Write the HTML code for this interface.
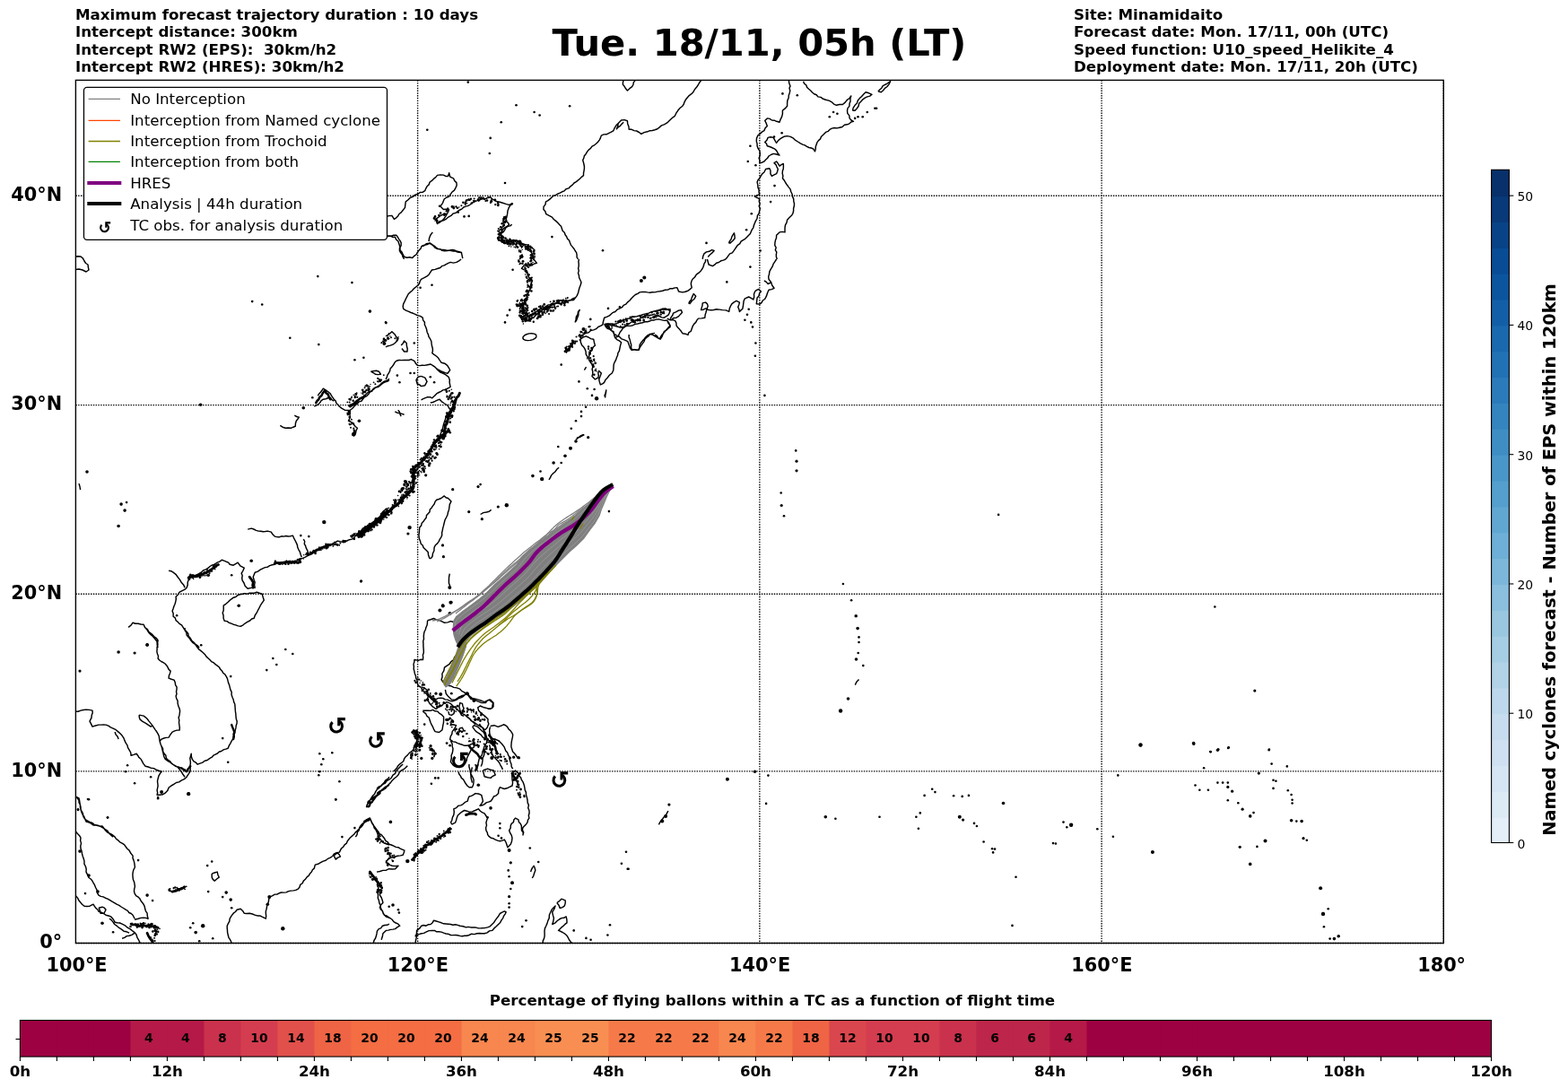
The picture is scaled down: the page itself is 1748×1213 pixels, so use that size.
<!DOCTYPE html>
<html><head><meta charset="utf-8"><title>Trajectory forecast</title>
<style>html,body{margin:0;padding:0;background:#fff;overflow:hidden}svg{display:block}</style></head>
<body><svg width="1748" height="1213" viewBox="0 0 1748 1213" font-family="'DejaVu Sans', 'Liberation Sans', sans-serif"><text x="84.0" y="21.9" font-size="16.67" font-weight="bold" text-anchor="start" >Maximum forecast trajectory duration : 10 days</text>
<text x="84.0" y="40.9" font-size="16.67" font-weight="bold" text-anchor="start" >Intercept distance: 300km</text>
<text x="84.0" y="60.7" font-size="16.67" font-weight="bold" text-anchor="start" >Intercept RW2 (EPS):&#160; 30km/h2</text>
<text x="84.0" y="79.9" font-size="16.67" font-weight="bold" text-anchor="start" >Intercept RW2 (HRES): 30km/h2</text>
<text x="1197.0" y="21.9" font-size="16.67" font-weight="bold" text-anchor="start" >Site: Minamidaito</text>
<text x="1197.0" y="40.9" font-size="16.67" font-weight="bold" text-anchor="start" >Forecast date: Mon. 17/11, 00h (UTC)</text>
<text x="1197.0" y="60.7" font-size="16.67" font-weight="bold" text-anchor="start" >Speed function: U10_speed_Helikite_4</text>
<text x="1197.0" y="79.9" font-size="16.67" font-weight="bold" text-anchor="start" >Deployment date: Mon. 17/11, 20h (UTC)</text>
<text x="846.5" y="61.5" font-size="41.67" font-weight="bold" text-anchor="middle" >Tue. 18/11, 05h (LT)</text>
<g id="map">
<line x1="465.62" y1="89.40" x2="465.62" y2="1051.50" stroke="#000" stroke-width="1.39" stroke-dasharray="1.39 1.39"/>
<line x1="846.85" y1="89.40" x2="846.85" y2="1051.50" stroke="#000" stroke-width="1.39" stroke-dasharray="1.39 1.39"/>
<line x1="1228.08" y1="89.40" x2="1228.08" y2="1051.50" stroke="#000" stroke-width="1.39" stroke-dasharray="1.39 1.39"/>
<line x1="1609.30" y1="89.40" x2="1609.30" y2="1051.50" stroke="#000" stroke-width="1.39" stroke-dasharray="1.39 1.39"/>
<line x1="84.40" y1="1051.50" x2="1609.30" y2="1051.50" stroke="#000" stroke-width="1.39" stroke-dasharray="1.39 1.39"/>
<line x1="84.40" y1="859.91" x2="1609.30" y2="859.91" stroke="#000" stroke-width="1.39" stroke-dasharray="1.39 1.39"/>
<line x1="84.40" y1="662.29" x2="1609.30" y2="662.29" stroke="#000" stroke-width="1.39" stroke-dasharray="1.39 1.39"/>
<line x1="84.40" y1="451.59" x2="1609.30" y2="451.59" stroke="#000" stroke-width="1.39" stroke-dasharray="1.39 1.39"/>
<line x1="84.40" y1="218.30" x2="1609.30" y2="218.30" stroke="#000" stroke-width="1.39" stroke-dasharray="1.39 1.39"/>
<clipPath id="mc"><rect x="84.1" y="89.5" width="1525.2" height="962.5"/></clipPath>
<g clip-path="url(#mc)">
<path fill="none" stroke="#000" stroke-width="1.45" stroke-linejoin="round" d="M430.0,241.7 L433.3,240.6 L436.9,240.4 L439.4,244.3 L441.7,242.8 L443.6,240.9 L445.0,238.5 L447.2,236.9 L449.3,234.2 L451.5,231.4 L451.8,228.2 L452.3,224.9 L455.0,222.8 L457.5,220.3 L460.5,219.3 L462.9,217.1 L466.0,216.3 L468.3,214.5 L471.4,214.2 L473.8,212.6 L474.8,210.1 L476.0,207.8 L478.1,205.9 L479.1,203.1 L481.5,201.4 L483.4,199.4 L485.7,197.6 L487.5,195.4 L490.9,194.9 L494.4,195.1 L496.8,196.4 L499.5,196.4 L500.7,192.8 L501.7,197.1 L505.5,198.8 L506.8,201.6 L508.9,203.6 L509.2,206.5 L508.1,209.1 L506.5,212.1 L503.8,214.3 L502.0,216.8 L500.4,219.4 L497.5,220.2 L495.2,222.0 L493.5,226.3 L490.9,230.1 L494.4,233.5 L497.4,233.2 L500.4,233.2 L499.9,235.7 L498.6,238.0 L497.0,240.8 L495.2,243.5 L493.0,246.0 L490.3,247.8 L487.5,249.5 L486.6,246.9 L485.8,244.3 L488.8,242.2 L491.8,240.0 L495.1,238.8 L498.6,238.3 M486.6,248.6 L489.4,247.2 L492.2,246.2 L495.2,245.5 L497.8,243.8 L500.2,241.8 L502.9,240.4 L505.1,238.1 L508.4,237.3 L510.7,235.2 L512.8,234.0 L515.1,232.8 L516.9,231.0 L519.2,230.1 L522.0,229.4 L524.3,228.0 L526.5,226.3 L528.7,224.7 L531.3,223.9 L534.0,223.4 L536.4,222.0 L539.0,221.7 L541.7,221.5 L544.1,220.2 L546.7,219.8 L548.7,221.8 L551.1,223.2 L553.6,224.6 L557.1,225.2 L560.4,226.3 L563.8,227.4 L567.3,228.4 L571.1,227.3 L568.8,229.0 L567.3,231.4 L566.0,234.9 L565.6,238.7 L565.0,241.4 L564.3,244.1 L563.9,246.9 L566.2,248.1 L567.6,250.3 L565.1,252.5 L562.2,254.1 L560.4,256.0 L559.4,258.5 L557.9,260.6 L556.1,264.4 L558.7,265.7 L560.8,267.8 L564.0,268.8 L567.3,269.5 L570.2,269.3 L573.1,268.6 L575.9,267.8 L578.1,269.0 L580.2,270.3 L582.3,271.7 L584.5,273.0 L586.5,275.0 L589.0,276.4 L591.3,278.1 L592.4,280.8 L593.2,283.5 L594.8,286.0 L595.1,288.9 M644.5,288.9 L643.1,286.8 L643.1,284.1 L642.6,281.6 L641.1,279.5 L639.8,277.2 L638.1,275.1 L636.4,273.1 L635.4,270.6 L634.5,268.0 L632.5,266.1 L631.6,263.7 L630.1,261.7 L629.3,259.3 L627.3,257.5 L626.4,255.1 L625.7,252.6 L623.9,250.7 L621.9,248.4 L619.6,246.4 L617.3,244.5 L615.4,242.1 L612.1,240.3 L608.8,238.7 L607.9,235.8 L605.9,233.5 L606.1,230.4 L608.0,227.9 L608.5,224.9 L610.9,223.6 L613.1,221.9 L615.1,220.0 L617.1,218.1 L619.6,217.4 L621.9,216.0 L624.3,215.1 L626.6,213.8 L629.1,212.9 L631.0,210.7 L634.0,209.9 L635.9,207.8 L638.2,206.1 L640.0,204.0 L642.4,202.6 L644.5,200.9 L646.5,199.2 L648.4,197.3 L650.5,195.7 L650.5,193.2 L651.0,190.6 L651.4,188.0 L651.4,185.5 L650.7,182.0 L649.7,178.6 L650.8,176.3 L651.4,173.7 L653.1,171.7 L654.5,169.3 L656.2,167.1 L658.4,165.4 L660.0,163.1 L662.6,161.8 L664.8,160.0 L666.8,158.0 L668.4,155.9 L669.5,153.6 L670.3,151.1 L673.0,149.9 L676.1,149.8 L678.9,148.4 L681.5,147.2 L684.0,145.6 L685.2,142.6 L686.9,139.8 L689.2,137.4 L692.6,134.0 L696.1,133.6 L699.4,134.7 L699.7,137.9 L700.9,141.0 L701.2,144.3 L704.1,144.3 L706.9,145.6 L709.7,146.0 L712.4,147.5 L714.9,149.4 L718.1,147.6 L721.8,146.8 L724.4,145.7 L727.3,145.5 L730.0,144.8 M689.2,137.4 L688.7,140.8 L687.4,143.9 L689.1,141.8 L691.5,140.3 L693.2,138.1 L695.2,136.2 M430.0,264.1 L433.0,263.4 L436.0,263.2 L438.9,262.1 L442.0,262.3 L443.4,264.4 L444.7,266.6 L446.2,268.6 L447.2,270.9 L447.1,273.9 L445.5,276.5 L445.4,279.5 L446.7,281.9 L448.4,284.0 L449.2,286.7 L450.6,288.9 M469.5,274.7 L472.6,274.0 L475.2,271.8 L478.4,271.3 L481.1,272.4 L483.3,274.3 L485.3,276.4 L487.7,277.6 L490.6,277.7 L492.9,279.3 L495.6,279.8 L498.5,279.6 L501.3,279.0 L504.1,278.5 L506.8,278.9 L509.1,280.7 L511.7,281.2 L514.4,281.6 L515.1,284.8 L515.8,288.1 M478.1,269.2 L478.5,265.7 L479.8,262.3 L482.3,258.9 M695.2,89.0 L694.5,91.5 L694.3,94.1 L696.1,96.3 L697.6,98.8 L699.4,101.0 L701.9,98.7 L704.6,96.7 L705.9,94.5 L706.3,91.9 L708.0,89.9 M557.9,262.3 L559.1,260.0 L561.4,258.4 L562.8,256.2 L563.9,253.8 L566.0,252.4 L568.7,251.9 L570.7,250.3 M555.3,267.5 L558.2,268.4 L560.8,270.3 L563.9,270.9 L566.9,270.1 L569.5,268.5 L572.4,267.5 L574.9,268.3 L577.3,269.2 L579.3,270.9 L582.6,272.3 L586.2,272.6 L588.8,273.2 L590.6,275.3 L593.0,276.1 L596.5,279.5 M730.0,144.8 L732.9,143.8 L735.2,141.9 L737.5,139.9 L740.3,138.8 L742.6,137.6 L744.7,136.1 L746.5,134.3 L748.3,132.5 L750.2,130.8 L752.3,129.3 L753.8,126.2 L755.7,123.3 L758.0,120.5 L760.9,118.2 L762.3,116.0 L763.1,113.6 L764.3,111.3 L766.3,108.7 L768.5,106.3 L771.2,104.4 L773.1,102.3 L774.4,99.7 L776.3,97.6 L778.1,95.0 L779.6,92.3 L781.5,89.9 M879.3,89.0 L879.7,92.6 L881.0,95.9 L880.0,98.3 L880.8,101.1 L880.2,103.7 L879.3,106.2 L879.1,109.2 L877.8,112.1 L877.6,115.1 L877.6,118.2 L875.2,120.9 L872.4,123.3 L872.4,126.8 L871.6,130.2 L870.1,133.1 L869.0,136.2 L865.6,135.3 L863.1,134.2 L860.4,134.0 L858.1,132.4 L855.3,131.9 L852.7,134.5 L854.2,137.4 L855.3,140.5 L853.1,142.8 L851.9,145.6 L849.4,147.1 L847.3,149.1 L845.0,150.8 L843.5,154.1 L843.3,157.6 L844.1,160.2 L844.1,162.8 L845.1,165.5 L846.7,167.9 L847.3,170.7 L847.2,173.4 L846.1,176.2 L847.1,178.9 L846.7,181.7 L849.4,181.2 L851.9,180.0 L853.7,178.0 L855.6,176.3 L857.0,174.0 L859.5,172.5 L862.2,171.4 L865.6,172.0 L869.0,173.1 L867.1,170.7 L865.6,167.9 L863.3,165.8 L860.4,164.5 L857.9,163.5 L855.3,162.8 L854.5,160.3 L852.7,158.5 L854.9,156.2 L856.1,153.4 L859.1,152.8 L862.2,153.4 L863.8,156.4 L865.6,159.4 L867.8,156.4 L870.7,154.2 L873.9,152.3 L877.6,151.6 L881.2,152.4 L884.5,154.2 L886.8,156.4 L889.4,158.0 L891.9,159.7 L894.8,161.1 L897.2,161.9 L899.5,163.3 L901.8,164.5 L904.4,165.0 L906.8,166.2 L908.5,168.8 L909.2,166.3 L909.3,163.6 L910.2,161.1 L911.0,158.6 L912.5,156.6 L914.5,154.9 L915.4,152.5 L918.0,150.0 L920.5,147.4 L923.1,146.4 L925.0,144.4 L927.4,143.1 L930.2,142.5 L933.1,142.9 L935.9,142.2 L939.0,141.5 L941.4,139.3 L944.5,138.8 L946.9,137.8 L948.9,136.0 L951.4,135.3 L948.9,134.0 L947.1,131.9 L946.8,128.9 L944.8,126.4 L944.5,123.3 L945.0,120.6 L946.9,118.4 L947.0,115.6 L948.0,113.0 L947.9,109.9 L948.8,107.0 L947.0,109.5 L944.5,111.3 L942.2,114.1 L939.4,116.5 L935.9,116.5 L932.5,117.3 L929.6,116.1 L927.4,113.9 L924.1,112.1 L920.5,111.3 L917.6,110.3 L915.0,108.4 L911.9,107.9 L910.2,105.7 L907.6,104.7 L905.5,103.0 L903.7,101.0 L901.6,99.3 L899.7,97.5 L898.8,94.9 L896.6,93.2 L895.6,90.7 M950.5,123.3 L951.2,120.1 L953.1,117.3 L955.4,115.1 L956.3,112.0 L958.3,109.6 L960.6,107.4 L962.8,105.0 L965.1,102.7 L968.6,103.8 L972.0,105.3 L969.7,107.1 L966.8,107.9 L964.2,109.1 L961.9,110.8 L960.0,113.0 L957.7,115.2 L957.0,118.5 L955.2,121.0 L953.1,123.3 L950.5,123.3 M978.9,101.9 L980.7,100.0 L982.8,98.3 L984.0,95.9 L986.2,94.6 L988.4,93.5 L990.6,92.2 L992.6,90.7 L990.9,94.1 L989.0,96.5 L986.5,98.4 L984.6,100.8 L982.3,102.7 L978.9,101.9 M846.7,198.8 L848.1,196.3 L849.7,193.9 L851.9,192.0 L853.6,188.5 L857.9,187.7 L859.0,190.5 L858.9,193.6 L860.4,196.3 L863.0,194.9 L865.6,193.7 L866.6,191.2 L867.3,188.5 L866.0,186.1 L865.0,183.6 L863.0,181.7 L865.6,180.0 L867.4,182.4 L869.0,185.1 L871.0,183.6 L873.3,182.5 L873.4,185.3 L873.3,188.0 L872.4,190.7 L872.2,193.4 L872.9,196.1 L872.4,198.8 L874.4,201.3 L875.9,204.0 L877.5,206.3 L879.2,208.6 L881.0,210.9 L881.8,213.8 L883.1,216.5 L883.6,219.4 L884.7,221.9 L884.8,224.5 L885.5,227.1 L885.3,229.7 L884.6,232.3 L884.6,235.0 L884.0,237.6 L882.7,240.0 L880.0,242.5 L877.6,245.2 L877.0,248.1 L875.5,250.8 L875.0,253.8 L875.0,256.3 L875.0,258.9 L872.0,258.4 L869.0,258.9 L865.6,262.3 L865.5,265.3 L864.4,268.1 L863.9,270.9 L863.8,273.6 L865.2,276.0 L864.3,278.7 L865.8,281.2 L865.3,283.8 L865.4,286.5 L866.4,288.9 M846.7,198.8 L845.0,200.8 L844.1,203.1 L844.8,206.1 L845.0,209.1 L846.1,211.6 L846.1,214.3 L846.7,216.9 L843.9,217.6 L841.6,219.4 L844.3,220.5 L846.7,222.0 L846.2,224.6 L847.2,227.2 L846.1,229.7 L847.4,232.3 L846.7,234.9 L846.1,237.8 L844.4,240.4 L844.1,243.5 L842.7,245.9 L841.5,248.4 L840.5,251.0 L839.8,253.8 L838.4,255.9 L837.3,258.2 L836.4,260.6 L833.0,264.1 L831.0,266.1 L828.5,267.6 L826.1,269.2 L824.8,271.6 L822.4,273.3 L820.8,275.5 L819.2,277.8 L817.8,279.9 L816.3,281.9 L813.6,282.9 L812.1,284.9 L810.6,287.0 L808.9,288.9 M812.4,270.9 L813.6,268.7 L815.1,266.6 L815.8,264.1 L817.0,261.9 L818.4,259.8 L819.0,262.7 L819.2,265.8 L816.8,268.5 L814.1,270.9 L812.4,270.9 M783.2,288.9 L783.7,285.8 L784.9,282.9 L787.5,280.9 L790.7,280.3 L793.5,278.6 L796.1,279.5 L793.9,281.9 L791.4,284.0 L789.2,286.4 M786.6,289.0 L786.4,291.8 L784.9,294.1 L784.3,296.8 L783.2,299.3 L781.3,301.9 L779.0,304.2 L776.3,306.2 L774.5,309.0 L772.0,311.3 L770.8,313.7 L770.3,316.5 L771.2,320.8 L769.1,322.6 L766.9,324.2 L763.9,325.2 L760.9,325.9 L756.6,325.0 L754.9,320.8 L752.3,320.9 L749.8,321.7 L747.2,321.6 L744.5,323.1 L741.4,323.3 L738.6,324.2 L735.7,324.8 L732.8,325.1 L730.0,325.9 M788.4,289.0 L789.3,292.0 L790.1,295.0 L794.4,296.7 L796.7,295.2 L798.6,293.3 L801.3,292.5 L803.7,290.8 L806.4,290.1 L808.9,289.0 M865.6,289.0 L863.9,291.6 L862.2,294.1 L861.1,297.2 L859.4,299.9 L857.9,302.7 L857.5,305.6 L856.7,308.4 L857.0,311.3 L859.6,314.7 L860.8,318.3 L863.0,321.3 L860.1,322.6 L857.0,323.3 L855.5,326.7 L854.4,330.2 L852.8,333.2 L850.1,335.3 L848.9,337.6 L846.7,339.1 L843.3,338.8 L843.7,335.3 L844.1,331.9 L846.0,329.9 L846.6,327.1 L848.4,325.0 L845.8,322.5 L843.5,323.4 L841.6,325.0 L840.5,327.9 L840.7,331.0 L839.8,334.0 L837.4,332.3 L834.7,331.0 L830.4,332.8 L829.1,335.6 L828.7,338.8 L828.4,341.5 L827.8,344.3 L824.4,347.4 L823.8,344.7 L822.7,342.2 L823.8,339.7 L824.4,337.1 L821.0,335.3 L818.3,336.9 L815.8,338.8 L814.3,341.5 L813.2,344.3 L812.7,347.4 L809.3,345.9 L805.5,345.6 L802.1,345.1 L798.6,344.8 L795.8,345.5 L793.0,345.7 L790.1,345.6 L786.6,343.9 L784.2,345.2 L781.5,345.6 L782.2,343.1 L783.0,340.6 L783.2,337.9 L786.6,337.1 L788.5,338.9 L789.2,341.3 L787.9,344.7 L787.0,348.2 L786.1,351.2 L785.8,354.2 L782.1,354.9 L778.4,355.1 L776.8,357.1 L775.7,359.4 L773.8,361.1 L772.2,363.7 L771.2,366.6 L770.3,369.2 L767.8,370.8 L766.9,373.4 L764.0,372.2 L760.9,371.7 L759.3,369.3 L757.5,367.1 L755.5,365.1 L754.0,362.8 L753.9,360.1 L752.7,357.6 L750.0,356.6 L747.2,356.8 L743.7,355.1 M730.0,373.1 L732.3,374.4 L733.8,376.8 L736.0,378.2 L737.9,375.6 L739.1,372.6 L740.3,369.7 L742.8,368.2 L744.8,366.2 L747.2,364.5 L746.5,362.0 L745.5,359.6 L743.7,357.6 M747.2,355.9 L748.2,353.6 L749.8,351.5 L750.6,349.1 L753.4,347.8 L756.1,346.3 L759.2,345.6 L760.5,348.2 L758.5,350.4 L756.6,352.6 L754.0,354.2 L751.3,354.5 L748.9,355.9 M730.0,347.4 L732.8,347.1 L735.1,345.6 L738.5,344.3 L742.0,343.9 L744.5,345.3 L747.2,346.5 L745.4,350.8 L742.9,352.6 L740.3,354.2 L737.6,353.9 L735.1,352.5 L732.5,351.9 L730.0,350.8 M767.8,338.8 L768.6,336.3 L770.4,334.4 L771.2,331.9 L773.2,327.6 L775.7,330.2 L774.1,333.2 L771.5,335.3 L768.6,339.1 M851.9,313.0 L854.3,314.4 L856.1,316.5 L860.4,314.7 M514.1,289.0 L511.6,290.8 L508.9,292.4 L505.5,293.1 L502.1,292.4 L499.7,293.4 L497.4,294.6 L495.2,295.9 L492.7,296.6 L490.8,298.5 L488.4,299.3 L485.0,300.4 L481.5,301.0 L479.7,303.6 L478.1,306.2 L475.7,308.1 L472.9,309.6 L469.5,311.3 L468.2,313.5 L467.5,316.0 L466.0,318.2 L463.6,320.0 L461.2,321.9 L459.2,324.2 L457.1,325.9 L455.2,327.8 L454.0,330.2 L452.5,333.0 L451.2,335.9 L449.7,338.8 L449.2,341.5 L449.7,344.3 L452.6,346.1 L455.7,347.4 L458.1,348.5 L460.5,349.3 L462.9,350.3 L465.2,351.6 L468.4,352.4 L471.2,354.2 L471.6,356.9 L473.4,359.2 L473.4,362.0 L474.6,364.5 L475.6,367.3 L476.1,370.2 L477.4,372.9 L478.1,375.7 L479.8,378.2 L480.9,380.7 L481.1,383.4 L481.6,386.0 L482.3,388.5 L482.4,391.1 L481.8,393.7 L484.0,395.4 L486.3,397.0 L488.4,398.8 L490.2,401.6 L492.1,404.3 L495.7,405.2 L498.6,407.4 L500.3,410.0 L501.7,412.6 L499.0,416.3 L496.4,415.6 L493.8,414.6 L491.4,413.7 L489.2,412.5 L487.0,411.2 L484.9,409.2 L482.6,407.6 L480.1,406.0 L476.7,406.7 L473.2,407.4 L470.7,407.2 L468.1,407.6 L465.5,407.4 L463.5,405.3 L462.1,402.6 L458.3,400.6 L455.8,401.5 L453.2,401.4 L450.6,401.4 L447.7,401.6 L444.8,401.5 L442.0,402.3 L439.9,404.3 L438.6,406.8 L436.9,409.1 L435.1,411.1 L434.6,413.7 L433.4,416.0 L431.9,418.1 L431.3,420.6 L430.0,422.9 M486.6,411.2 L488.7,413.1 L490.8,415.0 L493.5,416.0 L496.6,417.7 L499.5,419.8 L500.7,421.2 M500.4,421.2 L501.3,423.6 L501.1,426.3 L501.6,428.9 L502.1,431.4 L499.4,432.8 L496.9,434.4 L493.8,434.9 L491.6,436.3 L489.3,437.5 L487.0,438.7 L484.5,441.3 L481.8,443.8 L479.4,442.7 L476.7,442.6 L474.2,443.6 L471.7,444.6 L469.5,446.0 M479.8,449.0 L482.5,448.5 L485.0,447.4 L487.5,446.1 L490.1,445.2 L492.2,447.6 L494.9,449.5 L499.0,452.0 L500.5,454.7 L502.4,457.2 L500.5,459.4 L498.8,461.7 L497.3,464.1 L496.4,467.5 L495.2,470.9 L494.2,474.3 L493.5,477.8 L492.5,480.5 L491.4,483.2 L490.8,486.0 L490.4,488.9 M469.5,419.4 L473.8,421.2 L476.0,425.4 L473.8,429.7 L469.5,430.6 L467.6,428.9 L465.2,428.0 L464.0,423.7 L466.0,420.3 L469.5,419.4 M430.0,374.8 L432.5,373.4 L434.8,371.7 L436.9,369.7 L440.3,373.1 L441.9,375.8 L443.7,378.2 L442.2,380.5 L440.3,382.5 L437.9,384.1 L435.1,385.1 L432.5,385.7 L430.0,386.8 M447.2,385.1 L449.3,382.8 L450.6,380.0 L453.2,382.5 L453.4,385.7 L454.2,388.8 L454.0,392.0 L450.6,392.0 L448.0,388.5 M440.3,458.9 L442.7,460.2 L445.5,460.6 L448.0,461.4 L450.6,462.3 M443.7,457.2 L445.4,459.2 L446.0,461.8 L447.2,464.1 M645.4,289.0 L644.9,291.6 L645.2,294.2 L645.2,296.7 L644.6,299.3 L645.3,301.9 L644.5,304.4 L645.4,307.0 L645.7,309.8 L646.9,312.3 L648.0,314.7 L647.2,317.8 L646.0,320.7 L645.2,323.7 L644.5,326.8 L643.2,329.6 L641.4,332.1 L639.4,334.5 L635.8,334.8 L632.5,336.2 L629.1,337.1 L626.6,337.8 L624.0,338.5 L621.3,337.9 L618.8,338.8 L615.9,339.9 L613.1,341.2 L610.2,342.2 L608.1,343.5 L605.7,344.5 L604.0,346.5 L601.6,347.4 L599.2,349.5 L596.8,351.7 L594.8,354.2 L592.3,355.0 L590.3,356.8 L587.9,357.6 L585.4,356.4 L582.6,355.7 L580.2,354.2 M641.1,359.4 L642.0,356.4 L642.4,353.2 L644.1,350.5 L644.5,347.4 L646.2,345.6 L644.9,348.3 L644.8,351.4 L643.7,354.2 L642.7,357.0 L641.1,359.4 M644.5,374.8 L647.6,374.3 L650.4,372.8 L653.1,371.4 L656.2,370.7 L658.6,368.5 L661.7,367.9 L664.6,366.7 L666.8,364.5 L669.5,363.4 L672.0,361.9 L672.3,359.3 L673.0,356.8 L673.7,354.2 L676.2,353.4 L678.5,352.3 L680.6,350.8 L682.9,348.7 L685.8,347.5 L688.0,345.2 L690.9,343.9 L693.4,342.7 L695.1,340.4 L697.7,339.2 L699.4,337.1 L702.0,335.0 L704.1,332.6 L706.3,330.2 L708.4,328.5 L710.9,327.4 L713.2,325.9 L716.0,325.4 L718.9,325.4 L721.8,325.9 L724.5,326.2 L727.3,325.7 L730.0,325.9 M673.7,361.1 L675.1,363.9 L677.1,366.2 L679.6,367.0 L681.6,368.8 L684.0,369.7 L684.6,373.2 L685.7,376.5 L689.2,374.8 L690.2,372.5 L691.3,370.2 L692.9,368.3 L694.3,366.2 L696.6,364.5 L698.5,362.4 L701.2,361.1 L703.3,359.5 L705.5,358.2 L708.0,357.6 L710.7,356.5 L713.4,355.6 L715.6,353.4 L718.3,352.5 L721.1,351.2 L724.2,351.5 L727.2,351.0 L730.0,349.9 M701.2,373.1 L701.1,376.1 L702.2,378.8 L702.9,381.7 L703.7,384.5 L703.6,387.5 L704.6,390.3 L708.0,389.7 L711.5,390.3 L712.9,387.5 L713.2,384.3 L714.9,381.7 L716.5,379.7 L718.3,377.8 L719.9,375.8 L721.8,374.0 L724.4,372.7 L727.1,371.9 L730.0,371.4 M685.7,376.5 L687.7,378.6 L690.3,379.9 L692.6,381.7 L691.6,385.1 L690.9,388.5 L690.4,391.2 L688.9,393.6 L688.5,396.3 L687.4,398.8 L686.5,401.4 L685.2,403.8 L684.2,406.3 L684.0,409.1 L683.8,412.7 L682.3,416.0 L679.4,418.3 L677.1,421.2 L675.0,423.4 L673.7,426.3 L671.7,427.8 L669.4,428.9 L668.4,425.9 L667.7,422.9 L669.1,419.5 L670.3,416.0 L667.7,413.4 L666.8,415.9 L667.3,418.6 L666.8,421.2 L663.4,422.9 L660.0,419.4 L660.7,416.9 L660.8,414.3 L660.1,411.7 L660.8,409.1 L660.1,406.3 L658.3,404.0 L656.8,401.6 L656.5,398.8 L656.9,395.3 L658.3,392.0 L660.2,389.8 L661.2,387.0 L663.4,385.1 L662.4,381.7 L661.7,378.2 L658.6,377.6 L656.0,376.0 L653.1,374.8 L649.9,376.1 L647.1,378.2 L647.4,381.8 L648.8,385.1 L650.8,387.1 L652.2,389.4 L653.1,392.0 L653.2,394.9 L654.9,397.6 L654.8,400.6 M629.1,392.0 L631.5,390.0 L634.2,388.5 L635.2,386.1 L636.5,383.9 L637.8,381.7 L639.7,380.0 L638.5,382.6 L637.7,385.5 L635.8,387.3 L634.2,389.4 L632.4,391.3 L631.1,393.7 M673.7,441.7 L675.0,438.4 L675.8,434.9 L675.5,437.8 L674.8,440.6 L674.6,443.5 M642.8,488.1 L645.9,487.5 L648.6,486.0 L651.4,484.7 M651.4,412.6 L653.5,409.1 M84.0,286.0 L87.0,285.7 L90.0,286.0 L92.5,288.1 L94.0,291.0 L95.6,293.5 L98.0,295.0 L98.4,298.1 L99.0,301.0 L96.0,303.0 L92.0,301.0 L88.0,300.0 L84.0,300.6 M354.3,441.2 L355.7,439.1 L357.4,437.3 L358.9,435.3 L360.3,433.2 L363.3,435.2 L366.3,437.2 L368.3,438.8 L369.5,441.1 L370.9,443.1 L372.3,445.2 L374.2,447.0 L374.9,449.5 L376.9,451.2 L378.4,453.2 L381.2,455.4 L384.4,457.2 L387.4,457.5 L390.4,457.2 L392.6,455.5 L394.6,453.4 L396.4,451.2 L398.6,450.0 L400.2,447.9 L402.8,447.3 L404.4,445.2 L406.0,442.9 L408.8,441.6 L410.7,439.6 L412.4,437.2 L414.7,436.1 L416.0,433.7 L418.1,432.2 L420.4,431.2 L422.7,430.0 L424.4,428.2 L426.3,426.5 L428.4,425.2 L431.5,424.3 L434.0,422.2 M388.4,453.2 L390.4,451.1 L393.2,450.1 L395.5,448.4 L397.7,446.4 L400.4,445.2 L402.3,443.6 L404.6,442.4 L406.7,441.1 L408.4,439.2 L410.7,437.0 L413.7,435.9 L416.4,434.2 L418.8,432.0 L422.0,431.2 L424.4,429.2 L426.5,427.4 L428.9,426.1 L431.5,425.3 L434.0,424.2 M388.4,457.2 L388.7,460.0 L390.0,462.5 L390.4,465.2 L388.4,469.2 L391.7,470.8 L394.4,473.2 L396.1,475.5 L398.4,477.3 L397.0,480.1 L396.4,483.3 L392.4,485.3 M312.3,474.3 L315.1,476.2 L318.3,477.3 L321.3,477.0 L324.3,477.3 L326.8,476.2 L329.3,475.3 L329.4,472.2 L330.3,469.2 L331.9,467.3 L333.3,465.2 L330.7,464.5 L328.3,463.2 M413.4,414.2 L416.0,415.5 L418.4,417.2 L421.4,417.6 L424.4,417.2 L422.4,414.2 L419.5,413.2 L416.4,413.6 L413.4,414.2 M350.3,453.2 L354.3,451.2 L356.4,449.3 L357.9,446.8 L360.3,445.2 L363.1,444.8 L365.7,443.8 L368.3,443.2 L369.9,445.7 L372.3,447.2 M434.0,566.1 L431.1,567.3 L428.4,569.1 L426.5,570.8 L425.2,572.9 L423.9,575.1 L422.4,577.1 L420.1,578.2 L418.1,579.7 L416.6,581.8 L414.4,583.1 L412.1,585.0 L409.5,586.3 L406.9,587.6 L404.4,589.1 L402.8,591.5 L400.5,593.3 L398.4,595.1 L396.3,597.1 L394.8,599.6 L392.4,601.1 L389.5,601.7 L387.0,602.9 L384.4,604.1 L381.7,604.1 L379.0,603.8 L376.4,603.1 L373.8,604.7 L371.1,606.0 L368.3,607.1 L365.5,607.8 L363.0,609.1 L360.3,610.1 L357.6,611.1 L355.2,612.6 L352.3,613.1 L349.0,614.7 L346.3,617.2 L343.4,619.4 L340.3,621.2 L337.4,622.4 L334.3,623.2 L331.9,625.0 L328.7,625.2 L326.3,627.2 L323.3,627.2 L320.3,627.2 L317.6,626.6 L314.9,626.6 L312.3,627.2 L309.1,627.5 L306.3,629.2 L303.4,629.8 L300.7,630.6 L298.3,632.2 L295.4,632.6 L292.8,633.8 L290.2,635.2 L287.5,637.1 L284.2,638.2 L283.2,640.7 L282.2,643.2 L283.1,646.2 L284.2,649.2 L283.6,652.2 L284.2,655.2 L281.5,655.1 L278.9,655.6 L276.2,656.2 L273.2,653.2 L272.0,650.0 L270.2,647.2 L269.7,644.5 L270.2,641.8 L269.2,639.2 L270.9,636.3 L272.2,633.2 L268.2,631.2 L266.6,629.3 L265.2,627.2 L262.7,628.7 L260.2,630.2 L256.2,629.2 L254.6,627.1 L252.2,626.2 L249.7,625.1 L247.2,624.2 L244.9,626.1 L242.2,627.2 L239.4,629.1 L236.2,630.2 L234.0,631.5 L232.2,633.2 L229.5,634.8 L226.5,636.0 L224.2,638.2 L221.7,639.9 L218.9,641.0 L216.2,642.2 L213.1,642.4 L210.2,643.2 L210.3,646.3 L209.2,649.2 L209.2,652.3 L208.1,655.2 L206.1,657.2 L203.1,658.6 L200.1,660.2 L198.4,662.9 L196.1,665.2 L196.3,667.9 L195.8,670.6 L195.1,673.2 L194.0,675.8 L193.1,678.5 L192.1,681.2 L193.2,684.1 L193.1,687.2 L195.3,688.9 L196.1,691.6 L198.1,693.2 L200.0,695.4 L202.5,696.9 L204.1,699.3 L205.8,702.1 L208.1,704.3 L209.8,706.5 L210.2,709.3 L212.3,711.5 L213.8,714.3 L216.2,716.3 L218.0,718.4 L220.4,719.9 L222.2,722.1 M206.1,655.2 L204.6,651.9 L202.1,649.2 L200.3,646.1 L198.1,643.2 L196.0,640.3 L193.1,638.2 L190.8,636.7 L188.1,636.2 M276.2,590.1 L280.2,589.1 L282.9,590.0 L285.5,591.4 L288.2,592.1 L290.7,592.2 L293.3,592.7 L295.8,592.5 L298.3,592.1 L302.3,593.1 L304.0,595.8 L306.3,598.1 L308.8,598.6 L311.3,598.8 L313.8,597.8 L316.3,598.1 L318.7,597.5 L321.3,598.0 L323.8,597.8 L326.3,597.1 L327.6,599.8 L329.0,602.5 L330.3,605.1 L331.4,607.6 L331.8,610.3 L332.9,612.8 L334.3,615.2 L335.2,618.2 L336.3,621.2 M338.3,601.1 L339.7,603.5 L339.3,606.3 L340.6,608.6 L341.3,611.1 L342.7,613.7 L343.6,616.4 L344.3,619.2 M260.2,666.2 L262.8,665.5 L265.0,663.6 L267.5,662.7 L270.2,662.2 L272.9,661.6 L275.6,662.1 L278.2,661.2 L280.9,661.2 L283.7,661.2 L286.2,660.2 L289.2,661.3 L292.2,662.2 L293.2,665.7 L294.3,669.2 L292.2,672.2 L290.2,675.2 L288.9,677.9 L287.5,680.5 L286.2,683.2 L284.3,686.0 L283.2,689.2 L280.6,690.0 L278.6,692.0 L276.2,693.2 L273.5,694.8 L271.0,696.8 L268.2,698.3 L265.5,697.9 L262.9,696.9 L260.2,696.2 L257.8,695.1 L255.2,694.2 L253.0,692.6 L250.2,692.2 L249.1,689.3 L249.1,686.2 L248.2,683.2 L249.2,680.6 L249.2,677.9 L249.2,675.2 L251.8,673.3 L254.2,671.2 L256.1,669.4 L258.1,667.8 L260.2,666.2 M143.1,699.3 L146.0,697.2 L148.1,694.2 L151.0,695.3 L154.1,695.2 L157.0,696.0 L160.1,696.2 L161.6,699.6 L164.1,702.3 L165.6,705.0 L167.7,707.2 L170.1,709.3 L171.9,711.2 L173.5,713.2 L175.1,715.3 L175.2,718.7 L176.1,722.1 M88.0,539.1 L89.0,542.5 L89.6,546.1 M400.0,598.4 L402.3,597.0 L404.1,595.0 L406.0,593.1 L408.2,591.5 L410.3,589.8 L412.4,587.7 L415.0,586.2 L417.4,584.6 L419.5,582.4 L422.3,581.3 L424.0,578.9 L426.2,576.9 L428.8,575.4 L430.6,573.1 L432.6,571.0 L434.4,569.0 L437.1,568.1 L438.4,565.6 L440.6,564.1 L442.8,562.6 L444.6,560.7 L447.0,558.7 L448.8,556.3 L451.3,554.5 L453.2,552.1 L455.5,549.8 L458.0,547.7 L460.1,545.2 L460.4,542.5 L461.4,539.8 L461.4,537.0 L460.9,534.2 L461.8,531.5 L460.7,528.7 L461.3,525.6 L460.1,522.9 L462.1,520.9 L464.2,518.9 L466.9,517.8 L469.0,515.2 L471.5,513.2 L473.8,510.9 L476.0,508.7 L477.1,505.7 L479.2,503.3 L480.7,500.6 L482.8,498.3 L483.6,495.1 L485.9,493.0 L487.5,490.3 L490.1,489.1 L491.9,486.9 L494.0,485.2 L496.1,483.4 L498.6,481.5 L501.3,480.0 M480.7,622.4 L482.1,620.1 L482.4,617.3 L483.9,614.0 L484.1,610.4 L485.4,607.8 L487.6,605.9 L489.2,603.6 L490.3,601.2 L491.7,599.1 L492.7,596.7 L492.6,594.0 L493.2,591.5 L493.7,588.9 L494.4,586.4 L495.2,583.0 L496.1,579.5 L497.6,576.8 L498.9,574.0 L499.5,571.0 L500.5,568.2 L500.9,565.3 L501.3,562.4 L503.0,558.9 L499.5,555.5 L497.1,554.7 L495.3,552.9 L491.8,555.5 L489.3,556.5 L486.7,557.2 L485.0,559.4 L484.1,562.0 L482.4,564.1 L481.1,566.2 L479.3,568.1 L479.0,570.8 L477.2,572.7 L475.5,574.6 L475.1,577.3 L473.5,579.2 L472.1,581.3 L470.2,583.2 L469.6,586.1 L467.8,588.1 L467.5,591.0 L467.3,593.9 L466.9,596.7 L467.3,600.3 L468.6,603.6 L469.2,606.2 L471.2,608.0 L472.1,610.4 L474.7,613.0 L477.2,615.6 L477.6,619.1 L478.9,622.4 L480.7,622.4 M612.0,534.9 L613.4,532.7 L614.5,530.1 L616.2,528.1 L618.8,526.0 L620.7,523.3 L623.1,521.2 M642.0,490.3 L644.6,488.1 L647.1,486.0 L650.6,484.3 M535.6,573.5 L538.8,571.6 L542.4,571.0 L545.3,570.3 L547.6,568.4 M501.3,639.6 L500.6,643.0 L500.4,646.5 L500.4,650.0 L501.6,653.3 M206.1,700.0 L206.2,702.8 L207.8,705.3 L208.1,708.0 L209.8,710.0 L211.6,712.0 L213.0,714.3 L214.7,716.3 L217.0,717.8 L218.7,719.8 L220.2,722.0 L222.0,724.2 L224.3,725.9 L226.5,727.7 L228.5,729.7 L230.1,732.1 L232.2,734.0 L234.1,735.8 L235.8,737.7 L238.2,738.9 L240.1,740.6 L242.2,742.1 L244.2,743.7 L245.6,746.0 L247.4,747.9 L248.7,750.2 L250.8,751.9 L252.2,754.1 L253.4,756.3 L254.0,758.8 L254.6,761.3 L255.6,763.6 L256.2,766.1 L256.9,768.9 L258.2,771.6 L258.1,774.6 L259.1,777.4 L260.2,780.1 L260.7,782.6 L261.8,785.0 L262.0,787.6 L262.2,790.1 L262.4,792.9 L262.8,795.7 L263.0,798.6 L263.3,801.4 L264.2,804.1 L264.0,806.7 L263.2,809.1 L262.9,811.7 L262.2,814.1 L261.9,816.7 L261.1,819.1 L260.1,821.5 L259.6,823.9 L258.2,826.2 L256.8,828.8 L255.3,831.4 L254.2,834.2 L251.7,835.1 L249.1,835.9 L246.8,837.5 L244.2,838.2 L242.4,840.0 L240.1,841.1 L237.9,842.2 L236.2,844.2 L233.6,845.6 L231.2,847.5 L228.2,848.2 L225.8,850.1 L223.0,851.1 L220.2,852.2 L218.3,850.1 L215.7,848.6 L214.2,846.2 L213.3,843.2 L213.2,840.2 L212.6,842.8 L211.8,845.4 L212.2,848.2 L212.4,850.7 L212.0,853.2 L212.1,855.7 L212.2,858.2 L211.4,861.2 L209.7,863.6 L208.1,866.2 L205.4,868.6 L202.1,870.2 L199.6,871.9 L196.6,872.5 L194.1,874.2 L191.0,876.0 L188.1,878.2 L186.7,881.6 L184.1,884.2 L181.3,885.8 L178.1,886.2 L175.1,886.2 L175.7,883.8 L175.1,881.2 L175.6,878.7 L176.1,876.2 L175.8,873.5 L175.5,870.9 L176.1,868.2 L176.9,865.2 L178.3,862.6 L180.1,860.2 L177.1,859.3 L174.1,858.2 L171.3,856.6 L168.1,856.2 L165.2,855.0 L162.1,854.2 L159.8,851.4 L158.1,848.2 L156.8,846.0 L154.8,844.4 L153.6,842.2 L152.1,840.2 L149.2,841.4 L146.1,842.2 L145.7,839.0 L144.1,836.2 L142.6,833.6 L141.8,830.6 L140.1,828.2 L138.9,825.4 L137.8,822.6 L136.1,820.1 L134.2,818.0 L132.1,816.1 L129.3,813.7 L126.1,812.1 L123.3,810.9 L120.8,809.2 L118.0,808.1 L115.4,808.0 L112.7,808.1 L110.0,808.1 L106.5,809.0 L103.0,810.1 L101.6,807.1 L100.0,804.1 L102.0,800.1 L102.2,797.4 L103.2,794.8 L103.0,792.1 L99.5,791.4 L96.0,791.1 L93.0,791.5 L90.0,792.1 L87.1,793.2 L84.0,793.1 M155.1,797.1 L157.6,797.6 L160.1,798.1 L162.4,799.8 L164.4,801.8 L166.1,804.1 L168.2,806.6 L170.1,809.1 L168.1,810.1 L165.1,808.1 L162.1,806.1 L158.9,804.4 L156.1,802.1 L155.3,799.7 L155.1,797.1 M170.1,809.1 L171.6,811.4 L173.1,813.6 L174.7,815.8 L176.1,818.1 L177.3,820.7 L177.6,823.4 L178.1,826.2 L178.9,829.2 L180.1,832.2 L180.7,834.8 L181.4,837.5 L182.1,840.2 L182.7,843.3 L184.1,846.2 L187.0,848.4 L190.1,850.2 L193.0,852.4 L196.1,854.2 L198.6,855.7 L200.3,858.0 L202.1,860.2 L203.9,863.3 L206.1,866.2 M180.1,832.2 L181.6,834.7 L181.6,837.7 L183.1,840.2 L184.9,842.3 L185.3,845.1 L187.1,847.2 L189.7,848.9 L191.5,851.5 L194.1,853.2 L196.3,854.6 L198.9,855.0 L201.1,856.2 L204.0,857.7 L207.1,858.2 M162.1,700.0 L164.4,701.7 L165.8,704.4 L168.1,706.0 L170.2,707.9 L172.2,710.0 L174.5,711.6 L176.1,714.0 L175.7,716.5 L175.9,719.1 L175.1,721.5 L175.1,724.0 L174.9,726.6 L175.5,729.0 L176.5,731.5 L176.1,734.0 L177.7,736.0 L179.8,737.5 L182.0,738.7 L184.1,740.0 L185.8,741.9 L187.1,744.1 L188.2,746.4 L190.1,748.1 L189.5,750.7 L188.4,753.3 L188.1,756.1 L191.1,757.2 L194.1,758.1 L195.2,760.7 L195.6,763.6 L197.1,766.1 L197.0,768.6 L196.5,771.1 L197.0,773.7 L196.1,776.1 L196.8,778.8 L198.1,781.3 L198.1,784.1 L198.9,787.2 L200.1,790.1 L200.6,792.7 L200.3,795.2 L199.9,797.7 L199.1,800.1 L199.8,802.9 L199.5,805.7 L199.9,808.5 L200.3,811.3 L200.1,814.1 L197.3,814.1 L194.7,814.9 L192.1,816.1 L189.9,819.0 L188.1,822.1 L185.4,822.4 L182.7,823.0 L180.1,824.1 L178.1,826.2 M84.0,888.2 L86.3,890.0 L88.0,892.2 L88.1,894.8 L89.4,897.2 L89.4,899.8 L90.0,902.2 L91.2,904.7 L92.5,907.1 L92.7,909.9 L94.0,912.3 L96.7,914.7 L100.0,916.3 L102.8,917.4 L105.1,919.4 L108.0,920.3 L111.1,921.1 L114.0,922.3 L116.9,924.5 L120.0,926.3 L121.5,929.0 L123.8,931.1 L126.1,933.1 M408.4,900.2 L409.2,897.3 L411.0,894.9 L412.4,892.2 L413.9,889.7 L415.4,887.3 L417.6,885.3 L418.7,882.6 L420.4,880.2 L422.6,878.4 L424.5,876.3 L426.4,874.2 L428.4,872.2 L429.8,869.8 L432.3,868.4 L434.0,866.2 M410.4,900.2 L412.3,898.6 L413.0,896.0 L415.1,894.4 L416.4,892.2 L418.0,890.2 L419.4,888.1 L421.4,886.4 L423.3,884.6 L424.4,882.2 L426.4,879.9 L429.5,879.2 L431.5,876.8 L434.0,875.2 M396.4,933.1 L398.0,930.7 L398.4,927.8 L400.3,925.5 L400.7,922.6 L402.4,920.3 L404.2,918.1 L406.9,916.7 L408.4,914.3 L412.4,912.3 L413.5,915.0 L414.7,917.8 L416.4,920.3 L417.9,922.2 L419.4,924.2 L420.9,926.3 L422.4,928.3 L423.1,930.8 L424.4,933.1 M128.1,816.1 L129.1,818.9 L131.1,821.3 L132.1,824.1 M84.0,888.0 L88.0,890.0 L88.6,892.5 L88.9,895.0 L89.4,897.5 L90.0,900.0 L90.1,902.8 L90.9,905.5 L92.0,908.0 L93.8,910.5 L94.8,913.3 L96.0,916.0 L98.9,916.9 L101.7,918.1 L104.0,920.0 L106.6,919.7 L109.1,920.1 L111.5,921.2 L114.0,921.0 L115.9,923.5 L117.7,926.0 L120.0,928.1 L122.9,929.5 L125.6,931.0 L128.1,933.1 L129.6,935.3 L131.8,936.9 L133.6,938.8 L136.1,940.1 L138.5,941.6 L140.2,944.0 L141.9,946.2 L144.1,948.1 L145.8,951.3 L148.1,954.1 L148.0,956.7 L149.0,959.1 L149.7,961.6 L150.1,964.1 L150.4,967.0 L148.9,969.6 L148.2,972.4 L147.9,975.2 L148.1,978.1 L148.5,980.8 L149.6,983.4 L150.1,986.1 L150.4,988.6 L149.7,991.1 L149.5,993.6 L150.1,996.1 L151.6,998.6 L154.1,1000.1 L155.9,1001.9 L157.0,1004.2 L158.6,1006.2 L160.1,1008.2 L161.2,1010.6 L161.7,1013.3 L162.5,1015.9 L164.1,1018.2 L164.3,1021.2 L165.1,1024.2 L162.6,1023.4 L160.1,1023.2 L157.0,1023.4 L154.1,1024.2 L150.1,1025.2 M84.0,926.1 L85.3,928.2 L87.0,930.1 L88.8,931.9 L90.0,934.1 L89.6,937.1 L90.5,940.1 L89.8,943.1 L90.0,946.1 L91.0,948.8 L91.5,951.7 L92.2,954.5 L93.2,957.3 L94.0,960.1 L93.9,963.2 L95.4,966.0 L96.2,969.0 L96.0,972.1 L98.0,976.1 L99.0,978.5 L101.2,980.0 L102.8,981.9 L104.0,984.1 L105.5,986.7 L106.6,989.5 L108.0,992.1 L108.4,995.4 L110.0,998.1 L112.4,999.4 L115.1,999.9 L117.5,1001.2 L120.0,1002.1 L122.6,1003.6 L125.0,1005.2 L127.6,1006.6 L130.1,1008.2 L132.8,1009.3 L135.1,1011.0 L137.6,1012.5 L140.1,1014.2 L142.3,1015.3 L143.8,1017.5 L146.2,1018.5 L148.1,1020.2 L150.1,1024.2 M84.0,998.1 L86.4,1000.9 L88.0,1004.1 L89.9,1006.2 L91.7,1008.5 L94.0,1010.2 L97.0,1010.5 L100.0,1010.2 L104.0,1008.2 L105.4,1010.3 L106.8,1012.4 L108.7,1014.0 L110.0,1016.2 L112.9,1017.1 L115.5,1018.5 L118.0,1020.2 L121.1,1021.0 L124.0,1022.2 L126.3,1025.0 L128.1,1028.2 L130.7,1028.8 L133.5,1029.0 L136.1,1030.2 L139.4,1031.8 L142.1,1034.2 L145.3,1035.9 L148.1,1038.2 L150.4,1039.9 L152.1,1042.2 L153.0,1045.4 L154.7,1048.2 L156.1,1051.2 M122.0,1024.2 L124.3,1025.9 L126.1,1028.1 L127.7,1030.5 L130.1,1032.2 L132.0,1033.8 L134.0,1035.2 L136.2,1036.6 L138.1,1038.2 L141.2,1038.8 L144.1,1040.2 M136.1,1046.2 L138.8,1045.4 L141.2,1043.6 L144.1,1043.2 L147.3,1042.1 L150.1,1040.2 M110.0,1012.2 L114.0,1011.2 L116.4,1012.2 L118.0,1014.2 L116.0,1018.2 L112.0,1018.2 L111.4,1015.1 L110.0,1012.2 M236.2,974.1 L239.1,973.0 L242.2,972.1 L242.9,975.2 L244.2,978.1 L241.6,980.0 L239.2,982.1 L237.3,980.4 L236.2,978.1 L236.2,974.1 M258.2,1051.2 L256.9,1048.2 L255.0,1045.4 L254.2,1042.2 L253.6,1039.7 L253.5,1037.2 L253.2,1034.7 L253.2,1032.2 L254.4,1029.6 L255.8,1027.1 L256.2,1024.2 L258.0,1021.1 L260.2,1018.2 L262.5,1016.5 L264.2,1014.2 L268.2,1013.2 L270.5,1015.4 L272.2,1018.2 L275.2,1018.5 L278.2,1018.2 L281.3,1019.0 L284.2,1020.2 L286.9,1020.9 L289.7,1020.9 L292.2,1022.2 L296.3,1024.2 L296.7,1021.2 L296.3,1018.2 L296.4,1015.6 L297.2,1013.1 L297.5,1010.6 L298.3,1008.2 L299.3,1005.6 L299.7,1002.8 L300.3,1000.1 L303.3,998.8 L306.3,997.1 L308.8,997.0 L311.2,995.8 L313.7,995.0 L316.3,995.1 L319.1,994.9 L321.6,993.6 L324.3,993.1 L327.1,992.9 L329.8,992.4 L332.3,991.1 L334.0,989.0 L334.8,986.3 L337.2,984.7 L338.3,982.1 L340.4,980.3 L342.1,977.9 L344.3,976.1 L345.5,973.9 L347.3,972.1 L348.4,969.8 L350.3,968.1 L351.3,964.1 L354.6,963.3 L357.4,961.7 L360.3,960.1 L363.2,959.2 L365.6,957.3 L368.3,956.1 L370.8,954.5 L372.3,952.1 L375.2,950.6 L378.4,950.1 L380.4,946.1 L382.6,944.3 L384.1,941.8 L386.4,940.1 L387.3,937.7 L388.9,935.7 L390.5,933.8 L392.4,932.1 L394.6,930.3 L396.3,927.9 L398.4,926.1 L400.4,924.0 L402.5,922.2 L404.4,920.0 L406.1,916.9 L408.4,914.0 L412.4,912.0 L413.6,914.8 L414.8,917.5 L416.4,920.0 L417.2,923.0 L419.1,925.4 L420.4,928.1 L421.3,930.9 L422.5,933.7 L424.4,936.1 L426.1,938.3 L428.4,940.1 L431.3,941.0 L434.0,942.1 M408.4,900.0 L409.4,897.2 L410.6,894.4 L412.4,892.0 L414.7,890.9 L416.1,888.6 L418.5,887.6 L420.4,886.0 L422.4,884.5 L424.0,882.5 L426.2,881.2 L428.4,880.0 M409.4,900.0 L411.5,897.8 L412.9,895.0 L415.1,892.9 L416.4,890.0 L418.7,889.0 L420.1,886.6 L422.6,885.7 L424.4,884.0 M434.0,956.1 L432.7,958.5 L430.4,960.1 L432.4,964.1 M420.4,992.1 L421.0,995.1 L421.5,998.1 L421.3,1001.3 L422.4,1004.1 L422.9,1006.9 L424.2,1009.4 L424.4,1012.2 L425.7,1014.8 L427.1,1017.5 L428.4,1020.2 L431.4,1021.3 L434.0,1023.2 M416.4,1051.2 L417.0,1048.5 L418.5,1046.2 L419.4,1043.6 L420.0,1040.9 L420.4,1038.2 L422.0,1035.8 L424.8,1034.6 L426.4,1032.2 L428.9,1031.5 L431.6,1031.3 L434.0,1030.2 M372.3,954.1 L374.1,952.2 L376.4,951.1 L378.2,952.8 L379.4,955.1 L376.6,956.1 L374.3,958.1 L372.3,954.1 M476.6,691.8 L476.4,694.4 L476.1,697.0 L474.9,699.5 L474.3,702.0 L473.0,704.5 L472.5,707.1 L472.3,709.8 L472.5,712.3 L471.7,714.9 L471.9,717.5 L471.9,720.1 L472.1,722.6 L472.3,725.2 L472.3,727.8 L471.4,730.3 L471.7,732.9 L471.5,735.5 L468.8,735.3 L466.3,736.4 L462.0,735.5 L461.8,738.1 L461.0,740.6 L461.4,743.2 L461.2,745.8 L461.9,748.4 L462.4,751.0 L463.4,753.5 L463.8,756.1 L465.1,758.8 L465.4,761.9 L466.3,764.7 L468.8,766.0 L471.5,766.4 L474.2,767.9 L476.6,769.8 L477.0,773.4 L478.4,776.7 L480.7,778.8 L483.5,780.1 L486.2,779.6 L488.6,778.4 L491.2,778.3 L493.8,778.4 L496.2,779.9 L498.9,780.1 L501.4,781.4 L504.1,781.9 L506.7,781.1 L509.2,780.1 L511.3,778.5 L513.9,777.9 L516.1,776.7 L518.3,774.4 L521.3,773.3 L523.4,776.2 L526.4,778.4 L529.9,779.1 L533.3,780.1 L536.8,781.3 L540.1,782.7 L542.7,781.5 L545.3,780.1 L547.3,782.0 L549.6,783.6 L549.0,786.6 L548.7,789.6 L546.1,790.0 L543.6,790.4 M476.6,691.8 L480.1,690.8 L483.5,689.5 L485.9,690.7 L488.6,690.9 L491.0,692.0 L493.2,693.2 L495.5,694.3 L499.1,693.9 L502.4,692.6 L504.9,693.3 L506.7,695.2 L508.0,697.6 L508.6,700.3 L509.2,702.9 L509.6,705.8 L508.7,708.6 L509.2,711.5 L510.6,714.2 L511.5,717.1 L511.8,720.1 L511.6,723.5 L511.0,726.9 L509.7,729.1 L508.0,731.0 L506.5,733.0 L505.8,735.5 L502.9,737.7 L500.7,740.7 L498.0,742.3 L495.5,744.1 L494.8,747.8 L492.9,751.0 L493.1,754.5 L492.1,757.8 L494.1,760.5 L496.4,763.0 L499.3,764.3 L502.4,764.7 L505.8,766.4 L509.3,766.9 L512.7,768.1 L514.6,770.4 L517.2,771.6 L519.5,773.3 M438.9,859.9 L440.7,858.1 L442.4,856.3 L443.6,853.9 L445.4,852.1 L447.5,850.5 L449.7,848.7 L450.6,846.0 L452.2,843.7 L454.3,841.9 L456.4,839.4 L459.1,837.6 L461.2,835.1 L462.0,832.1 L463.1,829.2 L464.6,826.5 L464.9,823.6 L465.7,820.7 L466.3,817.9 M502.4,917.2 L503.8,914.5 L504.4,911.4 L505.8,908.6 L506.3,905.2 L505.8,901.8 L508.8,900.6 L511.0,898.3 L513.7,897.9 L516.1,896.6 L518.4,894.4 L521.3,893.2 L521.9,890.5 L523.0,888.0 L525.5,887.4 L527.8,886.2 L529.8,884.6 L533.4,885.0 L536.7,886.3 L537.6,889.7 L538.4,893.2 L536.9,895.9 L535.0,898.3 L537.7,897.8 L540.1,896.6 L542.1,894.9 L544.6,894.1 L547.0,893.2 L549.0,890.8 L550.4,888.0 L553.3,886.8 L555.6,884.6 L555.8,881.0 L557.3,877.7 L559.8,878.7 L562.4,879.5 L565.1,878.8 L567.6,877.7 L571.0,876.0 L571.6,872.6 L571.0,869.2 L570.9,865.7 L571.0,862.3 L574.5,858.9 L577.9,862.3 L578.4,864.9 L580.6,866.7 L581.3,869.2 L583.0,871.8 L584.1,874.7 L584.8,877.7 L585.2,880.6 L586.4,883.4 L586.5,886.3 L587.4,889.1 L588.0,892.0 L588.2,894.9 L589.4,897.6 L588.7,900.8 L589.9,903.5 L590.1,906.3 L589.3,909.2 L589.9,912.1 L588.5,914.2 L588.0,916.8 L586.5,918.9 L583.0,922.4 L582.4,925.2 L583.7,928.1 L583.0,930.9 L583.3,928.3 L581.5,925.9 L581.4,923.3 L581.3,920.6 L580.2,918.3 L578.4,916.4 L577.9,913.8 L574.5,912.1 L572.9,914.0 L572.4,916.7 L570.2,918.3 L569.3,920.6 L569.1,923.4 L567.6,925.8 L568.7,928.7 L570.3,931.4 L571.0,934.4 L570.5,937.9 L569.3,941.2 L565.9,944.7 L565.0,942.1 L564.2,939.5 L562.4,936.1 L559.9,937.1 L557.3,937.8 L554.7,937.1 L552.2,936.1 L550.0,934.8 L547.4,934.2 L545.3,932.7 L543.7,930.6 L543.2,928.0 L541.9,925.8 L541.6,922.9 L542.5,920.1 L541.9,917.2 L542.6,914.6 L543.6,912.1 L541.8,909.5 L540.1,906.9 L537.4,905.7 L535.2,904.0 L533.3,901.8 L529.8,903.5 L526.5,904.9 L523.0,905.2 L520.5,904.2 L517.8,903.5 L515.1,905.0 L512.7,906.9 L510.4,909.1 L509.2,912.1 L508.5,914.7 L507.5,917.2 L504.1,918.9 L502.4,917.2 M511.0,860.6 L511.8,863.0 L513.4,865.1 L514.4,867.4 L516.6,869.1 L517.9,871.5 L519.3,873.8 L520.9,876.0 L523.0,877.7 L526.4,877.7 L527.6,875.0 L528.0,872.1 L528.1,869.2 L527.1,866.8 L525.9,864.6 L524.7,862.3 L525.6,858.9 L526.4,855.4 M538.4,858.9 L541.0,858.0 L543.6,857.1 L546.9,858.3 L550.4,858.9 L551.2,861.5 L552.2,864.0 L549.3,865.3 L547.0,867.4 L543.6,866.7 L540.1,865.7 L539.2,862.3 L538.4,858.9 M523.0,852.0 L522.9,854.7 L523.6,857.2 L524.2,859.7 L524.7,862.3 L525.0,864.9 L525.1,867.5 L525.8,870.0 L526.4,872.6 M529.8,852.0 L531.0,855.4 L531.6,858.9 L532.2,855.4 L533.3,852.0 M420.0,927.5 L422.2,929.3 L425.0,930.4 L426.9,932.7 L428.6,934.8 L429.9,937.3 L432.3,938.9 L433.7,941.2 L436.3,942.0 L438.8,943.2 L441.3,944.4 L444.0,944.7 L446.2,946.1 L448.5,947.1 L450.9,948.1 L450.2,950.7 L449.2,953.3 L446.3,953.9 L443.4,954.2 L440.6,955.0 L437.2,956.0 L433.7,956.7 L431.7,959.0 L430.3,961.8 L432.9,962.4 L434.7,964.4 L437.2,965.3 L440.6,965.6 L444.0,965.3 L440.6,968.7 L437.2,969.0 L433.7,968.7 L430.5,970.2 L426.9,970.4 L423.5,971.5 L420.0,972.1 M420.0,980.7 L420.4,983.6 L420.8,986.5 L421.7,989.3 L421.8,992.3 L423.3,994.9 L423.4,997.9 L425.1,1000.5 L426.2,1003.4 L426.9,1006.5 L424.6,1008.7 L423.4,1011.6 L424.5,1013.9 L426.5,1015.6 L427.1,1018.2 L428.6,1020.2 L430.4,1022.0 L432.8,1022.9 L435.2,1023.7 L437.2,1025.3 L438.9,1027.6 L441.3,1029.0 L443.9,1030.1 L445.7,1032.2 L443.0,1033.6 L440.6,1035.6 L438.0,1036.1 L435.4,1036.4 L432.9,1037.1 L430.3,1037.4 L426.9,1040.8 L426.3,1044.3 L425.1,1047.7 M462.9,1051.9 L463.4,1048.8 L464.1,1045.7 L464.6,1042.5 L467.2,1041.6 L469.8,1040.8 L472.5,1040.4 L474.9,1039.1 L478.2,1037.6 L481.8,1037.4 L484.4,1037.4 L486.8,1038.8 L489.5,1038.8 L492.1,1039.1 L494.6,1040.1 L497.2,1041.0 L499.9,1041.3 L502.4,1042.5 L505.0,1042.6 L507.6,1042.5 L510.1,1042.7 L512.7,1043.4 L515.3,1043.8 L517.9,1043.3 L520.4,1043.2 L523.0,1042.5 L525.7,1041.2 L528.8,1041.6 L531.6,1040.8 L534.4,1040.5 L537.3,1040.8 L540.1,1040.8 L543.1,1039.9 L545.6,1037.9 L548.7,1037.4 L550.9,1034.9 L553.3,1032.8 L555.6,1030.5 L557.7,1028.5 L559.0,1025.9 L560.7,1023.6 L561.6,1021.2 L563.1,1019.1 L564.2,1016.8 L562.4,1015.9 L559.8,1017.1 L557.3,1018.5 L555.8,1021.2 L553.9,1023.6 L552.1,1026.2 L550.4,1028.8 L548.3,1030.7 L546.3,1032.8 L543.6,1033.9 L540.2,1034.6 L536.7,1034.8 L533.2,1034.9 L529.8,1033.9 L527.3,1033.9 L524.7,1033.9 L522.1,1033.4 L519.5,1033.9 L516.2,1032.7 L512.7,1032.2 L510.2,1031.4 L507.6,1030.7 L504.9,1031.2 L502.4,1030.5 L499.8,1030.2 L497.2,1030.0 L494.6,1029.8 L492.1,1028.8 L489.2,1027.9 L486.4,1027.0 L483.5,1026.2 L482.2,1028.7 L480.1,1030.5 L477.3,1030.8 L474.9,1032.2 L472.3,1031.5 L469.8,1032.2 L467.6,1035.2 L464.6,1037.4 L464.4,1041.0 L462.9,1044.2 M605.4,1051.9 L605.2,1049.1 L606.5,1046.4 L607.1,1043.7 L607.1,1040.8 L607.0,1037.8 L607.5,1034.9 L608.8,1032.2 L610.0,1029.4 L610.9,1026.4 L612.2,1023.6 L612.4,1020.0 L613.9,1016.8 L615.1,1014.1 L617.0,1011.9 L619.1,1009.9 L618.3,1012.4 L617.1,1014.6 L615.7,1016.8 L616.4,1020.2 L617.4,1023.6 L616.8,1027.1 L615.7,1030.5 L619.1,1028.8 L621.1,1026.8 L623.4,1025.0 L625.9,1023.6 L628.7,1023.3 L631.1,1021.9 L631.9,1025.3 L632.0,1028.8 L629.9,1030.4 L628.0,1032.3 L625.9,1033.9 L622.5,1037.4 L624.9,1038.3 L627.2,1039.5 L629.4,1040.8 L631.6,1042.7 L633.2,1045.1 L634.5,1047.7 L636.1,1049.9 L638.0,1051.9 M620.8,1006.5 L623.6,1004.6 L625.9,1002.2 L630.2,1003.9 L630.2,1006.9 L629.4,1009.9 L627.0,1011.6 L624.2,1012.5 L623.0,1009.2 L620.8,1006.5 M420.0,879.5 L422.0,877.3 L424.8,876.4 L426.9,874.3 L429.5,873.0 L431.1,870.5 L433.7,869.2 L436.3,867.2 L438.0,864.2 L440.6,862.3 L441.8,859.4 L444.0,857.1 L446.4,854.4 L449.2,852.0 M420.0,884.6 L422.2,882.7 L424.7,881.3 L426.9,879.5 L429.0,877.7 L431.4,876.3 L433.4,874.5 L435.4,872.6 L437.4,869.9 L439.7,867.7 L442.3,865.7 L444.3,863.6 L445.3,860.8 L447.5,858.9 L450.1,857.7 L452.3,855.8 L454.3,853.7 M591.6,972.1 L592.4,969.7 L593.6,967.4 L595.1,965.3 L596.2,967.7 L596.8,970.4 L595.7,973.3 L594.8,976.3 L593.3,979.0 M953.3,763.6 L954.9,760.2 L957.5,757.5 M734.4,919.4 L735.6,917.0 L737.1,914.8 L738.8,912.8 L740.4,910.6 L742.4,908.8 L743.6,906.4 L744.9,904.1 M598.1,374.4 L597.7,375.9 L596.3,377.4 L594.0,378.6 L591.1,379.4 L588.1,379.6 L585.5,379.2 L583.7,378.3 L582.9,377.0 L583.2,375.5 L584.6,374.0 L587.0,372.7 L589.8,371.9 L592.8,371.7 L595.4,372.1 L597.3,373.0 L598.1,374.4 M465.2,763.7 L467.3,765.1 L469.5,766.3 L470.8,769.1 L473.0,771.5 L475.3,773.5 L477.3,775.8 L476.5,780.1 L477.8,782.2 L479.0,784.4 L482.5,787.9 L486.0,790.5 L488.0,788.9 L490.3,787.9 L492.8,786.5 L494.6,784.4 L498.1,782.7 L502.4,784.4 L505.9,787.9 L509.4,790.5 L512.8,794.0 L514.5,797.4 L517.1,798.3 M496.4,768.9 L497.2,773.2 L499.8,776.6 L503.3,780.1 L507.6,780.1 L511.1,777.5 L514.5,775.8 L518.0,774.9 L520.6,773.2 L522.3,775.8 L524.9,779.2 L528.4,780.1 L532.7,781.8 L537.1,783.6 L541.4,783.6 L543.1,781.0 L546.6,780.1 L550.0,783.6 L550.0,787.9 L546.6,790.5 L543.1,789.6 L539.7,788.8 L535.3,787.0 L532.7,788.8 L533.6,792.2 L537.1,795.7 L540.5,798.3 L544.0,801.8 L543.9,804.4 L544.8,806.9 L543.1,811.3 L540.5,813.9 M540.5,813.9 L538.7,811.7 L536.2,810.4 L534.1,809.0 L531.9,807.8 L528.4,805.2 L525.9,803.9 L524.1,801.8 L520.6,799.2 L518.9,797.4 L515.4,795.7 L513.6,793.8 L512.8,791.4 L511.9,787.9 L512.8,783.6 L515.4,784.4 L515.9,787.2 L517.1,789.6 L515.8,792.5 L515.4,795.7 M471.3,792.2 L474.3,792.3 L477.3,792.2 L480.0,792.4 L482.5,791.4 L484.9,792.8 L487.7,793.1 L489.6,795.1 L492.0,796.6 L494.6,799.2 L494.6,803.5 L494.4,806.1 L493.8,808.7 L493.4,811.3 L492.9,813.9 L489.4,816.5 L485.1,815.6 L483.6,813.1 L482.5,810.4 L481.1,807.9 L479.9,805.2 L479.0,802.6 L478.2,800.0 L475.9,798.3 L474.7,795.7 L471.3,793.1 M499.8,791.4 L503.3,790.5 L506.8,792.2 L505.9,795.7 L503.3,797.4 L500.7,796.6 L499.8,793.1 M501.6,808.7 L505.0,807.8 L508.5,808.7 L506.8,812.1 L504.2,815.6 L503.8,818.4 L502.4,820.8 L501.6,824.3 L505.0,826.9 L507.8,827.3 L510.2,828.6 L512.8,829.5 L515.4,830.3 L517.9,831.3 L520.6,831.2 L523.3,830.6 L525.8,829.5 L529.3,828.6 L528.4,832.9 L525.8,834.7 L524.1,838.1 L522.3,841.6 L520.6,845.0 L520.2,847.8 L518.9,850.2 L517.2,852.4 L515.4,854.6 L512.8,854.8 L510.2,855.4 L507.4,854.6 L505.0,852.8 L502.4,849.4 L503.3,845.0 L503.1,842.3 L504.2,839.8 L504.7,837.3 L505.0,834.7 L504.2,832.1 L504.2,829.5 L502.4,826.0 M546.6,809.5 L550.9,808.7 L555.2,810.4 L558.3,809.3 L561.3,807.8 L563.7,808.7 L565.6,810.4 L567.0,812.9 L569.1,814.7 L570.6,816.8 L571.7,819.1 L571.4,821.7 L570.8,824.3 L570.3,826.8 L570.0,829.5 L569.9,832.6 L570.8,835.5 L571.6,838.0 L573.4,839.8 L576.0,843.3 L577.7,845.9 M546.6,810.4 L545.7,812.9 L545.7,815.6 L545.9,818.2 L546.6,820.8 L549.2,823.4 L552.6,824.3 L556.1,826.0 L559.6,829.5 L562.2,832.9 L563.9,837.3 L565.7,839.1 L566.5,841.6 L567.8,844.0 L568.2,846.8 L569.0,849.4 L570.0,852.0 L570.2,854.8 L571.7,857.2 M526.7,810.4 L529.3,813.9 L531.2,815.9 L533.6,817.3 L536.1,819.2 L537.9,821.7 L541.4,824.3 L540.8,821.7 L540.5,819.1 L539.3,816.5 L537.1,814.7 L534.9,812.6 L532.7,810.4 L528.4,808.7 L526.7,810.4 M519.7,798.3 L523.2,800.9 L525.0,803.4 L527.5,805.2 L530.1,807.8 M534.5,806.9 L535.8,809.4 L537.9,811.3 L539.3,814.5 L541.4,817.3 L542.1,820.8 L543.1,824.3 L542.3,828.6 L540.8,830.6 L539.7,832.9 L539.0,835.6 L537.9,838.1 L537.6,840.9 L536.2,843.3 L534.3,845.6 L533.6,848.5 L532.9,851.8 L531.0,854.6 L530.4,857.4 L529.3,860.0 M540.5,834.7 L539.9,838.1 L539.7,841.6 L538.2,844.9 L537.9,848.5 L537.4,851.6 L536.2,854.6 M545.7,830.3 L546.6,834.7 L547.8,837.1 L548.3,839.8 L549.6,842.7 L551.8,845.0 L555.2,848.5 L556.7,850.5 L557.8,852.8 L559.3,855.4 L560.4,858.0 M511.9,812.1 L515.4,811.3 L517.1,814.7 L514.5,815.6 L511.9,813.9 L511.9,812.1 M547.4,822.5 L550.9,824.3 L552.6,827.7 L550.9,831.2 L548.3,829.5 L547.4,826.0 M430.0,262.9 L432.6,263.0 L435.2,262.9 L437.7,264.4 L440.3,264.1 L441.6,266.9 L443.9,269.1 L444.9,272.1 L446.0,275.4 L446.0,278.9 L448.0,281.1 L449.2,283.7 L450.6,286.3 L453.6,287.3 L456.8,286.7 L459.7,287.6 L461.8,285.3 L464.3,283.5 L465.5,281.1 L467.2,278.9 L469.1,276.9 L470.0,274.4 L473.1,273.3 L476.3,272.6 L479.2,270.9 L481.7,272.7 L484.4,274.3 L486.6,276.5 L489.5,277.8 L492.2,278.3 L494.8,278.5 L497.5,278.9 L500.2,279.1 L502.9,279.6 L505.5,280.1 L508.8,280.0 L512.0,280.7 L515.1,281.7 M675.1,361.4 L676.7,363.8 L679.3,365.5 L681.2,367.7 L683.1,369.9 L684.7,372.4 L687.6,374.1 L690.6,375.5 L693.0,377.9 L696.5,379.1 L699.8,380.6 L700.7,383.1 L701.6,385.5 L702.4,388.0 L703.9,390.2 L706.7,389.7 L709.4,390.4 L712.2,390.2 L713.2,387.6 L714.7,385.2 L716.4,382.9 L718.1,380.6 L719.0,377.9 L721.0,376.2 L723.2,374.7 L724.5,372.4 L727.6,373.2 L730.1,374.9 L732.8,376.5 L735.5,377.9 L736.7,375.1 L738.4,372.7 L740.5,370.6 L742.4,368.3 L744.8,365.6 L747.2,362.8 L745.0,360.3 L743.8,357.3 L740.5,357.4 L737.3,356.6 L734.1,355.9 L731.6,356.1 L729.2,356.9 L726.6,356.9 L724.2,358.0 L721.8,358.7 L718.9,358.7 L716.3,359.7 L713.6,360.3 L710.8,361.0 L708.1,361.4 L705.5,362.7 L702.7,363.4 L699.8,363.2 L697.0,363.7 L694.3,364.8 L691.5,365.0 L688.8,364.2 L686.0,363.5 L683.3,362.8 L680.6,362.6 L677.9,361.4 L675.1,361.4 M673.7,361.4 L676.5,360.9 L679.2,360.9 L682.0,361.0 L684.7,361.5 L687.5,360.7 L689.8,359.4 L692.5,358.7 L694.6,356.8 L697.3,356.2 L699.8,355.2 L702.5,355.1 L704.8,353.5 L707.4,353.0 L710.1,352.7 L712.6,351.9 L715.1,351.2 L717.7,350.4 L720.5,349.8 L723.2,349.1 L725.8,347.8 L728.6,347.1 L731.4,346.4 L734.2,345.7 L736.9,344.9 L739.6,345.0 L742.4,345.4 L745.1,344.8 L747.9,344.9 M593.4,284.5 L594.5,287.0 L595.4,289.5 L598.4,293.4 L595.7,294.0 L593.4,295.4 L590.4,294.7 L587.5,295.8 L584.5,295.4 L581.5,299.3 L583.9,300.6 L586.5,301.3 L588.5,305.3 L589.5,309.2 L591.7,311.0 L593.4,313.2 L592.1,316.1 L591.4,319.1 L591.1,322.3 L589.5,325.1 L588.5,328.0 L587.5,331.0 L585.5,335.0 L583.5,338.9 L583.8,342.2 L583.9,345.5 L584.5,348.8 L586.6,351.7 L589.5,353.7 L591.7,352.4 L593.5,350.5 L595.4,348.8 L598.0,347.5 L600.4,345.6 L603.3,344.8 L606.0,343.3 L608.6,341.6 L611.2,339.9 L613.9,339.6 L616.4,338.1 L619.1,337.9 L621.8,337.0 L624.2,335.4 L627.0,335.0 L630.5,335.3 L634.0,335.0 L636.5,334.4 L638.5,332.9 L640.9,332.0"/>
<path fill="none" stroke="#000" stroke-width="3.0" stroke-linejoin="round" stroke-linecap="round" stroke-dasharray="2 1.2" d="M494.4,488.9 L495.0,486.2 L495.4,483.4 L495.4,480.5 L496.1,477.8 L496.4,474.8 L498.1,472.2 L498.6,469.2 L499.6,466.3 L500.5,463.3 L502.1,460.6 L503.2,457.7 L504.8,455.1 L505.5,452.0 L507.2,449.4 L507.9,446.4 L508.9,443.5 L511.2,441.3 L512.4,438.3"/>
<path fill="none" stroke="#000" stroke-width="2.6" stroke-linejoin="round" stroke-linecap="round" stroke-dasharray="2 1.2" d="M352.3,449.2 L353.5,446.9 L355.3,445.2 L356.3,442.8 L358.3,441.2 L360.0,438.0 L362.3,435.2 L363.4,438.0 L365.9,439.9 L366.7,442.8 L368.3,445.2 M390.4,453.2 L392.4,451.7 L394.8,450.8 L396.8,449.3 L398.4,447.2 L400.1,445.3 L402.2,443.9 L404.8,443.3 L406.4,441.2 M461.2,814.5 L463.7,817.1 L466.3,819.6 L468.4,822.0 L469.8,824.8 L468.5,828.1 L468.1,831.6 M523.0,831.6 L524.9,834.3 L527.3,836.5 L529.8,838.5 L532.3,840.6 L534.0,843.5 L536.7,845.4 M545.3,819.6 L546.8,821.6 L548.0,823.8 L549.0,826.1 L550.4,828.2 L551.1,830.8 L552.3,833.3 L552.6,836.0 L553.9,838.5"/>
<path fill="none" stroke="#000" stroke-width="2.8" stroke-linejoin="round" stroke-linecap="round" stroke-dasharray="2 1.2" d="M210.2,644.2 L212.9,643.4 L215.7,642.5 L218.7,642.9 L221.4,641.9 L224.2,641.2 L226.7,639.6 L229.5,638.6 L232.2,637.2 L234.5,635.5 L237.0,633.9 L239.4,632.4 L241.5,630.4 L244.2,629.2 M398.4,596.1 L400.8,594.7 L403.3,593.5 L405.3,591.5 L407.8,590.2 L409.6,588.0 L411.8,586.3 L414.4,585.1 L415.9,582.8 L418.8,582.1 L420.0,579.4 L422.3,577.9 L424.6,576.4 L426.6,574.7 L428.5,572.8 L430.4,570.8 L432.4,569.1 M344.3,618.2 L346.8,617.4 L348.9,615.8 L351.4,615.1 L353.2,613.0 L355.9,612.7 L357.8,610.8 L360.3,610.1 L363.0,609.1 L365.6,608.3 L368.3,607.5 M306.3,628.2 L308.7,627.5 L311.3,627.6 L313.8,627.9 L316.3,627.2 L319.1,626.4 L321.9,626.6 L324.7,627.6 L327.5,626.8 L330.3,626.8 M278.2,643.2 L280.4,646.1 L282.2,649.2 L281.7,652.2 L282.2,655.2 M146.1,1030.2 L148.5,1031.0 L151.2,1030.7 L153.6,1031.7 L156.1,1032.2 L159.1,1032.1 L162.1,1032.1 L165.1,1032.2 L168.1,1032.2 L170.8,1032.9 L173.5,1033.3 L176.1,1034.2 M164.1,1040.2 L165.2,1042.9 L166.6,1045.5 L168.5,1047.7 L170.1,1050.2 M192.1,994.1 L194.6,993.5 L197.0,992.8 L199.3,991.5 L201.8,991.1 L204.1,990.1 L206.1,988.1 M412.4,972.1 L413.9,974.1 L415.4,976.1 L417.0,978.0 L418.4,980.1 L419.9,982.2 L421.7,983.9 L423.2,985.9 L424.4,988.1 M406.4,916.0 L409.3,914.6 L412.4,914.0 M502.4,924.1 L499.8,925.4 L498.0,927.8 L495.5,929.2 L493.5,931.3 L491.0,932.8 L488.6,934.4 L486.4,935.4 L484.2,936.7 L482.4,938.6 L480.1,939.5 L478.0,941.4 L475.4,942.5 L473.2,944.2 L471.5,946.4 L469.2,948.4 L466.9,950.4 L464.7,952.5 L462.9,955.0 L459.5,958.4 M519.5,908.6 L522.9,907.4 L526.4,906.9 L529.2,907.2 L531.6,908.6 M571.0,862.3 L572.0,864.7 L573.5,866.8 L574.5,869.2 L576.4,867.1 L577.7,864.4 L579.6,862.3"/>
<path fill="none" stroke="#000" stroke-width="3.2" stroke-linejoin="round" stroke-linecap="round" stroke-dasharray="2 1.2" d="M400.0,598.4 L402.3,597.0 L403.8,594.6 L406.3,593.4 L408.0,591.2 L410.3,589.8 L412.9,588.4 L415.1,586.5 L417.7,585.0 L419.6,582.5 L422.3,581.3 L424.8,579.6 L426.2,576.9 L428.8,575.4 L430.5,573.0 L432.6,571.0 L435.0,569.7 L436.3,567.1 L438.2,565.3 L440.6,564.1 L443.0,562.8 L444.6,560.7 L446.7,558.5 L448.9,556.4 L450.7,553.9 L453.2,552.1 L455.5,549.8 L457.7,547.4 L460.1,545.2 L461.0,542.5 L461.1,539.8 L461.1,537.0 L461.0,534.2 L461.8,531.5 L460.7,528.7 L461.3,525.6 L460.1,522.9 L462.4,521.3 L464.4,519.2 L466.9,517.8 L469.5,515.8 L471.2,512.9 L473.8,510.9 L475.5,508.3 L477.7,506.0 L478.5,502.9 L480.7,500.6 L481.9,497.7 L483.6,495.1 L485.4,492.6 L487.5,490.3 L489.6,488.4 L491.7,486.7 L493.8,484.9 L496.1,483.4 L498.3,481.2 L501.3,480.0"/>
<path fill="none" stroke="#000" stroke-width="2.4" stroke-linejoin="round" stroke-linecap="round" stroke-dasharray="2 1.2" d="M258.2,808.1 L259.2,810.8 L260.3,813.4 L261.2,816.1 L260.5,818.8 L260.8,821.5 L260.2,824.1 M202.1,856.2 L205.1,858.3 L208.1,860.2 L209.9,857.0 L212.2,854.2"/>
<g fill="#000"><circle cx="521.8" cy="91.6" r="1.3"/><circle cx="476.3" cy="144.8" r="1.3"/><circle cx="575.5" cy="117.3" r="1.3"/><circle cx="595.6" cy="125.0" r="1.3"/><circle cx="601.6" cy="128.5" r="1.3"/><circle cx="635.1" cy="118.2" r="1.3"/><circle cx="558.7" cy="136.2" r="1.3"/><circle cx="546.7" cy="153.9" r="1.3"/><circle cx="545.8" cy="171.0" r="1.3"/><circle cx="563.0" cy="204.0" r="1.3"/><circle cx="615.4" cy="264.1" r="1.3"/><circle cx="672.0" cy="279.2" r="1.3"/><circle cx="555.3" cy="228.9" r="1.3"/><circle cx="570.7" cy="227.2" r="1.3"/><circle cx="522.7" cy="240.9" r="1.3"/><circle cx="517.5" cy="241.4" r="1.3"/><circle cx="510.7" cy="236.6" r="1.3"/><circle cx="490.1" cy="229.7" r="1.3"/><circle cx="872.4" cy="104.4" r="1.3"/><circle cx="888.8" cy="106.2" r="1.3"/><circle cx="929.1" cy="125.0" r="1.3"/><circle cx="933.4" cy="126.8" r="1.3"/><circle cx="924.8" cy="130.2" r="1.3"/><circle cx="836.4" cy="162.8" r="1.3"/><circle cx="833.8" cy="180.0" r="1.3"/><circle cx="842.4" cy="184.3" r="1.3"/><circle cx="871.6" cy="148.2" r="1.3"/><circle cx="863.0" cy="152.5" r="1.3"/><circle cx="863.5" cy="207.1" r="1.3"/><circle cx="859.1" cy="225.1" r="1.3"/><circle cx="837.8" cy="238.3" r="1.3"/><circle cx="832.1" cy="256.3" r="1.3"/><circle cx="787.5" cy="270.9" r="1.3"/><circle cx="847.6" cy="279.5" r="1.3"/><circle cx="953.1" cy="131.9" r="1.3"/><circle cx="956.5" cy="130.2" r="1.3"/><circle cx="961.7" cy="130.2" r="1.3"/><circle cx="966.8" cy="125.0" r="1.3"/><circle cx="975.4" cy="120.8" r="1.3"/><circle cx="977.1" cy="120.8" r="1.3"/><circle cx="836.4" cy="297.6" r="1.3"/><circle cx="810.3" cy="314.4" r="1.3"/><circle cx="834.7" cy="344.8" r="1.3"/><circle cx="833.0" cy="350.8" r="1.3"/><circle cx="830.4" cy="356.8" r="1.3"/><circle cx="837.3" cy="359.4" r="1.3"/><circle cx="839.0" cy="364.5" r="1.3"/><circle cx="842.4" cy="382.5" r="1.3"/><circle cx="841.9" cy="396.8" r="1.3"/><circle cx="852.4" cy="440.9" r="1.3"/><circle cx="733.4" cy="349.1" r="1.3"/><circle cx="736.9" cy="348.2" r="1.3"/><circle cx="481.5" cy="317.8" r="1.3"/><circle cx="468.6" cy="320.8" r="1.3"/><circle cx="461.8" cy="382.5" r="1.3"/><circle cx="445.4" cy="426.3" r="1.3"/><circle cx="442.9" cy="418.6" r="1.3"/><circle cx="457.5" cy="416.0" r="1.3"/><circle cx="461.8" cy="416.0" r="1.3"/><circle cx="479.8" cy="420.3" r="1.3"/><circle cx="484.1" cy="426.3" r="1.3"/><circle cx="571.6" cy="300.7" r="1.3"/><circle cx="568.2" cy="345.6" r="1.3"/><circle cx="565.6" cy="351.6" r="1.3"/><circle cx="563.0" cy="359.4" r="1.3"/><circle cx="654.8" cy="433.2" r="1.3"/><circle cx="662.6" cy="434.0" r="1.3"/><circle cx="660.0" cy="440.9" r="1.3"/><circle cx="653.1" cy="453.8" r="1.3"/><circle cx="648.0" cy="458.9" r="1.3"/><circle cx="648.0" cy="464.1" r="1.3"/><circle cx="642.0" cy="469.2" r="1.3"/><circle cx="636.8" cy="477.8" r="1.3"/><circle cx="625.7" cy="406.6" r="1.3"/><circle cx="645.4" cy="425.4" r="1.3"/><circle cx="678.0" cy="343.9" r="1.3"/><circle cx="658.3" cy="355.9" r="1.3"/><circle cx="690.9" cy="342.2" r="1.3"/><circle cx="714.9" cy="313.0" r="2"/><circle cx="718.3" cy="309.6" r="2"/><circle cx="665.1" cy="444.3" r="2.2"/><circle cx="650.5" cy="367.1" r="2"/><circle cx="430.0" cy="359.4" r="1.3"/><circle cx="354.3" cy="308.1" r="1.3"/><circle cx="392.4" cy="315.1" r="1.3"/><circle cx="281.2" cy="336.1" r="1.3"/><circle cx="292.2" cy="339.5" r="1.3"/><circle cx="412.4" cy="347.1" r="1.8"/><circle cx="430.4" cy="360.1" r="1.3"/><circle cx="323.3" cy="376.7" r="1.3"/><circle cx="355.3" cy="384.1" r="1.3"/><circle cx="395.4" cy="401.2" r="1.3"/><circle cx="405.4" cy="398.8" r="1.3"/><circle cx="223.6" cy="451.2" r="1.8"/><circle cx="338.3" cy="454.8" r="1.8"/><circle cx="348.3" cy="443.2" r="1.3"/><circle cx="394.4" cy="484.3" r="2.2"/><circle cx="428.4" cy="383.1" r="2"/><circle cx="432.4" cy="377.1" r="1.5"/><circle cx="400.4" cy="469.2" r="1.8"/><circle cx="97.0" cy="526.0" r="1.8"/><circle cx="135.1" cy="562.1" r="1.8"/><circle cx="141.1" cy="560.1" r="1.3"/><circle cx="139.1" cy="569.1" r="1.8"/><circle cx="132.1" cy="586.5" r="1.8"/><circle cx="361.3" cy="582.1" r="2.2"/><circle cx="280.2" cy="625.2" r="1.8"/><circle cx="258.2" cy="641.2" r="1.3"/><circle cx="232.2" cy="641.2" r="1.8"/><circle cx="402.4" cy="648.2" r="1.3"/><circle cx="266.2" cy="675.2" r="1.8"/><circle cx="197.1" cy="686.2" r="1.3"/><circle cx="164.1" cy="718.9" r="1.8"/><circle cx="224.2" cy="719.3" r="1.3"/><circle cx="335.3" cy="597.1" r="1.3"/><circle cx="344.3" cy="598.1" r="1.3"/><circle cx="456.6" cy="588.1" r="2.2"/><circle cx="454.9" cy="595.0" r="1.6"/><circle cx="564.8" cy="563.2" r="2.2"/><circle cx="555.3" cy="565.0" r="1.6"/><circle cx="522.7" cy="570.6" r="1.6"/><circle cx="533.0" cy="542.6" r="1.6"/><circle cx="535.6" cy="540.1" r="1.3"/><circle cx="593.9" cy="530.6" r="1.8"/><circle cx="604.2" cy="534.1" r="2.2"/><circle cx="617.1" cy="516.0" r="1.8"/><circle cx="630.0" cy="508.3" r="1.8"/><circle cx="636.0" cy="499.7" r="2"/><circle cx="655.7" cy="487.7" r="1.6"/><circle cx="622.3" cy="498.0" r="1.3"/><circle cx="676.3" cy="546.1" r="1.3"/><circle cx="678.9" cy="570.1" r="1.3"/><circle cx="493.5" cy="607.9" r="1.6"/><circle cx="494.4" cy="620.7" r="1.6"/><circle cx="503.0" cy="671.4" r="1.6"/><circle cx="493.5" cy="674.8" r="1.6"/><circle cx="402.6" cy="647.8" r="1.6"/><circle cx="504.7" cy="545.7" r="1.6"/><circle cx="478.9" cy="516.9" r="1.6"/><circle cx="474.7" cy="529.8" r="1.6"/><circle cx="472.1" cy="522.9" r="1.6"/><circle cx="451.5" cy="536.6" r="1.6"/><circle cx="537.3" cy="578.7" r="1.6"/><circle cx="602.5" cy="525.5" r="1.3"/><circle cx="625.7" cy="516.0" r="1.3"/><circle cx="642.0" cy="492.0" r="1.8"/><circle cx="501.3" cy="655.1" r="2"/><circle cx="164.1" cy="719.0" r="1.8"/><circle cx="132.1" cy="727.0" r="1.8"/><circle cx="150.1" cy="728.0" r="1.6"/><circle cx="89.0" cy="748.1" r="1.6"/><circle cx="318.3" cy="724.0" r="1.3"/><circle cx="326.3" cy="729.0" r="1.3"/><circle cx="304.3" cy="734.0" r="1.3"/><circle cx="308.3" cy="741.0" r="1.3"/><circle cx="297.3" cy="747.1" r="1.3"/><circle cx="257.2" cy="754.1" r="1.3"/><circle cx="248.2" cy="823.1" r="1.3"/><circle cx="254.2" cy="849.8" r="1.3"/><circle cx="356.3" cy="840.2" r="1.3"/><circle cx="370.3" cy="839.2" r="1.3"/><circle cx="360.3" cy="846.2" r="1.3"/><circle cx="358.3" cy="852.2" r="1.3"/><circle cx="356.3" cy="860.2" r="1.3"/><circle cx="355.3" cy="864.2" r="1.3"/><circle cx="378.4" cy="871.2" r="1.3"/><circle cx="374.3" cy="891.2" r="1.3"/><circle cx="210.2" cy="885.2" r="2"/><circle cx="176.1" cy="890.2" r="1.3"/><circle cx="150.1" cy="873.2" r="1.3"/><circle cx="168.1" cy="866.2" r="1.3"/><circle cx="142.1" cy="853.2" r="1.3"/><circle cx="140.1" cy="860.2" r="1.3"/><circle cx="99.0" cy="891.2" r="1.3"/><circle cx="120.0" cy="911.3" r="1.3"/><circle cx="87.0" cy="902.2" r="1.3"/><circle cx="411.4" cy="894.2" r="2"/><circle cx="98.0" cy="891.0" r="1.3"/><circle cx="120.0" cy="911.6" r="1.3"/><circle cx="87.0" cy="903.0" r="1.3"/><circle cx="89.0" cy="949.1" r="1.8"/><circle cx="99.0" cy="976.1" r="1.8"/><circle cx="109.0" cy="994.1" r="1.8"/><circle cx="95.0" cy="996.1" r="1.3"/><circle cx="114.0" cy="1029.2" r="1.8"/><circle cx="154.1" cy="959.1" r="1.3"/><circle cx="232.2" cy="994.1" r="1.3"/><circle cx="236.2" cy="960.5" r="1.3"/><circle cx="231.2" cy="965.1" r="1.3"/><circle cx="252.2" cy="995.1" r="1.8"/><circle cx="257.2" cy="1003.1" r="1.8"/><circle cx="248.2" cy="1000.1" r="1.3"/><circle cx="226.2" cy="1032.2" r="2.2"/><circle cx="218.2" cy="1039.6" r="1.8"/><circle cx="215.2" cy="1029.2" r="1.3"/><circle cx="212.2" cy="1034.2" r="1.3"/><circle cx="315.3" cy="1035.2" r="2.2"/><circle cx="374.3" cy="891.4" r="1.3"/><circle cx="381.4" cy="933.1" r="1.3"/><circle cx="395.4" cy="923.1" r="1.3"/><circle cx="258.2" cy="1012.2" r="1.3"/><circle cx="237.2" cy="1046.2" r="1.3"/><circle cx="222.2" cy="1049.2" r="1.3"/><circle cx="126.1" cy="1039.2" r="1.3"/><circle cx="164.1" cy="998.1" r="1.8"/><circle cx="170.1" cy="1004.1" r="1.3"/><circle cx="176.1" cy="889.0" r="1.3"/><circle cx="210.2" cy="885.0" r="2"/><circle cx="180.1" cy="883.0" r="2"/><circle cx="300.3" cy="1000.1" r="2"/><circle cx="298.3" cy="1008.2" r="1.8"/><circle cx="493.8" cy="675.4" r="2"/><circle cx="502.4" cy="671.7" r="2"/><circle cx="501.5" cy="684.0" r="2"/><circle cx="490.4" cy="680.6" r="2"/><circle cx="473.2" cy="807.6" r="1.3"/><circle cx="480.1" cy="831.6" r="1.6"/><circle cx="485.2" cy="840.2" r="1.6"/><circle cx="481.8" cy="845.4" r="1.6"/><circle cx="469.8" cy="845.4" r="1.6"/><circle cx="577.9" cy="844.5" r="1.6"/><circle cx="521.3" cy="773.3" r="1.6"/><circle cx="536.7" cy="795.6" r="1.3"/><circle cx="540.1" cy="802.4" r="1.3"/><circle cx="476.6" cy="780.1" r="1.8"/><circle cx="485.2" cy="781.9" r="1.8"/><circle cx="498.9" cy="802.4" r="1.6"/><circle cx="504.1" cy="804.2" r="1.6"/><circle cx="529.8" cy="802.4" r="1.6"/><circle cx="485.2" cy="867.4" r="1.3"/><circle cx="488.6" cy="867.4" r="1.3"/><circle cx="480.9" cy="873.8" r="1.3"/><circle cx="435.4" cy="916.4" r="1.8"/><circle cx="557.3" cy="918.1" r="1.3"/><circle cx="557.3" cy="923.2" r="1.3"/><circle cx="555.6" cy="931.8" r="1.3"/><circle cx="559.0" cy="934.4" r="1.3"/><circle cx="590.8" cy="945.5" r="1.3"/><circle cx="600.2" cy="961.0" r="1.3"/><circle cx="698.0" cy="949.8" r="1.3"/><circle cx="692.9" cy="962.7" r="1.3"/><circle cx="699.7" cy="968.7" r="1.3"/><circle cx="586.5" cy="1026.2" r="1.3"/><circle cx="582.2" cy="1033.1" r="1.3"/><circle cx="680.0" cy="1031.3" r="1.3"/><circle cx="677.4" cy="1042.5" r="1.3"/><circle cx="653.4" cy="1045.9" r="1.3"/><circle cx="658.6" cy="1047.7" r="1.3"/><circle cx="639.7" cy="1037.4" r="1.3"/><circle cx="438.0" cy="1009.0" r="1.8"/><circle cx="444.0" cy="1014.2" r="1.3"/><circle cx="444.9" cy="1017.6" r="1.3"/><circle cx="433.7" cy="1010.8" r="1.3"/><circle cx="454.3" cy="960.1" r="2.2"/><circle cx="567.6" cy="948.1" r="2"/><circle cx="569.3" cy="961.8" r="1.6"/><circle cx="566.7" cy="970.4" r="1.3"/><circle cx="567.6" cy="977.3" r="1.3"/><circle cx="571.0" cy="984.2" r="2"/><circle cx="569.3" cy="991.0" r="1.3"/><circle cx="567.6" cy="999.6" r="1.6"/><circle cx="567.6" cy="1007.3" r="1.3"/><circle cx="567.6" cy="1011.6" r="1.3"/><circle cx="533.3" cy="875.2" r="1.8"/><circle cx="547.0" cy="900.9" r="1.8"/><circle cx="543.6" cy="911.2" r="1.3"/><circle cx="887.2" cy="502.4" r="1.3"/><circle cx="888.0" cy="514.2" r="1.6"/><circle cx="888.0" cy="524.8" r="1.6"/><circle cx="870.7" cy="549.5" r="1.3"/><circle cx="871.2" cy="563.5" r="1.6"/><circle cx="874.0" cy="575.3" r="1.3"/><circle cx="939.9" cy="651.0" r="1.3"/><circle cx="949.1" cy="669.2" r="1.3"/><circle cx="954.2" cy="686.8" r="1.8"/><circle cx="956.1" cy="700.6" r="1.8"/><circle cx="957.5" cy="710.4" r="1.3"/><circle cx="957.5" cy="716.0" r="1.3"/><circle cx="956.7" cy="728.0" r="1.3"/><circle cx="954.5" cy="735.0" r="1.8"/><circle cx="962.3" cy="742.1" r="1.3"/><circle cx="945.5" cy="779.0" r="1.8"/><circle cx="937.1" cy="792.5" r="2.2"/><circle cx="745.9" cy="897.1" r="1.6"/><circle cx="810.9" cy="868.8" r="2"/><circle cx="841.5" cy="860.2" r="1.8"/><circle cx="856.4" cy="864.6" r="1.3"/><circle cx="854.1" cy="895.9" r="1.3"/><circle cx="920.3" cy="910.8" r="1.8"/><circle cx="931.4" cy="912.7" r="1.3"/><circle cx="980.5" cy="910.8" r="1.3"/><circle cx="700.6" cy="968.8" r="1.3"/><circle cx="738.2" cy="915.6" r="2"/><circle cx="742.1" cy="909.9" r="2"/><circle cx="1039.2" cy="879.7" r="1.3"/><circle cx="1042.4" cy="883.1" r="1.3"/><circle cx="1030.6" cy="886.9" r="1.3"/><circle cx="1063.1" cy="887.3" r="1.3"/><circle cx="1072.7" cy="887.9" r="1.3"/><circle cx="1079.9" cy="886.9" r="1.3"/><circle cx="1118.5" cy="895.5" r="1.8"/><circle cx="1025.8" cy="906.4" r="1.3"/><circle cx="1021.4" cy="910.8" r="1.3"/><circle cx="1023.9" cy="923.8" r="1.3"/><circle cx="1069.8" cy="910.8" r="2"/><circle cx="1073.6" cy="914.1" r="1.6"/><circle cx="1086.0" cy="917.9" r="1.3"/><circle cx="1088.9" cy="921.0" r="1.3"/><circle cx="1096.6" cy="938.5" r="1.3"/><circle cx="1106.1" cy="946.2" r="1.3"/><circle cx="1109.0" cy="946.6" r="1.3"/><circle cx="1107.1" cy="950.4" r="1.3"/><circle cx="1132.5" cy="977.7" r="1.3"/><circle cx="1128.5" cy="1031.9" r="1.3"/><circle cx="1174.0" cy="940.1" r="1.3"/><circle cx="1176.9" cy="940.5" r="1.3"/><circle cx="1185.5" cy="916.6" r="1.3"/><circle cx="1189.3" cy="922.3" r="1.3"/><circle cx="1194.1" cy="919.8" r="2.2"/><circle cx="1223.3" cy="924.2" r="1.3"/><circle cx="1240.9" cy="932.8" r="1.3"/><circle cx="1246.3" cy="864.4" r="1.3"/><circle cx="1284.9" cy="950.0" r="2"/><circle cx="1271.5" cy="830.5" r="2.2"/><circle cx="1330.6" cy="828.6" r="1.8"/><circle cx="1349.7" cy="838.2" r="1.3"/><circle cx="1357.4" cy="836.3" r="1.6"/><circle cx="1369.8" cy="833.4" r="1.3"/><circle cx="1414.7" cy="836.3" r="1.3"/><circle cx="1417.6" cy="851.6" r="1.3"/><circle cx="1434.8" cy="854.4" r="1.3"/><circle cx="1342.1" cy="856.3" r="1.3"/><circle cx="1403.3" cy="862.1" r="1.6"/><circle cx="1332.5" cy="875.5" r="1.3"/><circle cx="1337.3" cy="880.8" r="1.3"/><circle cx="1346.9" cy="880.8" r="1.3"/><circle cx="1357.4" cy="872.6" r="1.3"/><circle cx="1363.1" cy="872.6" r="1.3"/><circle cx="1368.8" cy="872.6" r="1.3"/><circle cx="1368.8" cy="877.4" r="1.6"/><circle cx="1373.6" cy="882.2" r="1.6"/><circle cx="1368.8" cy="892.3" r="1.3"/><circle cx="1380.3" cy="895.2" r="1.3"/><circle cx="1385.1" cy="902.2" r="1.6"/><circle cx="1393.7" cy="909.9" r="1.8"/><circle cx="1397.5" cy="906.1" r="1.3"/><circle cx="1419.5" cy="869.7" r="1.3"/><circle cx="1422.4" cy="870.7" r="1.3"/><circle cx="1419.5" cy="878.9" r="1.3"/><circle cx="1435.8" cy="881.2" r="1.3"/><circle cx="1439.6" cy="886.0" r="1.3"/><circle cx="1440.6" cy="891.7" r="1.3"/><circle cx="1440.6" cy="895.5" r="1.3"/><circle cx="1439.6" cy="914.7" r="1.8"/><circle cx="1445.3" cy="915.6" r="1.3"/><circle cx="1451.1" cy="915.6" r="1.8"/><circle cx="1453.0" cy="934.7" r="1.6"/><circle cx="1456.8" cy="936.7" r="1.3"/><circle cx="1410.5" cy="937.6" r="2"/><circle cx="1382.2" cy="944.3" r="1.6"/><circle cx="1401.4" cy="943.9" r="1.3"/><circle cx="1393.7" cy="963.4" r="1.8"/><circle cx="1472.1" cy="990.2" r="2"/><circle cx="1475.0" cy="1018.9" r="2.2"/><circle cx="1475.9" cy="1033.2" r="1.3"/><circle cx="1480.7" cy="1013.2" r="1.3"/><circle cx="1487.4" cy="1046.6" r="1.8"/><circle cx="1492.2" cy="1043.8" r="1.8"/><circle cx="1482.6" cy="1046.6" r="1.3"/><circle cx="1113.1" cy="573.9" r="1.3"/><circle cx="1354.3" cy="676.5" r="1.3"/><circle cx="1398.8" cy="770.1" r="1.6"/><circle cx="1271.4" cy="830.7" r="1.8"/><circle cx="1330.8" cy="829.4" r="1.6"/><circle cx="1349.3" cy="838.1" r="1.3"/><circle cx="1358.0" cy="835.6" r="1.6"/><circle cx="1369.1" cy="833.9" r="1.3"/><circle cx="1414.9" cy="835.6" r="1.3"/><circle cx="498.1" cy="802.6" r="1.6"/><circle cx="504.2" cy="803.5" r="1.6"/><circle cx="501.6" cy="800.9" r="1.4"/><circle cx="473.9" cy="781.0" r="1.4"/><circle cx="484.2" cy="781.0" r="2"/><circle cx="491.2" cy="774.0" r="2"/><circle cx="486.0" cy="773.2" r="1.6"/><circle cx="503.3" cy="773.2" r="1.4"/><circle cx="520.6" cy="773.2" r="2"/><circle cx="528.4" cy="781.0" r="2"/><circle cx="498.1" cy="828.6" r="1.4"/><circle cx="501.6" cy="831.2" r="1.4"/><circle cx="548.3" cy="845.0" r="2"/><circle cx="572.6" cy="844.2" r="1.6"/><circle cx="578.6" cy="845.0" r="1.4"/><circle cx="556.8" cy="256.2" r="0.7"/><circle cx="560.1" cy="258.7" r="1.1"/><circle cx="559.9" cy="259.4" r="0.7"/><circle cx="559.2" cy="263.2" r="0.8"/><circle cx="556.4" cy="264.2" r="1.0"/><circle cx="555.6" cy="255.1" r="0.9"/><circle cx="558.8" cy="256.1" r="1.3"/><circle cx="556.4" cy="260.5" r="0.9"/><circle cx="560.4" cy="255.7" r="0.8"/><circle cx="558.5" cy="259.2" r="1.1"/><circle cx="555.8" cy="257.6" r="1.2"/><circle cx="557.1" cy="260.5" r="1.4"/><circle cx="554.7" cy="257.4" r="0.7"/><circle cx="559.1" cy="262.5" r="1.0"/><circle cx="555.6" cy="261.3" r="1.1"/><circle cx="556.3" cy="257.8" r="1.1"/><circle cx="559.3" cy="268.7" r="1.4"/><circle cx="563.5" cy="265.8" r="1.2"/><circle cx="563.6" cy="271.3" r="0.9"/><circle cx="563.6" cy="265.6" r="1.0"/><circle cx="559.1" cy="263.1" r="1.3"/><circle cx="559.1" cy="265.4" r="1.3"/><circle cx="560.2" cy="267.2" r="1.4"/><circle cx="564.4" cy="267.9" r="1.0"/><circle cx="562.4" cy="271.4" r="0.8"/><circle cx="559.5" cy="264.5" r="1.0"/><circle cx="560.5" cy="263.5" r="1.0"/><circle cx="559.9" cy="269.8" r="1.2"/><circle cx="561.1" cy="268.7" r="0.7"/><circle cx="561.8" cy="270.5" r="1.3"/><circle cx="561.2" cy="264.7" r="1.2"/><circle cx="565.4" cy="267.9" r="0.8"/><circle cx="565.2" cy="266.7" r="0.8"/><circle cx="568.3" cy="266.8" r="1.3"/><circle cx="566.2" cy="268.2" r="0.9"/><circle cx="565.9" cy="271.8" r="1.4"/><circle cx="569.5" cy="267.2" r="0.7"/><circle cx="567.3" cy="271.6" r="0.8"/><circle cx="574.1" cy="269.8" r="0.8"/><circle cx="565.0" cy="269.8" r="1.4"/><circle cx="571.6" cy="268.2" r="0.9"/><circle cx="572.4" cy="269.9" r="1.3"/><circle cx="566.9" cy="271.5" r="1.4"/><circle cx="572.7" cy="271.6" r="1.2"/><circle cx="569.8" cy="268.8" r="0.7"/><circle cx="567.5" cy="268.2" r="1.2"/><circle cx="569.2" cy="272.3" r="1.4"/><circle cx="578.7" cy="269.1" r="0.8"/><circle cx="576.4" cy="271.0" r="1.4"/><circle cx="579.1" cy="272.0" r="1.3"/><circle cx="580.4" cy="274.0" r="1.3"/><circle cx="579.9" cy="269.2" r="1.3"/><circle cx="581.7" cy="274.8" r="1.0"/><circle cx="583.6" cy="273.8" r="0.8"/><circle cx="575.4" cy="272.4" r="1.3"/><circle cx="582.0" cy="274.9" r="1.2"/><circle cx="580.7" cy="269.2" r="0.7"/><circle cx="581.0" cy="271.8" r="1.4"/><circle cx="582.7" cy="274.1" r="0.8"/><circle cx="578.0" cy="269.1" r="1.1"/><circle cx="579.4" cy="268.8" r="1.4"/><circle cx="579.0" cy="271.5" r="1.4"/><circle cx="583.7" cy="272.4" r="1.1"/><circle cx="574.9" cy="269.4" r="0.8"/><circle cx="591.2" cy="275.0" r="1.0"/><circle cx="589.0" cy="274.5" r="1.1"/><circle cx="591.3" cy="274.6" r="1.1"/><circle cx="585.5" cy="275.3" r="1.1"/><circle cx="588.3" cy="278.4" r="1.0"/><circle cx="588.0" cy="275.2" r="1.2"/><circle cx="588.3" cy="275.2" r="1.4"/><circle cx="589.0" cy="279.1" r="0.9"/><circle cx="589.9" cy="279.0" r="0.8"/><circle cx="589.1" cy="272.7" r="0.8"/><circle cx="588.2" cy="277.3" r="1.4"/><circle cx="588.9" cy="277.0" r="0.8"/><circle cx="592.2" cy="276.1" r="1.4"/><circle cx="586.2" cy="277.4" r="1.3"/><circle cx="592.2" cy="280.6" r="0.9"/><circle cx="590.8" cy="280.2" r="0.7"/><circle cx="595.1" cy="279.8" r="0.9"/><circle cx="595.0" cy="280.4" r="1.4"/><circle cx="595.6" cy="283.7" r="0.9"/><circle cx="594.3" cy="282.6" r="0.8"/><circle cx="591.4" cy="284.4" r="0.9"/><circle cx="592.8" cy="284.1" r="1.2"/><circle cx="590.5" cy="278.3" r="1.0"/><circle cx="592.5" cy="284.3" r="1.3"/><circle cx="595.6" cy="282.8" r="1.3"/><circle cx="591.8" cy="280.0" r="1.4"/><circle cx="593.3" cy="285.4" r="0.8"/><circle cx="596.1" cy="285.6" r="0.8"/><circle cx="591.9" cy="286.6" r="0.9"/><circle cx="594.3" cy="285.7" r="0.7"/><circle cx="592.0" cy="284.6" r="1.1"/><circle cx="590.8" cy="287.8" r="0.7"/><circle cx="593.4" cy="287.5" r="1.3"/><circle cx="592.3" cy="288.0" r="1.4"/><circle cx="592.2" cy="290.3" r="1.2"/><circle cx="596.1" cy="286.9" r="0.8"/><circle cx="594.9" cy="289.6" r="0.8"/><circle cx="586.1" cy="294.7" r="1.2"/><circle cx="592.5" cy="293.8" r="1.0"/><circle cx="591.3" cy="295.2" r="1.4"/><circle cx="590.6" cy="295.8" r="1.4"/><circle cx="592.9" cy="295.8" r="1.0"/><circle cx="591.1" cy="295.8" r="1.1"/><circle cx="593.2" cy="294.9" r="1.0"/><circle cx="594.0" cy="292.5" r="0.8"/><circle cx="588.8" cy="293.4" r="1.2"/><circle cx="587.8" cy="297.2" r="0.9"/><circle cx="591.5" cy="291.3" r="1.2"/><circle cx="586.1" cy="294.6" r="1.2"/><circle cx="589.2" cy="297.9" r="1.1"/><circle cx="586.4" cy="295.0" r="1.3"/><circle cx="586.5" cy="295.9" r="1.2"/><circle cx="588.7" cy="297.3" r="0.9"/><circle cx="587.0" cy="303.2" r="1.2"/><circle cx="587.2" cy="302.1" r="0.7"/><circle cx="587.2" cy="302.6" r="1.1"/><circle cx="585.1" cy="298.0" r="0.9"/><circle cx="585.4" cy="299.4" r="0.8"/><circle cx="587.5" cy="304.1" r="1.0"/><circle cx="585.6" cy="302.3" r="1.1"/><circle cx="588.7" cy="297.6" r="0.9"/><circle cx="586.4" cy="299.5" r="0.7"/><circle cx="585.7" cy="299.4" r="1.2"/><circle cx="588.2" cy="306.3" r="1.0"/><circle cx="585.7" cy="306.0" r="0.8"/><circle cx="592.9" cy="309.6" r="1.0"/><circle cx="590.6" cy="310.9" r="0.9"/><circle cx="591.9" cy="310.2" r="1.1"/><circle cx="586.5" cy="309.0" r="0.8"/><circle cx="586.9" cy="308.7" r="1.2"/><circle cx="590.2" cy="310.5" r="0.7"/><circle cx="589.2" cy="307.6" r="0.9"/><circle cx="589.5" cy="306.2" r="1.3"/><circle cx="587.8" cy="310.3" r="0.7"/><circle cx="587.4" cy="310.2" r="0.9"/><circle cx="587.9" cy="314.7" r="1.1"/><circle cx="592.2" cy="314.4" r="0.7"/><circle cx="592.5" cy="317.7" r="1.4"/><circle cx="590.6" cy="313.3" r="0.8"/><circle cx="589.1" cy="319.1" r="1.3"/><circle cx="588.7" cy="318.8" r="1.1"/><circle cx="589.1" cy="311.8" r="1.0"/><circle cx="592.4" cy="316.2" r="0.7"/><circle cx="590.7" cy="312.2" r="0.9"/><circle cx="588.3" cy="317.4" r="0.9"/><circle cx="590.4" cy="313.6" r="1.0"/><circle cx="592.3" cy="312.3" r="1.4"/><circle cx="588.2" cy="313.3" r="1.4"/><circle cx="592.7" cy="320.9" r="0.7"/><circle cx="592.6" cy="320.4" r="0.9"/><circle cx="587.4" cy="325.6" r="1.0"/><circle cx="590.6" cy="323.5" r="0.9"/><circle cx="588.0" cy="320.3" r="0.8"/><circle cx="587.5" cy="323.3" r="0.8"/><circle cx="591.3" cy="321.3" r="1.0"/><circle cx="586.8" cy="325.1" r="0.7"/><circle cx="587.1" cy="323.9" r="1.0"/><circle cx="592.0" cy="319.4" r="1.4"/><circle cx="586.2" cy="324.9" r="0.8"/><circle cx="590.9" cy="320.3" r="1.2"/><circle cx="588.5" cy="324.5" r="1.3"/><circle cx="592.4" cy="324.5" r="1.3"/><circle cx="584.9" cy="334.0" r="0.9"/><circle cx="587.0" cy="328.7" r="1.2"/><circle cx="588.1" cy="327.5" r="1.1"/><circle cx="587.2" cy="328.6" r="0.7"/><circle cx="584.5" cy="329.7" r="1.2"/><circle cx="588.5" cy="331.4" r="0.8"/><circle cx="587.5" cy="333.0" r="0.7"/><circle cx="586.9" cy="332.5" r="0.9"/><circle cx="587.3" cy="334.9" r="0.7"/><circle cx="586.2" cy="330.0" r="0.8"/><circle cx="586.2" cy="332.9" r="0.8"/><circle cx="585.7" cy="328.8" r="0.8"/><circle cx="587.4" cy="333.5" r="1.4"/><circle cx="589.5" cy="329.1" r="1.0"/><circle cx="586.7" cy="343.6" r="1.0"/><circle cx="586.7" cy="343.9" r="0.7"/><circle cx="582.7" cy="338.2" r="1.4"/><circle cx="581.9" cy="343.5" r="0.9"/><circle cx="583.1" cy="343.1" r="0.7"/><circle cx="585.9" cy="338.4" r="0.9"/><circle cx="586.8" cy="335.1" r="0.9"/><circle cx="582.6" cy="335.7" r="0.8"/><circle cx="582.8" cy="342.1" r="1.0"/><circle cx="585.8" cy="339.3" r="1.4"/><circle cx="582.8" cy="337.9" r="0.7"/><circle cx="583.1" cy="342.0" r="0.7"/><circle cx="582.9" cy="335.2" r="0.9"/><circle cx="585.6" cy="343.1" r="0.9"/><circle cx="587.1" cy="349.7" r="1.2"/><circle cx="588.0" cy="346.0" r="1.3"/><circle cx="583.2" cy="350.6" r="0.7"/><circle cx="582.8" cy="349.1" r="1.4"/><circle cx="585.4" cy="346.3" r="1.0"/><circle cx="583.1" cy="346.0" r="1.2"/><circle cx="585.4" cy="351.6" r="0.9"/><circle cx="583.6" cy="347.8" r="0.7"/><circle cx="587.5" cy="351.0" r="0.7"/><circle cx="586.6" cy="349.1" r="1.4"/><circle cx="587.8" cy="353.4" r="0.7"/><circle cx="584.3" cy="349.0" r="1.0"/><circle cx="584.6" cy="348.1" r="1.2"/><circle cx="585.2" cy="352.4" r="0.7"/><circle cx="584.7" cy="346.8" r="0.9"/><circle cx="586.4" cy="345.5" r="0.8"/><circle cx="579.5" cy="338.7" r="0.9"/><circle cx="580.5" cy="338.9" r="0.8"/><circle cx="575.3" cy="339.7" r="0.7"/><circle cx="577.1" cy="339.8" r="1.4"/><circle cx="581.7" cy="333.5" r="0.8"/><circle cx="575.6" cy="339.1" r="0.9"/><circle cx="581.0" cy="335.0" r="1.3"/><circle cx="577.1" cy="335.0" r="1.1"/><circle cx="581.8" cy="333.9" r="0.8"/><circle cx="580.3" cy="342.9" r="0.8"/><circle cx="579.5" cy="341.4" r="0.8"/><circle cx="578.2" cy="341.1" r="1.1"/><circle cx="581.7" cy="339.2" r="1.1"/><circle cx="583.9" cy="338.4" r="1.2"/><circle cx="582.9" cy="340.0" r="1.4"/><circle cx="583.0" cy="341.8" r="1.0"/><circle cx="583.8" cy="344.4" r="0.8"/><circle cx="585.6" cy="338.6" r="1.4"/><circle cx="583.1" cy="343.5" r="1.4"/><circle cx="587.5" cy="344.6" r="1.1"/><circle cx="588.3" cy="350.0" r="1.1"/><circle cx="586.9" cy="347.4" r="0.9"/><circle cx="588.1" cy="350.2" r="1.0"/><circle cx="587.4" cy="350.7" r="0.8"/><circle cx="584.6" cy="351.6" r="0.7"/><circle cx="579.4" cy="348.6" r="1.1"/><circle cx="580.1" cy="346.7" r="0.8"/><circle cx="581.0" cy="351.6" r="0.8"/><circle cx="583.2" cy="347.7" r="1.0"/><circle cx="580.9" cy="347.2" r="1.4"/><circle cx="581.2" cy="349.4" r="0.7"/><circle cx="583.9" cy="353.1" r="1.1"/><circle cx="586.2" cy="354.0" r="1.1"/><circle cx="587.0" cy="357.0" r="1.0"/><circle cx="586.4" cy="356.8" r="0.8"/><circle cx="587.2" cy="358.0" r="0.8"/><circle cx="588.3" cy="351.4" r="1.0"/><circle cx="585.7" cy="355.4" r="0.7"/><circle cx="582.6" cy="353.2" r="1.3"/><circle cx="584.6" cy="352.2" r="1.0"/><circle cx="581.6" cy="354.1" r="1.4"/><circle cx="589.8" cy="357.4" r="1.4"/><circle cx="583.4" cy="361.0" r="0.8"/><circle cx="591.4" cy="357.9" r="0.9"/><circle cx="581.3" cy="354.4" r="0.9"/><circle cx="588.6" cy="353.1" r="1.4"/><circle cx="589.6" cy="352.5" r="0.9"/><circle cx="587.5" cy="350.5" r="1.4"/><circle cx="593.2" cy="347.1" r="1.3"/><circle cx="592.3" cy="352.0" r="0.9"/><circle cx="592.2" cy="351.5" r="1.4"/><circle cx="595.9" cy="349.7" r="1.0"/><circle cx="591.7" cy="355.8" r="1.1"/><circle cx="593.3" cy="349.6" r="0.8"/><circle cx="589.2" cy="355.7" r="0.9"/><circle cx="595.6" cy="349.5" r="1.2"/><circle cx="585.5" cy="350.6" r="0.8"/><circle cx="591.0" cy="351.7" r="1.4"/><circle cx="589.9" cy="353.7" r="0.7"/><circle cx="588.6" cy="349.3" r="0.9"/><circle cx="600.3" cy="347.1" r="0.8"/><circle cx="597.8" cy="344.3" r="1.4"/><circle cx="595.1" cy="345.3" r="1.2"/><circle cx="601.2" cy="345.0" r="0.9"/><circle cx="600.7" cy="346.7" r="0.9"/><circle cx="600.5" cy="350.2" r="1.2"/><circle cx="600.9" cy="342.0" r="1.1"/><circle cx="595.7" cy="344.7" r="1.3"/><circle cx="601.3" cy="349.8" r="0.8"/><circle cx="600.2" cy="346.4" r="1.2"/><circle cx="596.1" cy="346.7" r="0.9"/><circle cx="603.4" cy="347.3" r="1.2"/><circle cx="602.9" cy="347.2" r="1.0"/><circle cx="598.0" cy="345.1" r="0.7"/><circle cx="603.0" cy="343.5" r="1.2"/><circle cx="610.8" cy="343.0" r="0.9"/><circle cx="607.8" cy="345.2" r="1.1"/><circle cx="610.0" cy="345.6" r="0.8"/><circle cx="602.6" cy="343.1" r="0.8"/><circle cx="611.7" cy="342.9" r="0.9"/><circle cx="605.0" cy="341.7" r="1.4"/><circle cx="609.4" cy="343.3" r="1.4"/><circle cx="610.7" cy="342.9" r="1.3"/><circle cx="609.3" cy="342.5" r="0.9"/><circle cx="606.7" cy="339.4" r="1.4"/><circle cx="602.1" cy="341.9" r="1.4"/><circle cx="602.7" cy="340.9" r="0.7"/><circle cx="609.0" cy="343.7" r="1.2"/><circle cx="615.6" cy="338.7" r="1.3"/><circle cx="617.4" cy="335.8" r="1.3"/><circle cx="617.9" cy="336.0" r="0.8"/><circle cx="612.2" cy="343.5" r="1.3"/><circle cx="618.0" cy="340.3" r="0.9"/><circle cx="612.5" cy="342.7" r="0.8"/><circle cx="613.6" cy="336.3" r="0.9"/><circle cx="616.6" cy="338.4" r="0.9"/><circle cx="615.9" cy="342.6" r="1.1"/><circle cx="614.4" cy="339.6" r="1.3"/><circle cx="616.9" cy="339.8" r="0.8"/><circle cx="612.6" cy="343.2" r="0.8"/><circle cx="613.3" cy="342.5" r="1.4"/><circle cx="623.0" cy="337.9" r="1.3"/><circle cx="622.7" cy="336.7" r="1.3"/><circle cx="626.2" cy="335.4" r="0.8"/><circle cx="622.3" cy="334.9" r="1.2"/><circle cx="625.7" cy="338.9" r="1.3"/><circle cx="621.8" cy="337.4" r="1.0"/><circle cx="620.6" cy="341.8" r="0.7"/><circle cx="622.0" cy="341.5" r="1.1"/><circle cx="625.6" cy="335.1" r="1.0"/><circle cx="625.6" cy="339.4" r="1.2"/><circle cx="621.0" cy="335.6" r="1.3"/><circle cx="624.4" cy="334.9" r="1.0"/><circle cx="623.0" cy="334.9" r="1.0"/><circle cx="628.0" cy="334.1" r="0.9"/><circle cx="632.1" cy="332.6" r="0.8"/><circle cx="629.4" cy="336.5" r="0.8"/><circle cx="629.4" cy="340.2" r="1.2"/><circle cx="632.8" cy="332.0" r="1.0"/><circle cx="633.1" cy="337.2" r="1.0"/><circle cx="630.6" cy="332.6" r="0.8"/><circle cx="627.1" cy="336.1" r="1.3"/><circle cx="630.8" cy="337.0" r="1.0"/><circle cx="631.0" cy="335.0" r="1.2"/><circle cx="630.2" cy="336.7" r="1.2"/><circle cx="629.1" cy="338.2" r="1.4"/><circle cx="561.7" cy="243.9" r="1.2"/><circle cx="564.0" cy="242.8" r="1.2"/><circle cx="562.2" cy="242.3" r="1.2"/><circle cx="563.8" cy="241.5" r="1.0"/><circle cx="562.6" cy="242.3" r="1.4"/><circle cx="562.0" cy="243.7" r="1.0"/><circle cx="564.6" cy="246.1" r="1.1"/><circle cx="561.2" cy="244.3" r="1.1"/><circle cx="563.0" cy="243.4" r="1.2"/><circle cx="561.8" cy="243.6" r="1.1"/><circle cx="561.0" cy="252.1" r="1.2"/><circle cx="561.8" cy="251.1" r="1.4"/><circle cx="563.4" cy="246.7" r="1.0"/><circle cx="561.8" cy="248.6" r="1.2"/><circle cx="562.9" cy="248.0" r="1.2"/><circle cx="561.0" cy="246.7" r="1.0"/><circle cx="561.4" cy="246.2" r="1.3"/><circle cx="561.1" cy="248.6" r="0.8"/><circle cx="559.7" cy="249.2" r="1.3"/><circle cx="558.8" cy="252.9" r="0.8"/><circle cx="558.0" cy="255.8" r="1.0"/><circle cx="559.5" cy="254.3" r="0.7"/><circle cx="559.8" cy="253.6" r="0.9"/><circle cx="558.1" cy="253.2" r="1.2"/><circle cx="555.9" cy="254.7" r="0.7"/><circle cx="498.1" cy="436.3" r="1.2"/><circle cx="496.7" cy="434.5" r="1.2"/><circle cx="503.3" cy="434.3" r="0.8"/><circle cx="504.2" cy="438.3" r="1.4"/><circle cx="497.8" cy="436.9" r="1.1"/><circle cx="499.8" cy="444.9" r="1.3"/><circle cx="502.7" cy="444.6" r="1.2"/><circle cx="503.3" cy="447.7" r="0.9"/><circle cx="500.8" cy="435.6" r="0.7"/><circle cx="500.8" cy="435.7" r="1.0"/><circle cx="507.4" cy="446.3" r="1.3"/><circle cx="501.1" cy="442.7" r="1.3"/><circle cx="498.2" cy="441.0" r="0.7"/><circle cx="506.4" cy="442.7" r="1.1"/><circle cx="505.2" cy="448.0" r="1.4"/><circle cx="499.0" cy="441.9" r="0.7"/><circle cx="503.9" cy="443.1" r="1.3"/><circle cx="501.8" cy="441.1" r="1.3"/><circle cx="502.5" cy="440.2" r="1.1"/><circle cx="504.2" cy="446.5" r="1.1"/><circle cx="498.5" cy="442.4" r="1.2"/><circle cx="502.9" cy="438.4" r="0.9"/><circle cx="500.5" cy="444.1" r="0.7"/><circle cx="503.3" cy="447.7" r="0.7"/><circle cx="506.6" cy="450.0" r="1.4"/><circle cx="499.2" cy="462.2" r="1.4"/><circle cx="500.7" cy="461.6" r="1.2"/><circle cx="503.7" cy="463.5" r="1.2"/><circle cx="504.2" cy="465.3" r="0.8"/><circle cx="497.8" cy="464.3" r="1.2"/><circle cx="498.6" cy="465.5" r="1.1"/><circle cx="503.6" cy="455.6" r="0.9"/><circle cx="498.2" cy="461.6" r="0.7"/><circle cx="507.0" cy="450.8" r="1.3"/><circle cx="500.9" cy="467.9" r="0.7"/><circle cx="498.3" cy="460.6" r="1.4"/><circle cx="505.6" cy="458.3" r="1.2"/><circle cx="507.3" cy="453.2" r="0.7"/><circle cx="500.0" cy="451.1" r="0.7"/><circle cx="502.4" cy="449.4" r="0.8"/><circle cx="506.9" cy="453.9" r="1.3"/><circle cx="498.9" cy="466.2" r="0.7"/><circle cx="501.6" cy="463.7" r="1.4"/><circle cx="498.6" cy="468.4" r="0.7"/><circle cx="499.1" cy="462.0" r="0.7"/><circle cx="503.8" cy="464.6" r="1.3"/><circle cx="504.9" cy="450.8" r="1.1"/><circle cx="504.2" cy="463.5" r="1.3"/><circle cx="500.5" cy="462.1" r="1.0"/><circle cx="497.5" cy="464.5" r="1.3"/><circle cx="506.4" cy="456.0" r="1.4"/><circle cx="502.2" cy="466.3" r="1.1"/><circle cx="503.5" cy="455.7" r="1.4"/><circle cx="500.6" cy="463.0" r="1.4"/><circle cx="501.9" cy="470.2" r="1.0"/><circle cx="490.7" cy="484.6" r="0.7"/><circle cx="495.3" cy="473.9" r="1.3"/><circle cx="494.0" cy="488.2" r="0.7"/><circle cx="496.0" cy="486.3" r="1.3"/><circle cx="494.0" cy="481.1" r="1.0"/><circle cx="496.2" cy="473.8" r="1.3"/><circle cx="497.2" cy="470.3" r="1.3"/><circle cx="492.6" cy="479.9" r="1.4"/><circle cx="495.7" cy="478.7" r="0.8"/><circle cx="497.2" cy="472.5" r="0.9"/><circle cx="496.8" cy="477.5" r="0.8"/><circle cx="493.1" cy="489.8" r="0.7"/><circle cx="496.4" cy="486.2" r="1.1"/><circle cx="499.5" cy="481.3" r="0.7"/><circle cx="497.4" cy="481.5" r="1.3"/><circle cx="490.6" cy="487.6" r="1.3"/><circle cx="502.1" cy="471.1" r="0.8"/><circle cx="499.3" cy="470.3" r="1.3"/><circle cx="489.5" cy="487.2" r="0.7"/><circle cx="499.8" cy="478.5" r="1.4"/><circle cx="494.6" cy="480.3" r="1.4"/><circle cx="497.4" cy="477.5" r="0.8"/><circle cx="501.6" cy="471.0" r="0.9"/><circle cx="484.3" cy="501.3" r="1.2"/><circle cx="489.2" cy="490.9" r="1.4"/><circle cx="489.1" cy="493.9" r="1.3"/><circle cx="491.3" cy="495.5" r="0.7"/><circle cx="492.7" cy="493.1" r="0.8"/><circle cx="490.5" cy="488.9" r="0.8"/><circle cx="486.7" cy="505.3" r="1.4"/><circle cx="491.4" cy="498.1" r="1.4"/><circle cx="489.7" cy="497.3" r="1.3"/><circle cx="489.7" cy="500.8" r="0.8"/><circle cx="486.0" cy="500.7" r="0.8"/><circle cx="491.3" cy="497.3" r="0.9"/><circle cx="490.9" cy="492.2" r="0.9"/><circle cx="487.5" cy="506.7" r="1.4"/><circle cx="490.6" cy="492.9" r="0.9"/><circle cx="491.5" cy="493.2" r="1.4"/><circle cx="487.0" cy="492.7" r="0.7"/><circle cx="486.4" cy="492.5" r="0.7"/><circle cx="485.6" cy="510.1" r="1.3"/><circle cx="482.3" cy="508.8" r="1.4"/><circle cx="479.6" cy="516.4" r="0.8"/><circle cx="477.5" cy="518.4" r="0.7"/><circle cx="476.8" cy="515.3" r="0.9"/><circle cx="475.4" cy="514.3" r="1.3"/><circle cx="484.5" cy="510.8" r="1.2"/><circle cx="478.3" cy="519.2" r="1.3"/><circle cx="471.7" cy="517.2" r="1.0"/><circle cx="473.3" cy="520.2" r="1.3"/><circle cx="479.8" cy="506.9" r="0.9"/><circle cx="479.1" cy="511.0" r="0.7"/><circle cx="478.7" cy="512.6" r="0.7"/><circle cx="472.0" cy="516.8" r="0.9"/><circle cx="477.9" cy="510.4" r="0.7"/><circle cx="477.8" cy="513.6" r="1.1"/><circle cx="474.3" cy="522.3" r="0.8"/><circle cx="479.1" cy="508.0" r="0.7"/><circle cx="477.7" cy="518.2" r="0.7"/><circle cx="477.1" cy="514.6" r="1.2"/><circle cx="472.3" cy="518.4" r="0.7"/><circle cx="478.2" cy="513.4" r="0.9"/><circle cx="481.6" cy="513.7" r="1.1"/><circle cx="475.7" cy="513.5" r="0.8"/><circle cx="476.9" cy="510.6" r="1.1"/><circle cx="471.0" cy="519.2" r="0.9"/><circle cx="480.5" cy="511.2" r="1.4"/><circle cx="463.3" cy="525.1" r="1.4"/><circle cx="466.3" cy="525.8" r="0.9"/><circle cx="471.7" cy="522.7" r="1.1"/><circle cx="467.8" cy="520.5" r="1.3"/><circle cx="460.2" cy="529.1" r="1.4"/><circle cx="465.7" cy="530.6" r="1.2"/><circle cx="463.2" cy="525.6" r="1.1"/><circle cx="466.2" cy="528.1" r="1.4"/><circle cx="467.6" cy="524.4" r="0.7"/><circle cx="460.5" cy="532.9" r="0.9"/><circle cx="467.7" cy="529.9" r="0.7"/><circle cx="469.1" cy="525.6" r="0.9"/><circle cx="470.8" cy="522.3" r="1.3"/><circle cx="464.4" cy="527.5" r="0.8"/><circle cx="466.3" cy="526.8" r="1.1"/><circle cx="469.8" cy="526.7" r="0.8"/><circle cx="467.0" cy="525.6" r="0.7"/><circle cx="463.2" cy="533.4" r="1.1"/><circle cx="465.9" cy="522.2" r="0.9"/><circle cx="472.7" cy="525.9" r="1.3"/><circle cx="472.0" cy="522.9" r="1.0"/><circle cx="472.4" cy="524.4" r="1.4"/><circle cx="471.2" cy="524.3" r="0.9"/><circle cx="462.7" cy="526.9" r="1.3"/><circle cx="449.7" cy="544.2" r="1.3"/><circle cx="449.3" cy="545.1" r="1.4"/><circle cx="452.8" cy="549.9" r="1.3"/><circle cx="451.2" cy="539.3" r="1.1"/><circle cx="448.3" cy="544.3" r="1.1"/><circle cx="454.9" cy="541.0" r="1.2"/><circle cx="455.0" cy="539.5" r="1.0"/><circle cx="448.4" cy="544.5" r="1.0"/><circle cx="459.1" cy="537.4" r="0.8"/><circle cx="455.7" cy="544.8" r="1.4"/><circle cx="447.8" cy="545.4" r="1.4"/><circle cx="452.3" cy="538.4" r="0.7"/><circle cx="453.3" cy="542.6" r="1.4"/><circle cx="450.4" cy="539.8" r="1.1"/><circle cx="452.6" cy="545.0" r="0.9"/><circle cx="453.0" cy="537.0" r="1.2"/><circle cx="459.7" cy="535.7" r="1.0"/><circle cx="450.8" cy="540.9" r="1.4"/><circle cx="454.0" cy="540.0" r="1.4"/><circle cx="451.7" cy="540.5" r="0.8"/><circle cx="446.3" cy="547.6" r="1.1"/><circle cx="448.1" cy="547.0" r="1.3"/><circle cx="459.6" cy="537.0" r="1.1"/><circle cx="459.9" cy="538.1" r="1.2"/><circle cx="452.7" cy="536.8" r="1.2"/><circle cx="453.3" cy="538.7" r="0.9"/><circle cx="461.3" cy="534.5" r="1.3"/><circle cx="454.0" cy="545.7" r="1.0"/><circle cx="456.0" cy="537.1" r="1.1"/><circle cx="457.6" cy="541.9" r="0.8"/><circle cx="449.8" cy="552.6" r="0.8"/><circle cx="440.8" cy="557.6" r="1.3"/><circle cx="446.3" cy="548.4" r="0.9"/><circle cx="447.3" cy="554.8" r="0.9"/><circle cx="440.3" cy="558.6" r="0.9"/><circle cx="447.8" cy="555.7" r="1.4"/><circle cx="440.8" cy="559.8" r="1.1"/><circle cx="445.0" cy="547.9" r="1.3"/><circle cx="438.9" cy="557.4" r="0.9"/><circle cx="440.4" cy="559.6" r="1.4"/><circle cx="443.6" cy="552.5" r="0.8"/><circle cx="441.2" cy="558.7" r="1.3"/><circle cx="447.6" cy="552.0" r="0.8"/><circle cx="446.0" cy="557.3" r="1.1"/><circle cx="447.6" cy="555.9" r="0.7"/><circle cx="448.1" cy="553.6" r="0.9"/><circle cx="446.8" cy="549.1" r="0.9"/><circle cx="445.0" cy="558.9" r="0.9"/><circle cx="406.1" cy="596.4" r="1.3"/><circle cx="404.6" cy="596.6" r="1.0"/><circle cx="409.8" cy="590.3" r="0.8"/><circle cx="402.3" cy="598.4" r="0.9"/><circle cx="402.7" cy="593.9" r="1.1"/><circle cx="407.3" cy="588.9" r="1.1"/><circle cx="404.0" cy="597.6" r="1.0"/><circle cx="405.0" cy="592.5" r="1.0"/><circle cx="403.4" cy="598.8" r="0.9"/><circle cx="401.4" cy="597.8" r="0.9"/><circle cx="401.1" cy="593.5" r="0.9"/><circle cx="402.3" cy="598.5" r="0.9"/><circle cx="410.6" cy="592.1" r="1.4"/><circle cx="400.7" cy="593.5" r="1.2"/><circle cx="403.2" cy="594.9" r="1.2"/><circle cx="404.1" cy="598.2" r="0.9"/><circle cx="400.1" cy="594.8" r="1.4"/><circle cx="405.3" cy="589.8" r="0.7"/><circle cx="401.2" cy="595.7" r="1.0"/><circle cx="414.6" cy="588.0" r="0.8"/><circle cx="417.9" cy="582.3" r="1.0"/><circle cx="412.5" cy="584.0" r="1.3"/><circle cx="411.9" cy="584.8" r="1.3"/><circle cx="409.8" cy="588.0" r="0.7"/><circle cx="414.5" cy="590.4" r="1.2"/><circle cx="418.2" cy="583.3" r="1.2"/><circle cx="413.2" cy="591.6" r="1.0"/><circle cx="420.5" cy="585.4" r="1.2"/><circle cx="411.8" cy="590.5" r="1.0"/><circle cx="419.9" cy="579.8" r="1.3"/><circle cx="420.0" cy="585.6" r="0.9"/><circle cx="422.5" cy="582.3" r="1.1"/><circle cx="410.4" cy="588.5" r="1.0"/><circle cx="412.5" cy="585.1" r="1.2"/><circle cx="412.1" cy="586.3" r="1.1"/><circle cx="420.9" cy="581.0" r="0.9"/><circle cx="416.4" cy="584.1" r="1.3"/><circle cx="418.1" cy="581.4" r="1.2"/><circle cx="416.9" cy="587.4" r="1.3"/><circle cx="424.6" cy="577.6" r="0.8"/><circle cx="423.7" cy="576.9" r="1.2"/><circle cx="422.6" cy="579.2" r="1.0"/><circle cx="421.9" cy="577.4" r="0.7"/><circle cx="424.3" cy="581.5" r="1.4"/><circle cx="423.4" cy="580.1" r="1.0"/><circle cx="425.5" cy="573.2" r="1.4"/><circle cx="430.9" cy="576.9" r="1.2"/><circle cx="423.1" cy="576.9" r="0.7"/><circle cx="429.9" cy="571.6" r="0.8"/><circle cx="433.1" cy="574.7" r="0.8"/><circle cx="432.1" cy="573.9" r="0.9"/><circle cx="429.9" cy="571.9" r="0.9"/><circle cx="427.8" cy="579.1" r="0.8"/><circle cx="428.8" cy="576.1" r="1.3"/><circle cx="433.8" cy="574.1" r="1.0"/><circle cx="422.9" cy="578.6" r="1.1"/><circle cx="427.7" cy="572.5" r="1.0"/><circle cx="422.4" cy="580.5" r="0.8"/><circle cx="424.0" cy="582.9" r="1.3"/><circle cx="425.6" cy="575.8" r="1.2"/><circle cx="425.8" cy="576.1" r="1.0"/><circle cx="444.4" cy="564.6" r="0.8"/><circle cx="438.2" cy="566.7" r="0.9"/><circle cx="432.8" cy="569.1" r="1.0"/><circle cx="440.3" cy="560.3" r="1.2"/><circle cx="436.5" cy="568.3" r="1.4"/><circle cx="439.5" cy="563.2" r="0.9"/><circle cx="435.7" cy="570.0" r="1.0"/><circle cx="440.0" cy="563.5" r="1.1"/><circle cx="439.3" cy="565.8" r="1.0"/><circle cx="436.6" cy="571.2" r="1.1"/><circle cx="441.8" cy="560.8" r="0.7"/><circle cx="435.6" cy="568.3" r="1.1"/><circle cx="437.7" cy="563.0" r="1.1"/><circle cx="433.2" cy="569.6" r="0.7"/><circle cx="443.2" cy="562.3" r="1.2"/><circle cx="436.2" cy="572.4" r="1.2"/><circle cx="442.1" cy="561.8" r="0.8"/><circle cx="440.3" cy="561.0" r="1.3"/><circle cx="434.9" cy="567.8" r="0.7"/><circle cx="445.5" cy="557.8" r="1.2"/><circle cx="452.8" cy="553.6" r="1.3"/><circle cx="454.3" cy="554.6" r="0.8"/><circle cx="448.9" cy="559.0" r="1.2"/><circle cx="449.0" cy="558.6" r="1.4"/><circle cx="445.5" cy="560.8" r="0.7"/><circle cx="449.6" cy="551.9" r="1.4"/><circle cx="445.3" cy="557.0" r="1.0"/><circle cx="443.2" cy="557.3" r="0.7"/><circle cx="448.3" cy="554.9" r="1.2"/><circle cx="447.7" cy="561.3" r="1.1"/><circle cx="453.8" cy="555.9" r="0.7"/><circle cx="445.9" cy="559.4" r="1.3"/><circle cx="447.8" cy="560.7" r="1.2"/><circle cx="447.0" cy="554.9" r="1.3"/><circle cx="452.7" cy="553.7" r="0.7"/><circle cx="456.6" cy="552.5" r="1.1"/><circle cx="453.7" cy="550.2" r="1.0"/><circle cx="455.1" cy="548.7" r="0.7"/><circle cx="453.1" cy="547.4" r="1.0"/><circle cx="455.1" cy="551.9" r="0.9"/><circle cx="455.5" cy="547.5" r="1.1"/><circle cx="462.2" cy="547.9" r="0.7"/><circle cx="460.3" cy="548.6" r="1.3"/><circle cx="456.9" cy="547.0" r="0.9"/><circle cx="461.4" cy="548.3" r="1.2"/><circle cx="459.6" cy="548.0" r="1.1"/><circle cx="455.9" cy="549.9" r="1.0"/><circle cx="454.6" cy="548.9" r="1.4"/><circle cx="454.5" cy="548.3" r="0.8"/><circle cx="451.7" cy="548.7" r="1.3"/><circle cx="461.3" cy="539.2" r="0.9"/><circle cx="458.8" cy="544.1" r="0.9"/><circle cx="464.1" cy="538.0" r="0.9"/><circle cx="458.0" cy="543.8" r="1.1"/><circle cx="460.9" cy="534.5" r="1.3"/><circle cx="463.7" cy="538.9" r="0.9"/><circle cx="457.8" cy="544.6" r="0.9"/><circle cx="459.7" cy="542.1" r="0.8"/><circle cx="462.6" cy="533.5" r="0.8"/><circle cx="462.4" cy="532.1" r="0.7"/><circle cx="458.1" cy="543.1" r="1.1"/><circle cx="459.7" cy="532.3" r="0.9"/><circle cx="460.5" cy="536.2" r="1.2"/><circle cx="459.6" cy="544.4" r="0.7"/><circle cx="460.6" cy="540.6" r="1.1"/><circle cx="457.5" cy="538.4" r="1.4"/><circle cx="458.7" cy="531.3" r="1.1"/><circle cx="457.8" cy="540.3" r="0.8"/><circle cx="457.7" cy="525.5" r="1.3"/><circle cx="461.5" cy="526.7" r="1.1"/><circle cx="459.6" cy="526.6" r="1.2"/><circle cx="462.4" cy="525.0" r="1.3"/><circle cx="463.7" cy="524.2" r="1.0"/><circle cx="463.9" cy="526.4" r="0.8"/><circle cx="462.0" cy="527.2" r="1.3"/><circle cx="458.2" cy="523.4" r="1.3"/><circle cx="459.2" cy="531.7" r="0.7"/><circle cx="458.6" cy="527.2" r="1.4"/><circle cx="459.3" cy="530.6" r="1.2"/><circle cx="463.6" cy="530.9" r="0.8"/><circle cx="463.8" cy="518.8" r="1.3"/><circle cx="464.0" cy="523.5" r="0.7"/><circle cx="461.1" cy="523.4" r="1.0"/><circle cx="463.6" cy="519.5" r="1.4"/><circle cx="460.6" cy="520.4" r="0.9"/><circle cx="460.4" cy="520.1" r="1.3"/><circle cx="464.2" cy="524.1" r="0.8"/><circle cx="462.7" cy="524.1" r="1.3"/><circle cx="466.6" cy="520.8" r="0.9"/><circle cx="465.0" cy="522.6" r="0.8"/><circle cx="464.0" cy="519.6" r="1.1"/><circle cx="472.3" cy="511.0" r="1.3"/><circle cx="475.3" cy="514.3" r="0.9"/><circle cx="470.0" cy="519.3" r="0.7"/><circle cx="470.0" cy="510.7" r="0.8"/><circle cx="466.8" cy="516.3" r="1.4"/><circle cx="475.4" cy="514.1" r="0.7"/><circle cx="473.3" cy="513.3" r="0.7"/><circle cx="468.2" cy="515.8" r="0.7"/><circle cx="472.8" cy="510.0" r="1.4"/><circle cx="468.5" cy="512.6" r="1.0"/><circle cx="469.9" cy="511.3" r="1.2"/><circle cx="467.0" cy="516.3" r="1.0"/><circle cx="470.7" cy="518.6" r="1.4"/><circle cx="473.8" cy="506.8" r="0.9"/><circle cx="474.1" cy="510.5" r="1.0"/><circle cx="473.4" cy="505.3" r="1.2"/><circle cx="477.8" cy="505.5" r="1.2"/><circle cx="475.5" cy="506.1" r="1.0"/><circle cx="475.9" cy="506.6" r="0.8"/><circle cx="480.5" cy="506.3" r="0.9"/><circle cx="474.9" cy="506.0" r="0.8"/><circle cx="481.2" cy="503.3" r="1.4"/><circle cx="477.5" cy="503.1" r="1.2"/><circle cx="478.7" cy="509.5" r="0.7"/><circle cx="479.7" cy="502.1" r="1.1"/><circle cx="479.5" cy="505.4" r="1.0"/><circle cx="476.7" cy="506.9" r="1.1"/><circle cx="476.8" cy="508.1" r="1.1"/><circle cx="483.5" cy="493.4" r="1.4"/><circle cx="485.7" cy="493.3" r="1.0"/><circle cx="484.1" cy="500.8" r="1.1"/><circle cx="486.1" cy="496.4" r="0.8"/><circle cx="486.1" cy="492.0" r="1.2"/><circle cx="485.2" cy="498.0" r="1.3"/><circle cx="480.3" cy="498.0" r="0.7"/><circle cx="486.3" cy="492.4" r="1.0"/><circle cx="486.3" cy="498.5" r="1.2"/><circle cx="485.7" cy="496.8" r="1.3"/><circle cx="484.6" cy="493.1" r="1.1"/><circle cx="482.3" cy="496.2" r="1.0"/><circle cx="482.5" cy="498.8" r="0.7"/><circle cx="484.3" cy="492.3" r="0.9"/><circle cx="484.0" cy="490.4" r="1.2"/><circle cx="485.3" cy="497.4" r="1.1"/><circle cx="487.7" cy="489.7" r="0.9"/><circle cx="489.7" cy="487.8" r="1.2"/><circle cx="491.2" cy="488.1" r="1.4"/><circle cx="496.8" cy="484.8" r="0.9"/><circle cx="488.5" cy="485.7" r="1.3"/><circle cx="492.0" cy="486.7" r="1.4"/><circle cx="488.2" cy="490.6" r="1.0"/><circle cx="494.4" cy="484.1" r="1.0"/><circle cx="491.8" cy="487.0" r="1.3"/><circle cx="493.5" cy="484.7" r="0.7"/><circle cx="493.5" cy="488.0" r="1.3"/><circle cx="487.6" cy="486.5" r="1.3"/><circle cx="489.4" cy="491.1" r="1.1"/><circle cx="494.3" cy="486.8" r="1.0"/><circle cx="493.1" cy="485.1" r="1.1"/><circle cx="497.9" cy="482.4" r="0.7"/><circle cx="496.7" cy="481.4" r="0.9"/><circle cx="498.4" cy="481.2" r="0.7"/><circle cx="501.7" cy="482.2" r="1.3"/><circle cx="495.4" cy="480.1" r="1.1"/><circle cx="498.5" cy="481.8" r="1.1"/><circle cx="695.0" cy="356.9" r="1.4"/><circle cx="677.2" cy="363.7" r="1.1"/><circle cx="689.5" cy="359.6" r="0.9"/><circle cx="694.1" cy="361.6" r="1.1"/><circle cx="698.7" cy="357.5" r="1.4"/><circle cx="687.1" cy="362.8" r="0.7"/><circle cx="690.0" cy="358.4" r="1.4"/><circle cx="695.6" cy="358.9" r="1.2"/><circle cx="682.2" cy="365.9" r="0.8"/><circle cx="677.9" cy="361.8" r="1.3"/><circle cx="691.7" cy="358.4" r="1.4"/><circle cx="678.2" cy="366.2" r="0.7"/><circle cx="682.1" cy="364.0" r="0.9"/><circle cx="681.0" cy="366.8" r="0.9"/><circle cx="696.6" cy="362.1" r="1.0"/><circle cx="685.8" cy="363.2" r="0.8"/><circle cx="678.5" cy="364.3" r="1.2"/><circle cx="691.8" cy="357.3" r="1.3"/><circle cx="699.6" cy="361.2" r="1.4"/><circle cx="683.0" cy="362.0" r="1.3"/><circle cx="697.8" cy="355.2" r="1.0"/><circle cx="688.4" cy="358.3" r="0.8"/><circle cx="698.6" cy="360.5" r="0.8"/><circle cx="691.8" cy="363.6" r="0.9"/><circle cx="684.2" cy="362.3" r="0.8"/><circle cx="694.8" cy="357.7" r="0.7"/><circle cx="678.8" cy="364.9" r="1.3"/><circle cx="686.4" cy="358.5" r="1.1"/><circle cx="691.1" cy="357.7" r="1.1"/><circle cx="708.1" cy="356.9" r="0.8"/><circle cx="719.0" cy="352.4" r="1.3"/><circle cx="702.8" cy="353.9" r="1.4"/><circle cx="710.4" cy="355.6" r="0.7"/><circle cx="703.7" cy="356.9" r="1.1"/><circle cx="704.2" cy="355.9" r="0.8"/><circle cx="705.7" cy="358.9" r="1.1"/><circle cx="719.3" cy="353.5" r="1.3"/><circle cx="713.8" cy="352.7" r="1.3"/><circle cx="705.0" cy="353.0" r="1.0"/><circle cx="706.8" cy="358.8" r="0.7"/><circle cx="705.2" cy="357.0" r="1.3"/><circle cx="705.4" cy="357.0" r="1.4"/><circle cx="713.0" cy="356.2" r="1.3"/><circle cx="716.6" cy="353.8" r="1.4"/><circle cx="719.1" cy="353.0" r="1.0"/><circle cx="705.6" cy="357.9" r="1.2"/><circle cx="706.8" cy="353.5" r="0.8"/><circle cx="707.7" cy="359.3" r="1.4"/><circle cx="710.7" cy="357.2" r="1.4"/><circle cx="713.4" cy="357.2" r="1.3"/><circle cx="714.5" cy="353.4" r="0.8"/><circle cx="717.6" cy="357.0" r="1.4"/><circle cx="729.8" cy="352.9" r="1.3"/><circle cx="739.7" cy="347.8" r="1.4"/><circle cx="740.4" cy="349.4" r="0.9"/><circle cx="724.3" cy="351.8" r="0.8"/><circle cx="739.0" cy="349.1" r="1.2"/><circle cx="736.7" cy="350.6" r="1.2"/><circle cx="722.5" cy="353.8" r="1.3"/><circle cx="733.0" cy="352.0" r="1.3"/><circle cx="729.2" cy="347.1" r="0.7"/><circle cx="732.4" cy="349.4" r="0.9"/><circle cx="728.2" cy="353.5" r="1.1"/><circle cx="721.7" cy="351.3" r="1.2"/><circle cx="734.3" cy="351.4" r="0.7"/><circle cx="736.3" cy="346.3" r="0.9"/><circle cx="725.7" cy="354.6" r="1.1"/><circle cx="731.3" cy="353.4" r="1.1"/><circle cx="736.4" cy="346.1" r="1.1"/><circle cx="724.8" cy="355.2" r="1.0"/><circle cx="726.7" cy="348.5" r="1.1"/><circle cx="728.8" cy="353.9" r="1.4"/><circle cx="732.8" cy="349.2" r="1.4"/><circle cx="636.8" cy="386.0" r="1.0"/><circle cx="638.2" cy="387.0" r="1.0"/><circle cx="638.1" cy="379.8" r="1.3"/><circle cx="634.7" cy="389.1" r="1.4"/><circle cx="630.7" cy="387.9" r="1.4"/><circle cx="635.7" cy="386.6" r="0.7"/><circle cx="637.9" cy="385.0" r="0.9"/><circle cx="634.5" cy="386.5" r="1.4"/><circle cx="640.8" cy="382.7" r="1.2"/><circle cx="630.6" cy="391.7" r="1.3"/><circle cx="630.0" cy="391.8" r="1.4"/><circle cx="635.8" cy="383.1" r="0.9"/><circle cx="631.4" cy="389.3" r="1.4"/><circle cx="633.9" cy="391.5" r="0.8"/><circle cx="631.9" cy="386.4" r="0.9"/><circle cx="634.9" cy="390.7" r="0.9"/><circle cx="639.0" cy="382.2" r="1.3"/><circle cx="643.2" cy="380.6" r="1.0"/><circle cx="649.4" cy="374.4" r="0.9"/><circle cx="651.5" cy="370.5" r="0.9"/><circle cx="647.6" cy="370.1" r="1.3"/><circle cx="646.4" cy="379.0" r="0.9"/><circle cx="641.4" cy="380.7" r="1.3"/><circle cx="648.4" cy="370.0" r="0.9"/><circle cx="652.6" cy="371.1" r="0.9"/><circle cx="649.4" cy="371.0" r="0.8"/><circle cx="647.3" cy="375.8" r="1.4"/><circle cx="642.5" cy="375.4" r="1.0"/><circle cx="651.3" cy="371.8" r="1.1"/><circle cx="646.2" cy="373.5" r="1.3"/><circle cx="649.5" cy="374.4" r="1.1"/><circle cx="658.5" cy="367.6" r="1.1"/><circle cx="653.1" cy="369.6" r="1.3"/><circle cx="653.3" cy="367.0" r="0.7"/><circle cx="656.8" cy="364.2" r="1.3"/><circle cx="652.7" cy="370.0" r="0.8"/><circle cx="652.7" cy="368.8" r="1.1"/><circle cx="657.9" cy="363.9" r="0.8"/><circle cx="657.3" cy="390.7" r="0.8"/><circle cx="658.2" cy="399.2" r="1.1"/><circle cx="661.7" cy="397.2" r="1.1"/><circle cx="656.0" cy="386.5" r="1.2"/><circle cx="658.0" cy="393.7" r="0.8"/><circle cx="662.4" cy="400.6" r="1.0"/><circle cx="657.3" cy="392.8" r="1.2"/><circle cx="659.2" cy="390.5" r="1.0"/><circle cx="656.0" cy="388.8" r="1.1"/><circle cx="656.1" cy="388.8" r="0.8"/><circle cx="657.6" cy="394.6" r="1.4"/><circle cx="659.5" cy="388.1" r="1.3"/><circle cx="659.4" cy="390.6" r="1.2"/><circle cx="662.1" cy="401.7" r="0.9"/><circle cx="662.7" cy="402.5" r="0.8"/><circle cx="662.3" cy="417.7" r="1.3"/><circle cx="665.4" cy="414.1" r="0.7"/><circle cx="663.7" cy="404.8" r="1.4"/><circle cx="663.8" cy="413.0" r="1.3"/><circle cx="661.8" cy="401.2" r="1.1"/><circle cx="658.8" cy="401.9" r="1.3"/><circle cx="658.6" cy="402.5" r="1.1"/><circle cx="661.0" cy="406.7" r="1.4"/><circle cx="664.3" cy="411.3" r="0.8"/><circle cx="660.3" cy="403.2" r="0.8"/><circle cx="661.7" cy="408.8" r="1.2"/><circle cx="659.5" cy="402.7" r="0.7"/><circle cx="661.1" cy="408.0" r="1.2"/><circle cx="495.1" cy="238.2" r="1.0"/><circle cx="499.0" cy="234.7" r="0.7"/><circle cx="499.1" cy="232.2" r="1.0"/><circle cx="487.1" cy="246.0" r="1.3"/><circle cx="484.1" cy="243.6" r="1.4"/><circle cx="496.2" cy="238.8" r="1.2"/><circle cx="485.1" cy="241.4" r="1.3"/><circle cx="500.3" cy="234.3" r="0.8"/><circle cx="491.1" cy="237.5" r="1.3"/><circle cx="497.9" cy="235.2" r="1.3"/><circle cx="485.1" cy="244.7" r="0.9"/><circle cx="485.0" cy="246.1" r="0.7"/><circle cx="486.5" cy="244.3" r="0.8"/><circle cx="487.3" cy="245.8" r="1.1"/><circle cx="486.3" cy="245.0" r="1.3"/><circle cx="489.4" cy="240.0" r="1.3"/><circle cx="495.3" cy="239.8" r="1.3"/><circle cx="484.2" cy="242.7" r="1.2"/><circle cx="508.5" cy="230.4" r="1.2"/><circle cx="514.4" cy="229.3" r="1.0"/><circle cx="518.9" cy="225.4" r="1.2"/><circle cx="505.9" cy="230.1" r="0.9"/><circle cx="509.9" cy="231.9" r="1.2"/><circle cx="505.0" cy="230.8" r="0.7"/><circle cx="518.7" cy="228.0" r="0.9"/><circle cx="516.3" cy="225.7" r="1.2"/><circle cx="511.8" cy="231.0" r="0.8"/><circle cx="518.8" cy="226.7" r="1.4"/><circle cx="504.0" cy="230.5" r="1.4"/><circle cx="505.8" cy="232.1" r="1.4"/><circle cx="529.1" cy="224.3" r="1.2"/><circle cx="524.9" cy="221.8" r="1.2"/><circle cx="525.8" cy="226.4" r="1.2"/><circle cx="521.0" cy="222.8" r="0.7"/><circle cx="522.6" cy="222.7" r="1.0"/><circle cx="535.3" cy="220.5" r="0.7"/><circle cx="528.5" cy="224.5" r="1.0"/><circle cx="538.7" cy="220.7" r="1.3"/><circle cx="536.5" cy="220.5" r="1.3"/><circle cx="520.1" cy="223.6" r="1.4"/><circle cx="533.5" cy="222.9" r="1.2"/><circle cx="522.6" cy="222.6" r="1.4"/><circle cx="533.3" cy="222.9" r="0.8"/><circle cx="520.8" cy="226.8" r="0.8"/><circle cx="534.3" cy="220.5" r="1.3"/><circle cx="527.5" cy="223.8" r="0.7"/><circle cx="535.9" cy="220.9" r="1.0"/><circle cx="523.8" cy="223.0" r="1.0"/><circle cx="533.0" cy="222.5" r="1.3"/><circle cx="533.8" cy="224.2" r="0.8"/><circle cx="528.6" cy="221.5" r="1.0"/><circle cx="542.1" cy="221.8" r="0.8"/><circle cx="547.9" cy="222.0" r="0.7"/><circle cx="546.9" cy="226.0" r="1.1"/><circle cx="543.3" cy="223.6" r="1.1"/><circle cx="555.3" cy="226.9" r="0.8"/><circle cx="554.5" cy="225.0" r="0.7"/><circle cx="555.1" cy="226.5" r="1.2"/><circle cx="547.8" cy="223.0" r="0.8"/><circle cx="541.3" cy="224.1" r="1.0"/><circle cx="540.1" cy="221.9" r="1.1"/><circle cx="547.3" cy="225.1" r="1.1"/><circle cx="548.0" cy="224.6" r="1.2"/><circle cx="552.3" cy="228.1" r="1.2"/><circle cx="555.2" cy="225.1" r="0.8"/><circle cx="544.5" cy="220.3" r="1.0"/><circle cx="542.8" cy="223.5" r="1.1"/><circle cx="551.9" cy="223.0" r="1.4"/><circle cx="547.8" cy="224.1" r="1.4"/><circle cx="555.9" cy="227.7" r="0.8"/><circle cx="395.8" cy="441.2" r="0.8"/><circle cx="390.6" cy="445.5" r="1.2"/><circle cx="389.6" cy="445.0" r="1.3"/><circle cx="391.8" cy="443.5" r="1.0"/><circle cx="392.2" cy="442.2" r="0.8"/><circle cx="394.2" cy="440.3" r="0.8"/><circle cx="394.3" cy="446.4" r="0.7"/><circle cx="389.7" cy="448.5" r="1.0"/><circle cx="395.8" cy="443.0" r="1.3"/><circle cx="395.2" cy="441.5" r="0.7"/><circle cx="387.3" cy="448.4" r="0.9"/><circle cx="393.7" cy="446.7" r="1.3"/><circle cx="396.6" cy="439.2" r="1.2"/><circle cx="407.0" cy="437.0" r="1.4"/><circle cx="398.3" cy="442.8" r="1.1"/><circle cx="403.5" cy="434.7" r="0.8"/><circle cx="402.9" cy="438.1" r="0.7"/><circle cx="405.1" cy="437.5" r="0.7"/><circle cx="404.9" cy="437.0" r="1.2"/><circle cx="408.5" cy="435.2" r="0.8"/><circle cx="406.6" cy="432.3" r="1.0"/><circle cx="404.4" cy="434.8" r="1.2"/><circle cx="397.7" cy="438.2" r="0.9"/><circle cx="397.3" cy="439.9" r="1.0"/><circle cx="404.5" cy="439.0" r="1.1"/><circle cx="404.3" cy="435.5" r="0.8"/><circle cx="396.8" cy="442.2" r="0.8"/><circle cx="408.5" cy="435.0" r="1.3"/><circle cx="416.6" cy="426.3" r="0.9"/><circle cx="408.8" cy="429.4" r="1.1"/><circle cx="407.2" cy="430.4" r="0.8"/><circle cx="410.0" cy="430.4" r="1.2"/><circle cx="410.9" cy="434.7" r="1.4"/><circle cx="412.1" cy="430.8" r="0.9"/><circle cx="413.0" cy="428.4" r="0.7"/><circle cx="408.6" cy="430.1" r="1.1"/><circle cx="418.3" cy="428.2" r="0.9"/><circle cx="411.7" cy="434.0" r="1.1"/><circle cx="410.5" cy="433.1" r="1.0"/><circle cx="418.6" cy="428.5" r="0.7"/><circle cx="411.0" cy="432.9" r="1.3"/><circle cx="421.7" cy="425.5" r="1.1"/><circle cx="422.6" cy="424.3" r="0.7"/><circle cx="422.9" cy="423.0" r="1.1"/><circle cx="427.8" cy="418.2" r="0.9"/><circle cx="424.3" cy="423.7" r="0.9"/><circle cx="423.7" cy="424.9" r="1.3"/><circle cx="424.6" cy="424.0" r="0.7"/><circle cx="420.7" cy="425.1" r="0.8"/><circle cx="421.2" cy="421.9" r="1.1"/><circle cx="425.1" cy="423.6" r="1.1"/><circle cx="388.8" cy="458.4" r="1.0"/><circle cx="392.0" cy="467.8" r="0.9"/><circle cx="389.6" cy="469.2" r="0.9"/><circle cx="389.6" cy="472.8" r="1.1"/><circle cx="389.2" cy="464.9" r="0.9"/><circle cx="390.0" cy="473.7" r="0.8"/><circle cx="391.5" cy="467.1" r="0.7"/><circle cx="388.9" cy="458.7" r="0.7"/><circle cx="387.9" cy="462.4" r="0.8"/><circle cx="389.9" cy="458.2" r="1.1"/><circle cx="387.4" cy="460.5" r="1.0"/><circle cx="389.8" cy="459.1" r="1.4"/><circle cx="387.9" cy="461.9" r="1.4"/><circle cx="391.3" cy="472.9" r="0.9"/><circle cx="389.7" cy="469.2" r="0.8"/><circle cx="393.8" cy="472.3" r="1.3"/><circle cx="390.2" cy="461.1" r="1.0"/><circle cx="392.3" cy="470.9" r="0.8"/><circle cx="389.2" cy="460.3" r="1.3"/><circle cx="394.6" cy="482.8" r="1.4"/><circle cx="393.9" cy="484.2" r="0.9"/><circle cx="394.2" cy="477.7" r="1.0"/><circle cx="391.0" cy="476.8" r="1.0"/><circle cx="394.3" cy="485.0" r="1.4"/><circle cx="395.2" cy="481.2" r="1.3"/><circle cx="394.9" cy="479.7" r="1.3"/><circle cx="393.7" cy="484.1" r="1.4"/><circle cx="394.6" cy="485.1" r="1.2"/><circle cx="395.3" cy="484.0" r="1.0"/><circle cx="393.8" cy="483.3" r="1.3"/><circle cx="394.6" cy="477.2" r="0.7"/><circle cx="425.2" cy="382.4" r="0.8"/><circle cx="425.5" cy="381.8" r="0.8"/><circle cx="429.7" cy="379.4" r="1.4"/><circle cx="432.7" cy="377.9" r="1.0"/><circle cx="434.8" cy="374.7" r="0.7"/><circle cx="430.1" cy="379.6" r="1.2"/><circle cx="428.0" cy="377.9" r="1.4"/><circle cx="433.7" cy="372.1" r="1.1"/><circle cx="432.5" cy="375.3" r="0.7"/><circle cx="427.4" cy="380.6" r="1.3"/><circle cx="436.0" cy="376.3" r="1.0"/><circle cx="433.8" cy="377.5" r="0.8"/><circle cx="428.7" cy="379.7" r="0.8"/><circle cx="442.6" cy="379.4" r="1.1"/><circle cx="443.2" cy="377.2" r="1.3"/><circle cx="444.1" cy="375.7" r="0.7"/><circle cx="440.4" cy="377.2" r="1.0"/><circle cx="309.0" cy="627.5" r="1.1"/><circle cx="306.9" cy="625.6" r="0.9"/><circle cx="308.8" cy="628.0" r="0.8"/><circle cx="312.2" cy="628.7" r="1.2"/><circle cx="314.9" cy="629.4" r="0.7"/><circle cx="306.9" cy="625.9" r="1.3"/><circle cx="310.9" cy="628.4" r="1.4"/><circle cx="327.0" cy="625.6" r="0.8"/><circle cx="322.0" cy="627.6" r="0.9"/><circle cx="319.3" cy="625.0" r="0.8"/><circle cx="323.3" cy="625.4" r="1.0"/><circle cx="329.9" cy="626.7" r="1.4"/><circle cx="319.1" cy="627.5" r="0.8"/><circle cx="317.3" cy="628.1" r="1.4"/><circle cx="321.2" cy="626.6" r="0.9"/><circle cx="318.5" cy="628.9" r="1.1"/><circle cx="328.2" cy="628.0" r="0.9"/><circle cx="322.3" cy="626.0" r="1.1"/><circle cx="321.5" cy="628.8" r="1.3"/><circle cx="325.7" cy="626.1" r="1.4"/><circle cx="321.9" cy="625.4" r="0.7"/><circle cx="320.8" cy="626.9" r="1.0"/><circle cx="342.4" cy="618.4" r="1.1"/><circle cx="334.7" cy="623.4" r="1.1"/><circle cx="335.2" cy="623.1" r="0.9"/><circle cx="333.7" cy="623.7" r="1.3"/><circle cx="338.7" cy="618.8" r="0.8"/><circle cx="340.7" cy="618.3" r="0.8"/><circle cx="334.6" cy="625.5" r="1.2"/><circle cx="342.1" cy="617.1" r="1.4"/><circle cx="333.6" cy="626.2" r="1.3"/><circle cx="332.6" cy="627.6" r="1.3"/><circle cx="342.8" cy="616.4" r="0.7"/><circle cx="331.1" cy="627.5" r="1.2"/><circle cx="331.7" cy="624.0" r="1.1"/><circle cx="343.8" cy="618.1" r="1.0"/><circle cx="334.8" cy="626.8" r="1.4"/><circle cx="331.9" cy="623.7" r="0.9"/><circle cx="338.2" cy="623.0" r="0.7"/><circle cx="357.2" cy="612.2" r="1.0"/><circle cx="351.6" cy="617.0" r="1.3"/><circle cx="345.9" cy="615.6" r="1.0"/><circle cx="357.8" cy="613.0" r="1.1"/><circle cx="356.9" cy="611.4" r="1.2"/><circle cx="355.8" cy="611.9" r="1.4"/><circle cx="349.8" cy="614.1" r="1.4"/><circle cx="355.9" cy="611.0" r="1.1"/><circle cx="358.0" cy="611.2" r="0.9"/><circle cx="359.8" cy="611.9" r="0.8"/><circle cx="359.0" cy="611.3" r="1.0"/><circle cx="355.9" cy="610.2" r="0.9"/><circle cx="358.1" cy="610.9" r="1.2"/><circle cx="356.3" cy="613.0" r="0.7"/><circle cx="365.7" cy="606.9" r="1.2"/><circle cx="363.9" cy="611.2" r="1.4"/><circle cx="365.4" cy="610.1" r="1.3"/><circle cx="367.1" cy="607.4" r="1.4"/><circle cx="361.7" cy="611.0" r="0.8"/><circle cx="368.3" cy="607.8" r="1.2"/><circle cx="365.2" cy="607.9" r="0.8"/><circle cx="363.5" cy="606.9" r="1.3"/><circle cx="364.0" cy="608.8" r="1.2"/><circle cx="383.0" cy="602.8" r="0.8"/><circle cx="371.3" cy="606.9" r="0.9"/><circle cx="383.2" cy="604.2" r="1.3"/><circle cx="382.7" cy="603.1" r="1.4"/><circle cx="382.0" cy="604.4" r="0.7"/><circle cx="376.1" cy="607.5" r="1.4"/><circle cx="379.4" cy="605.5" r="1.0"/><circle cx="370.5" cy="606.9" r="1.0"/><circle cx="374.3" cy="606.6" r="1.3"/><circle cx="371.3" cy="608.9" r="0.9"/><circle cx="378.2" cy="607.8" r="1.0"/><circle cx="372.9" cy="604.2" r="0.8"/><circle cx="373.0" cy="607.2" r="1.1"/><circle cx="398.0" cy="597.1" r="1.1"/><circle cx="392.3" cy="598.4" r="1.4"/><circle cx="396.9" cy="594.5" r="0.7"/><circle cx="387.3" cy="602.5" r="0.7"/><circle cx="384.9" cy="603.4" r="1.4"/><circle cx="391.1" cy="597.5" r="1.0"/><circle cx="394.7" cy="595.4" r="0.8"/><circle cx="395.0" cy="595.7" r="1.4"/><circle cx="396.7" cy="597.2" r="0.9"/><circle cx="393.1" cy="596.7" r="1.3"/><circle cx="394.3" cy="597.2" r="0.8"/><circle cx="394.8" cy="600.8" r="1.4"/><circle cx="410.2" cy="588.3" r="0.9"/><circle cx="399.7" cy="593.2" r="0.8"/><circle cx="410.2" cy="585.9" r="1.1"/><circle cx="407.1" cy="589.6" r="1.1"/><circle cx="399.1" cy="595.2" r="0.8"/><circle cx="410.8" cy="586.0" r="0.7"/><circle cx="404.1" cy="591.2" r="1.3"/><circle cx="410.1" cy="590.1" r="1.0"/><circle cx="413.5" cy="586.4" r="0.8"/><circle cx="399.2" cy="594.5" r="0.7"/><circle cx="403.4" cy="592.8" r="1.4"/><circle cx="400.3" cy="593.6" r="0.9"/><circle cx="399.7" cy="592.4" r="0.7"/><circle cx="407.1" cy="587.4" r="1.1"/><circle cx="400.7" cy="596.0" r="1.2"/><circle cx="401.6" cy="595.0" r="1.0"/><circle cx="411.4" cy="584.1" r="0.8"/><circle cx="400.4" cy="592.2" r="1.2"/><circle cx="403.1" cy="593.9" r="0.8"/><circle cx="409.2" cy="588.3" r="0.8"/><circle cx="408.5" cy="592.2" r="1.4"/><circle cx="406.4" cy="590.5" r="0.8"/><circle cx="428.3" cy="571.4" r="1.4"/><circle cx="416.9" cy="582.8" r="0.8"/><circle cx="430.5" cy="567.8" r="1.2"/><circle cx="418.7" cy="578.3" r="1.1"/><circle cx="426.5" cy="573.5" r="1.2"/><circle cx="431.8" cy="569.2" r="0.7"/><circle cx="428.7" cy="574.8" r="1.2"/><circle cx="430.8" cy="572.0" r="0.7"/><circle cx="424.8" cy="572.5" r="0.7"/><circle cx="431.8" cy="573.0" r="0.9"/><circle cx="432.3" cy="570.1" r="1.4"/><circle cx="418.0" cy="582.0" r="1.0"/><circle cx="421.2" cy="579.2" r="1.1"/><circle cx="419.4" cy="580.7" r="1.1"/><circle cx="425.3" cy="573.3" r="1.1"/><circle cx="429.0" cy="573.5" r="1.3"/><circle cx="420.3" cy="582.7" r="1.1"/><circle cx="419.3" cy="580.1" r="1.2"/><circle cx="426.6" cy="572.3" r="1.0"/><circle cx="419.5" cy="579.7" r="1.3"/><circle cx="419.6" cy="582.4" r="1.2"/><circle cx="415.0" cy="583.6" r="0.7"/><circle cx="428.0" cy="576.1" r="1.3"/><circle cx="419.2" cy="578.3" r="1.3"/><circle cx="215.0" cy="641.7" r="1.0"/><circle cx="223.1" cy="643.5" r="1.3"/><circle cx="215.8" cy="641.8" r="1.4"/><circle cx="212.1" cy="642.4" r="1.4"/><circle cx="222.6" cy="643.9" r="1.0"/><circle cx="220.8" cy="641.1" r="0.7"/><circle cx="215.8" cy="643.6" r="0.9"/><circle cx="215.5" cy="642.3" r="0.7"/><circle cx="220.6" cy="640.9" r="1.2"/><circle cx="212.2" cy="640.8" r="1.2"/><circle cx="213.9" cy="641.5" r="1.3"/><circle cx="218.5" cy="642.9" r="0.9"/><circle cx="214.9" cy="644.1" r="1.1"/><circle cx="211.5" cy="642.1" r="0.9"/><circle cx="215.7" cy="645.5" r="0.7"/><circle cx="221.8" cy="640.1" r="1.1"/><circle cx="211.1" cy="645.8" r="1.3"/><circle cx="221.0" cy="641.7" r="1.4"/><circle cx="215.1" cy="641.4" r="1.1"/><circle cx="231.0" cy="638.1" r="1.0"/><circle cx="224.4" cy="639.5" r="1.3"/><circle cx="231.0" cy="635.0" r="1.0"/><circle cx="223.1" cy="639.0" r="0.7"/><circle cx="227.7" cy="639.5" r="0.9"/><circle cx="229.6" cy="641.7" r="0.8"/><circle cx="227.8" cy="638.5" r="1.3"/><circle cx="230.8" cy="636.9" r="0.9"/><circle cx="228.1" cy="637.8" r="0.7"/><circle cx="225.5" cy="641.6" r="1.1"/><circle cx="227.7" cy="641.7" r="0.9"/><circle cx="231.5" cy="636.6" r="1.0"/><circle cx="229.9" cy="639.4" r="1.0"/><circle cx="235.9" cy="636.8" r="1.0"/><circle cx="239.4" cy="629.0" r="0.8"/><circle cx="240.3" cy="631.8" r="1.0"/><circle cx="234.7" cy="636.5" r="1.2"/><circle cx="238.7" cy="630.2" r="1.1"/><circle cx="237.7" cy="632.2" r="1.1"/><circle cx="238.4" cy="633.9" r="0.8"/><circle cx="240.5" cy="632.0" r="1.1"/><circle cx="238.1" cy="631.2" r="1.0"/><circle cx="240.8" cy="630.5" r="1.0"/><circle cx="233.8" cy="636.9" r="0.7"/><circle cx="236.5" cy="636.8" r="0.8"/><circle cx="233.7" cy="639.0" r="1.0"/><circle cx="239.8" cy="634.7" r="0.8"/><circle cx="465.9" cy="755.7" r="0.7"/><circle cx="471.4" cy="760.9" r="0.8"/><circle cx="463.7" cy="760.8" r="1.4"/><circle cx="471.5" cy="763.3" r="1.4"/><circle cx="462.4" cy="758.9" r="1.1"/><circle cx="472.9" cy="763.4" r="1.2"/><circle cx="470.3" cy="764.0" r="0.8"/><circle cx="467.5" cy="765.2" r="0.8"/><circle cx="469.2" cy="759.0" r="0.8"/><circle cx="468.1" cy="761.4" r="0.7"/><circle cx="467.1" cy="757.6" r="1.2"/><circle cx="474.1" cy="770.7" r="0.8"/><circle cx="473.1" cy="772.9" r="0.8"/><circle cx="479.8" cy="773.0" r="0.9"/><circle cx="475.6" cy="770.8" r="1.1"/><circle cx="477.8" cy="768.7" r="1.3"/><circle cx="476.8" cy="775.2" r="1.1"/><circle cx="470.5" cy="768.9" r="0.9"/><circle cx="477.5" cy="774.5" r="1.2"/><circle cx="472.8" cy="767.1" r="1.1"/><circle cx="470.6" cy="770.3" r="1.0"/><circle cx="472.2" cy="768.6" r="0.8"/><circle cx="475.6" cy="771.7" r="1.1"/><circle cx="479.9" cy="774.6" r="0.7"/><circle cx="483.6" cy="778.8" r="1.3"/><circle cx="484.9" cy="780.2" r="1.1"/><circle cx="481.0" cy="779.1" r="0.7"/><circle cx="485.1" cy="779.5" r="1.1"/><circle cx="482.0" cy="784.6" r="0.7"/><circle cx="480.3" cy="775.9" r="0.7"/><circle cx="481.2" cy="777.3" r="1.0"/><circle cx="482.5" cy="783.4" r="0.7"/><circle cx="479.4" cy="775.8" r="0.7"/><circle cx="480.9" cy="784.9" r="0.8"/><circle cx="484.0" cy="781.4" r="1.4"/><circle cx="482.9" cy="776.4" r="1.4"/><circle cx="481.7" cy="779.4" r="1.3"/><circle cx="480.1" cy="777.4" r="1.4"/><circle cx="490.7" cy="786.3" r="1.0"/><circle cx="487.1" cy="784.8" r="1.3"/><circle cx="487.3" cy="787.7" r="1.4"/><circle cx="490.2" cy="786.7" r="1.3"/><circle cx="486.9" cy="782.5" r="1.2"/><circle cx="490.3" cy="786.9" r="1.2"/><circle cx="489.5" cy="783.8" r="1.1"/><circle cx="485.8" cy="785.3" r="0.9"/><circle cx="489.0" cy="787.7" r="0.7"/><circle cx="494.7" cy="783.3" r="1.2"/><circle cx="487.1" cy="783.4" r="1.1"/><circle cx="486.2" cy="784.2" r="0.9"/><circle cx="498.3" cy="786.5" r="1.4"/><circle cx="498.4" cy="791.7" r="1.0"/><circle cx="496.1" cy="784.0" r="1.0"/><circle cx="496.8" cy="790.5" r="0.9"/><circle cx="498.5" cy="788.2" r="1.4"/><circle cx="498.9" cy="788.3" r="0.7"/><circle cx="502.2" cy="788.7" r="1.1"/><circle cx="502.9" cy="787.3" r="0.9"/><circle cx="498.1" cy="785.5" r="1.0"/><circle cx="503.9" cy="788.2" r="0.7"/><circle cx="504.4" cy="790.6" r="0.8"/><circle cx="505.0" cy="788.4" r="1.3"/><circle cx="510.0" cy="787.2" r="1.4"/><circle cx="508.5" cy="793.3" r="0.7"/><circle cx="509.5" cy="791.1" r="1.2"/><circle cx="507.5" cy="787.9" r="1.0"/><circle cx="508.4" cy="788.8" r="0.9"/><circle cx="503.3" cy="792.8" r="1.0"/><circle cx="503.6" cy="790.5" r="1.1"/><circle cx="506.6" cy="793.6" r="0.9"/><circle cx="520.8" cy="794.1" r="0.8"/><circle cx="520.9" cy="793.7" r="0.7"/><circle cx="515.1" cy="792.2" r="0.8"/><circle cx="521.0" cy="789.8" r="1.2"/><circle cx="517.2" cy="793.2" r="1.2"/><circle cx="513.5" cy="794.6" r="1.0"/><circle cx="516.0" cy="793.2" r="1.2"/><circle cx="516.6" cy="792.3" r="1.1"/><circle cx="521.3" cy="797.2" r="1.3"/><circle cx="522.0" cy="791.3" r="1.2"/><circle cx="520.8" cy="792.9" r="0.9"/><circle cx="528.8" cy="799.2" r="1.3"/><circle cx="525.5" cy="791.9" r="1.1"/><circle cx="527.0" cy="792.1" r="0.8"/><circle cx="530.8" cy="795.5" r="1.3"/><circle cx="525.6" cy="794.0" r="0.7"/><circle cx="527.7" cy="791.6" r="1.3"/><circle cx="521.6" cy="797.3" r="0.8"/><circle cx="524.4" cy="791.0" r="1.2"/><circle cx="528.1" cy="793.7" r="0.9"/><circle cx="530.3" cy="800.1" r="0.7"/><circle cx="528.2" cy="798.6" r="1.2"/><circle cx="531.0" cy="794.1" r="1.1"/><circle cx="536.3" cy="797.2" r="1.2"/><circle cx="537.7" cy="802.2" r="1.1"/><circle cx="532.6" cy="801.9" r="0.9"/><circle cx="533.6" cy="800.4" r="1.4"/><circle cx="535.4" cy="803.7" r="1.3"/><circle cx="534.4" cy="801.5" r="0.9"/><circle cx="535.6" cy="802.6" r="0.8"/><circle cx="540.7" cy="799.3" r="0.8"/><circle cx="532.6" cy="802.1" r="1.4"/><circle cx="537.8" cy="802.3" r="0.8"/><circle cx="532.4" cy="797.4" r="0.7"/><circle cx="533.2" cy="802.5" r="1.0"/><circle cx="500.5" cy="802.2" r="1.0"/><circle cx="502.7" cy="807.4" r="0.9"/><circle cx="503.1" cy="801.7" r="0.7"/><circle cx="498.8" cy="806.8" r="1.2"/><circle cx="505.2" cy="804.2" r="1.0"/><circle cx="505.2" cy="804.9" r="1.1"/><circle cx="502.0" cy="805.3" r="0.7"/><circle cx="497.6" cy="802.4" r="1.3"/><circle cx="503.8" cy="810.6" r="0.9"/><circle cx="502.9" cy="806.1" r="0.9"/><circle cx="509.5" cy="817.6" r="1.1"/><circle cx="518.1" cy="814.7" r="1.0"/><circle cx="511.2" cy="819.1" r="1.1"/><circle cx="512.2" cy="815.6" r="1.2"/><circle cx="507.4" cy="815.7" r="0.7"/><circle cx="511.2" cy="817.5" r="0.8"/><circle cx="507.2" cy="813.9" r="1.1"/><circle cx="509.8" cy="818.1" r="1.3"/><circle cx="511.6" cy="813.8" r="0.9"/><circle cx="510.3" cy="816.7" r="1.4"/><circle cx="508.6" cy="812.8" r="1.4"/><circle cx="514.9" cy="816.1" r="1.1"/><circle cx="521.0" cy="817.9" r="0.8"/><circle cx="523.0" cy="823.2" r="0.7"/><circle cx="516.2" cy="821.0" r="1.3"/><circle cx="524.4" cy="826.4" r="0.8"/><circle cx="523.6" cy="826.0" r="0.7"/><circle cx="522.8" cy="826.4" r="0.9"/><circle cx="520.0" cy="818.1" r="1.1"/><circle cx="523.2" cy="826.4" r="0.8"/><circle cx="533.2" cy="831.9" r="0.9"/><circle cx="528.1" cy="828.5" r="1.0"/><circle cx="528.2" cy="824.5" r="1.4"/><circle cx="526.0" cy="826.9" r="0.7"/><circle cx="528.2" cy="827.5" r="1.3"/><circle cx="533.1" cy="824.7" r="0.9"/><circle cx="533.6" cy="831.6" r="1.3"/><circle cx="535.3" cy="827.1" r="1.0"/><circle cx="528.3" cy="828.3" r="0.8"/><circle cx="527.7" cy="829.1" r="1.2"/><circle cx="528.4" cy="830.2" r="1.4"/><circle cx="530.6" cy="831.1" r="0.9"/><circle cx="527.5" cy="825.5" r="1.3"/><circle cx="528.7" cy="831.0" r="1.0"/><circle cx="533.3" cy="833.1" r="1.0"/><circle cx="531.9" cy="830.7" r="1.4"/><circle cx="532.7" cy="826.9" r="1.0"/><circle cx="544.3" cy="840.6" r="1.4"/><circle cx="548.2" cy="835.8" r="1.4"/><circle cx="549.0" cy="835.3" r="1.3"/><circle cx="546.5" cy="835.4" r="1.3"/><circle cx="542.3" cy="832.4" r="1.3"/><circle cx="548.0" cy="836.5" r="1.0"/><circle cx="540.9" cy="838.2" r="1.4"/><circle cx="539.7" cy="829.5" r="1.1"/><circle cx="539.2" cy="837.9" r="1.0"/><circle cx="542.5" cy="832.3" r="1.4"/><circle cx="542.6" cy="834.9" r="0.9"/><circle cx="542.0" cy="834.7" r="1.4"/><circle cx="540.8" cy="830.1" r="0.8"/><circle cx="543.0" cy="839.6" r="0.8"/><circle cx="552.4" cy="842.4" r="0.7"/><circle cx="553.0" cy="844.3" r="1.0"/><circle cx="547.5" cy="839.3" r="1.2"/><circle cx="547.5" cy="838.7" r="0.7"/><circle cx="552.8" cy="839.8" r="0.8"/><circle cx="555.6" cy="843.8" r="1.2"/><circle cx="554.9" cy="844.7" r="1.2"/><circle cx="554.2" cy="840.3" r="1.4"/><circle cx="555.4" cy="840.2" r="0.9"/><circle cx="557.8" cy="841.0" r="1.0"/><circle cx="548.5" cy="841.4" r="0.9"/><circle cx="564.9" cy="848.5" r="1.3"/><circle cx="568.7" cy="845.0" r="1.4"/><circle cx="563.2" cy="846.4" r="1.3"/><circle cx="558.7" cy="848.2" r="1.1"/><circle cx="557.0" cy="847.5" r="0.8"/><circle cx="557.9" cy="843.5" r="1.2"/><circle cx="564.4" cy="849.2" r="0.8"/><circle cx="562.9" cy="849.1" r="0.8"/><circle cx="561.9" cy="843.5" r="0.9"/><circle cx="558.5" cy="847.7" r="0.7"/><circle cx="558.9" cy="843.8" r="1.1"/><circle cx="565.3" cy="851.7" r="0.9"/><circle cx="465.1" cy="816.3" r="1.4"/><circle cx="463.6" cy="815.4" r="0.8"/><circle cx="467.8" cy="817.1" r="1.3"/><circle cx="459.6" cy="816.2" r="0.9"/><circle cx="462.4" cy="814.5" r="0.7"/><circle cx="462.1" cy="816.1" r="1.0"/><circle cx="462.7" cy="818.3" r="1.2"/><circle cx="464.7" cy="820.4" r="1.1"/><circle cx="464.4" cy="814.6" r="1.4"/><circle cx="459.9" cy="816.8" r="1.4"/><circle cx="470.1" cy="822.3" r="1.1"/><circle cx="467.2" cy="822.7" r="0.8"/><circle cx="465.4" cy="823.4" r="0.8"/><circle cx="469.2" cy="819.7" r="0.8"/><circle cx="465.5" cy="821.5" r="0.7"/><circle cx="471.2" cy="822.8" r="0.8"/><circle cx="470.3" cy="823.9" r="1.0"/><circle cx="465.8" cy="830.8" r="0.8"/><circle cx="470.4" cy="831.8" r="1.3"/><circle cx="466.9" cy="824.8" r="0.7"/><circle cx="469.1" cy="829.6" r="1.3"/><circle cx="468.8" cy="831.3" r="1.3"/><circle cx="469.5" cy="830.6" r="1.1"/><circle cx="467.6" cy="836.5" r="1.3"/><circle cx="463.6" cy="832.8" r="1.4"/><circle cx="463.3" cy="835.6" r="1.1"/><circle cx="463.6" cy="838.2" r="1.1"/><circle cx="465.9" cy="830.3" r="0.9"/><circle cx="465.0" cy="830.8" r="1.2"/><circle cx="465.4" cy="831.2" r="1.2"/><circle cx="467.8" cy="832.8" r="1.4"/><circle cx="468.0" cy="836.1" r="1.4"/><circle cx="461.5" cy="836.9" r="1.2"/><circle cx="464.5" cy="836.4" r="1.0"/><circle cx="464.0" cy="834.1" r="0.8"/><circle cx="462.8" cy="841.3" r="1.0"/><circle cx="458.1" cy="841.0" r="1.1"/><circle cx="459.2" cy="846.3" r="0.7"/><circle cx="463.1" cy="842.0" r="1.0"/><circle cx="458.2" cy="844.9" r="1.4"/><circle cx="457.9" cy="842.6" r="0.9"/><circle cx="459.6" cy="842.0" r="1.3"/><circle cx="459.6" cy="839.7" r="1.3"/><circle cx="463.7" cy="841.3" r="1.2"/><circle cx="458.8" cy="843.8" r="1.1"/><circle cx="497.6" cy="927.0" r="1.0"/><circle cx="499.8" cy="928.8" r="1.0"/><circle cx="499.2" cy="926.0" r="0.9"/><circle cx="499.9" cy="926.9" r="1.4"/><circle cx="501.5" cy="923.1" r="1.0"/><circle cx="498.8" cy="927.8" r="0.8"/><circle cx="494.8" cy="926.5" r="0.9"/><circle cx="501.7" cy="927.9" r="1.4"/><circle cx="499.9" cy="924.4" r="1.3"/><circle cx="500.7" cy="927.4" r="1.3"/><circle cx="489.7" cy="930.0" r="1.2"/><circle cx="496.1" cy="932.1" r="1.2"/><circle cx="489.4" cy="932.6" r="1.0"/><circle cx="494.5" cy="929.3" r="1.0"/><circle cx="488.3" cy="932.9" r="0.7"/><circle cx="492.9" cy="930.6" r="0.9"/><circle cx="491.1" cy="934.9" r="1.2"/><circle cx="487.4" cy="931.9" r="0.9"/><circle cx="495.1" cy="930.2" r="1.1"/><circle cx="494.8" cy="933.2" r="0.7"/><circle cx="495.0" cy="931.0" r="1.1"/><circle cx="486.2" cy="935.2" r="0.9"/><circle cx="488.0" cy="936.4" r="1.0"/><circle cx="488.1" cy="937.3" r="0.8"/><circle cx="484.5" cy="935.1" r="1.0"/><circle cx="484.4" cy="935.0" r="1.4"/><circle cx="481.5" cy="940.4" r="1.4"/><circle cx="483.2" cy="938.5" r="0.9"/><circle cx="481.5" cy="939.7" r="1.2"/><circle cx="485.0" cy="938.6" r="0.8"/><circle cx="482.7" cy="937.7" r="0.7"/><circle cx="486.3" cy="938.8" r="0.9"/><circle cx="481.4" cy="938.4" r="0.9"/><circle cx="486.8" cy="937.0" r="0.9"/><circle cx="481.3" cy="937.4" r="1.4"/><circle cx="489.1" cy="937.3" r="0.8"/><circle cx="474.3" cy="941.6" r="1.1"/><circle cx="476.2" cy="938.9" r="1.3"/><circle cx="477.9" cy="937.6" r="0.9"/><circle cx="475.0" cy="944.7" r="1.4"/><circle cx="480.3" cy="941.6" r="1.3"/><circle cx="475.0" cy="945.2" r="0.9"/><circle cx="473.3" cy="948.4" r="1.1"/><circle cx="478.7" cy="941.1" r="1.4"/><circle cx="478.2" cy="940.1" r="1.2"/><circle cx="477.1" cy="939.0" r="0.7"/><circle cx="477.9" cy="941.1" r="1.0"/><circle cx="472.4" cy="942.7" r="1.0"/><circle cx="474.7" cy="947.5" r="0.9"/><circle cx="473.8" cy="942.3" r="0.8"/><circle cx="472.1" cy="944.5" r="0.7"/><circle cx="473.6" cy="945.4" r="0.8"/><circle cx="470.3" cy="950.7" r="0.8"/><circle cx="470.9" cy="948.0" r="1.1"/><circle cx="466.7" cy="948.6" r="0.7"/><circle cx="461.9" cy="952.9" r="1.4"/><circle cx="465.7" cy="949.8" r="1.1"/><circle cx="471.0" cy="950.3" r="1.4"/><circle cx="467.8" cy="949.7" r="0.7"/><circle cx="463.4" cy="952.0" r="1.4"/><circle cx="469.1" cy="946.5" r="1.2"/><circle cx="470.0" cy="950.8" r="1.3"/><circle cx="465.2" cy="954.0" r="0.9"/><circle cx="463.5" cy="951.2" r="0.9"/><circle cx="466.5" cy="948.3" r="1.3"/><circle cx="469.3" cy="950.5" r="1.4"/><circle cx="472.1" cy="948.4" r="1.4"/><circle cx="464.4" cy="953.2" r="1.1"/><circle cx="467.7" cy="949.7" r="0.7"/><circle cx="469.6" cy="946.9" r="1.2"/><circle cx="461.6" cy="960.1" r="0.7"/><circle cx="461.7" cy="959.1" r="1.1"/><circle cx="462.3" cy="955.4" r="1.4"/><circle cx="461.6" cy="956.4" r="0.9"/><circle cx="461.4" cy="958.1" r="1.2"/><circle cx="460.7" cy="958.3" r="1.4"/><circle cx="571.5" cy="865.1" r="1.1"/><circle cx="573.1" cy="868.4" r="1.0"/><circle cx="571.2" cy="862.7" r="1.3"/><circle cx="573.7" cy="869.3" r="0.7"/><circle cx="571.0" cy="859.8" r="0.9"/><circle cx="574.6" cy="862.8" r="1.4"/><circle cx="571.6" cy="862.2" r="0.9"/><circle cx="572.2" cy="859.9" r="0.8"/><circle cx="572.8" cy="869.5" r="1.4"/><circle cx="577.5" cy="870.7" r="0.9"/><circle cx="577.2" cy="874.3" r="1.2"/><circle cx="576.1" cy="877.0" r="1.2"/><circle cx="577.1" cy="873.6" r="0.7"/><circle cx="578.1" cy="875.0" r="1.3"/><circle cx="576.2" cy="870.6" r="1.2"/><circle cx="575.2" cy="869.0" r="0.9"/><circle cx="578.1" cy="877.6" r="1.4"/><circle cx="577.0" cy="871.8" r="1.4"/><circle cx="579.6" cy="885.6" r="1.4"/><circle cx="577.6" cy="884.4" r="1.1"/><circle cx="576.0" cy="880.7" r="0.9"/><circle cx="578.9" cy="886.4" r="1.4"/><circle cx="584.3" cy="886.8" r="1.0"/><circle cx="579.4" cy="883.4" r="0.8"/><circle cx="584.5" cy="888.0" r="1.2"/><circle cx="580.5" cy="880.0" r="1.4"/><circle cx="579.9" cy="888.7" r="1.4"/><circle cx="578.4" cy="885.9" r="1.2"/><circle cx="423.5" cy="939.9" r="0.8"/><circle cx="424.3" cy="938.4" r="0.8"/><circle cx="421.9" cy="935.2" r="1.1"/><circle cx="421.6" cy="932.5" r="1.2"/><circle cx="421.0" cy="937.6" r="1.3"/><circle cx="419.1" cy="935.6" r="1.1"/><circle cx="420.4" cy="934.2" r="0.8"/><circle cx="429.5" cy="939.7" r="0.7"/><circle cx="422.1" cy="935.6" r="1.4"/><circle cx="422.8" cy="936.4" r="0.8"/><circle cx="426.7" cy="938.4" r="1.3"/><circle cx="420.4" cy="935.7" r="1.0"/><circle cx="434.1" cy="952.0" r="0.9"/><circle cx="432.5" cy="950.5" r="1.0"/><circle cx="433.9" cy="951.0" r="1.0"/><circle cx="432.3" cy="947.8" r="1.4"/><circle cx="432.8" cy="944.9" r="1.2"/><circle cx="432.0" cy="952.3" r="1.0"/><circle cx="432.3" cy="951.4" r="0.8"/><circle cx="439.2" cy="953.4" r="0.9"/><circle cx="434.3" cy="951.9" r="1.4"/><circle cx="431.6" cy="940.8" r="1.0"/><circle cx="432.4" cy="948.9" r="0.8"/><circle cx="437.5" cy="954.0" r="1.1"/><circle cx="429.4" cy="945.7" r="0.7"/><circle cx="429.4" cy="946.9" r="1.1"/><circle cx="430.6" cy="945.7" r="1.3"/><circle cx="435.8" cy="951.6" r="1.1"/><circle cx="429.8" cy="948.8" r="1.4"/><circle cx="435.2" cy="954.7" r="1.2"/><circle cx="433.9" cy="956.9" r="1.1"/><circle cx="436.9" cy="958.8" r="0.7"/><circle cx="437.9" cy="960.0" r="1.2"/><circle cx="439.4" cy="955.9" r="1.3"/><circle cx="434.3" cy="956.7" r="0.7"/><circle cx="434.4" cy="954.1" r="1.0"/><circle cx="432.2" cy="964.6" r="1.4"/><circle cx="153.9" cy="1030.1" r="0.9"/><circle cx="156.5" cy="1029.6" r="1.0"/><circle cx="156.1" cy="1032.2" r="1.2"/><circle cx="153.9" cy="1030.8" r="1.0"/><circle cx="152.7" cy="1033.9" r="0.9"/><circle cx="151.9" cy="1030.8" r="1.1"/><circle cx="147.3" cy="1029.3" r="0.7"/><circle cx="153.0" cy="1033.0" r="1.1"/><circle cx="152.9" cy="1033.5" r="1.1"/><circle cx="151.9" cy="1030.7" r="0.9"/><circle cx="154.6" cy="1032.7" r="1.4"/><circle cx="148.7" cy="1030.8" r="0.7"/><circle cx="151.5" cy="1031.2" r="1.4"/><circle cx="152.4" cy="1032.0" r="1.3"/><circle cx="145.5" cy="1033.0" r="1.3"/><circle cx="157.4" cy="1030.5" r="1.2"/><circle cx="156.3" cy="1032.1" r="0.7"/><circle cx="160.7" cy="1030.4" r="0.7"/><circle cx="159.0" cy="1031.1" r="1.0"/><circle cx="160.0" cy="1029.3" r="1.3"/><circle cx="162.0" cy="1029.2" r="0.8"/><circle cx="158.6" cy="1034.1" r="1.4"/><circle cx="162.1" cy="1032.6" r="0.7"/><circle cx="163.5" cy="1033.2" r="1.2"/><circle cx="160.6" cy="1029.6" r="0.7"/><circle cx="165.3" cy="1030.2" r="0.9"/><circle cx="166.4" cy="1034.1" r="1.3"/><circle cx="167.3" cy="1030.7" r="1.1"/><circle cx="158.9" cy="1031.5" r="0.7"/><circle cx="158.3" cy="1030.0" r="0.9"/><circle cx="163.7" cy="1032.3" r="1.3"/><circle cx="169.7" cy="1032.8" r="0.8"/><circle cx="169.9" cy="1030.0" r="0.9"/><circle cx="169.2" cy="1030.7" r="1.1"/><circle cx="168.9" cy="1029.9" r="1.1"/><circle cx="168.3" cy="1033.9" r="0.8"/><circle cx="172.6" cy="1032.3" r="1.4"/><circle cx="171.4" cy="1033.3" r="1.3"/><circle cx="172.1" cy="1034.5" r="1.2"/><circle cx="169.7" cy="1033.0" r="1.0"/><circle cx="172.9" cy="1042.9" r="1.2"/><circle cx="172.5" cy="1037.8" r="1.2"/><circle cx="173.7" cy="1036.3" r="1.0"/><circle cx="176.4" cy="1039.2" r="1.0"/><circle cx="176.3" cy="1038.5" r="1.0"/><circle cx="175.4" cy="1036.1" r="0.9"/><circle cx="173.5" cy="1039.8" r="0.8"/><circle cx="170.3" cy="1038.3" r="0.9"/><circle cx="172.9" cy="1036.6" r="1.0"/><circle cx="178.0" cy="1035.4" r="0.8"/><circle cx="174.3" cy="1038.5" r="1.4"/><circle cx="170.3" cy="1038.5" r="1.2"/><circle cx="172.0" cy="1043.0" r="0.7"/><circle cx="174.8" cy="1041.4" r="1.2"/><circle cx="173.4" cy="1041.3" r="1.4"/><circle cx="167.7" cy="1045.9" r="0.8"/><circle cx="167.2" cy="1047.1" r="0.7"/><circle cx="172.7" cy="1049.0" r="1.0"/><circle cx="168.3" cy="1048.5" r="0.7"/><circle cx="170.3" cy="1049.1" r="1.4"/><circle cx="172.2" cy="1045.7" r="1.0"/><circle cx="167.9" cy="1045.2" r="1.1"/><circle cx="170.3" cy="1047.1" r="0.7"/><circle cx="416.9" cy="980.3" r="1.1"/><circle cx="415.4" cy="980.6" r="1.1"/><circle cx="419.2" cy="977.9" r="0.8"/><circle cx="415.1" cy="976.5" r="1.0"/><circle cx="412.2" cy="974.0" r="1.1"/><circle cx="415.3" cy="980.4" r="1.4"/><circle cx="415.0" cy="975.0" r="0.9"/><circle cx="413.2" cy="977.8" r="1.4"/><circle cx="413.2" cy="972.8" r="1.1"/><circle cx="411.7" cy="976.1" r="0.7"/><circle cx="411.8" cy="973.8" r="1.0"/><circle cx="425.0" cy="986.2" r="0.7"/><circle cx="419.4" cy="980.3" r="1.4"/><circle cx="424.9" cy="984.2" r="1.1"/><circle cx="418.6" cy="981.2" r="1.0"/><circle cx="422.5" cy="987.5" r="0.7"/><circle cx="419.9" cy="979.7" r="1.2"/><circle cx="421.9" cy="987.4" r="1.0"/><circle cx="420.5" cy="980.0" r="0.8"/><circle cx="420.4" cy="986.4" r="0.7"/><circle cx="425.4" cy="987.1" r="0.9"/><circle cx="421.3" cy="987.9" r="1.1"/><circle cx="423.8" cy="988.1" r="1.1"/><circle cx="425.8" cy="989.8" r="1.2"/><circle cx="425.7" cy="989.7" r="1.3"/><circle cx="420.9" cy="992.0" r="1.1"/><circle cx="421.2" cy="994.6" r="0.9"/><circle cx="420.4" cy="994.6" r="1.2"/><circle cx="424.3" cy="995.3" r="1.0"/><circle cx="424.5" cy="994.4" r="1.1"/><circle cx="424.4" cy="995.9" r="0.9"/><circle cx="425.0" cy="994.8" r="1.3"/><circle cx="425.2" cy="992.6" r="1.3"/><circle cx="423.5" cy="988.9" r="0.7"/><circle cx="424.1" cy="992.2" r="1.2"/><circle cx="422.0" cy="992.2" r="1.2"/><circle cx="189.6" cy="990.8" r="0.9"/><circle cx="198.4" cy="991.1" r="1.4"/><circle cx="202.8" cy="990.2" r="1.1"/><circle cx="195.8" cy="992.9" r="1.0"/><circle cx="193.6" cy="990.2" r="1.1"/><circle cx="196.0" cy="992.9" r="1.3"/><circle cx="188.7" cy="992.9" r="1.1"/><circle cx="188.7" cy="991.9" r="1.3"/><circle cx="190.3" cy="993.5" r="1.1"/><circle cx="199.7" cy="992.4" r="1.3"/><circle cx="195.7" cy="992.4" r="0.9"/><circle cx="202.1" cy="991.2" r="0.7"/><circle cx="197.3" cy="992.8" r="1.1"/><circle cx="197.2" cy="989.7" r="0.9"/><circle cx="195.3" cy="989.4" r="1.2"/><circle cx="202.1" cy="990.6" r="1.4"/><circle cx="189.5" cy="992.8" r="0.8"/><circle cx="207.7" cy="988.3" r="0.9"/><circle cx="205.1" cy="989.3" r="1.2"/><circle cx="204.7" cy="989.8" r="1.2"/><circle cx="206.1" cy="991.3" r="0.9"/><circle cx="460.3" cy="815.9" r="1.3"/><circle cx="459.5" cy="816.3" r="1.1"/><circle cx="462.2" cy="818.5" r="0.8"/><circle cx="461.0" cy="815.7" r="1.3"/><circle cx="461.1" cy="818.3" r="1.0"/><circle cx="463.4" cy="816.8" r="0.9"/><circle cx="462.2" cy="820.9" r="1.2"/><circle cx="463.6" cy="818.8" r="1.3"/><circle cx="461.3" cy="818.8" r="0.9"/><circle cx="464.5" cy="822.9" r="1.3"/><circle cx="465.3" cy="821.4" r="0.7"/><circle cx="465.9" cy="822.9" r="1.1"/><circle cx="464.1" cy="819.9" r="1.2"/><circle cx="465.9" cy="821.5" r="0.8"/><circle cx="463.3" cy="822.5" r="1.4"/><circle cx="466.5" cy="821.2" r="0.9"/><circle cx="463.8" cy="823.2" r="1.3"/><circle cx="464.8" cy="825.5" r="0.7"/><circle cx="467.1" cy="829.9" r="1.4"/><circle cx="466.5" cy="826.7" r="1.1"/><circle cx="463.9" cy="829.1" r="0.9"/><circle cx="465.0" cy="828.8" r="1.2"/><circle cx="465.3" cy="824.3" r="0.9"/><circle cx="466.4" cy="830.5" r="1.2"/><circle cx="465.0" cy="827.4" r="0.8"/><circle cx="464.0" cy="829.8" r="1.3"/><circle cx="462.3" cy="831.9" r="1.3"/><circle cx="463.9" cy="834.0" r="0.9"/><circle cx="461.3" cy="833.3" r="0.9"/><circle cx="465.5" cy="831.0" r="0.7"/><circle cx="462.7" cy="831.1" r="1.1"/><circle cx="463.8" cy="832.3" r="1.4"/><circle cx="463.4" cy="832.7" r="0.8"/><circle cx="479.5" cy="836.3" r="1.0"/><circle cx="483.3" cy="836.9" r="1.4"/><circle cx="482.1" cy="835.4" r="0.9"/><circle cx="481.7" cy="836.7" r="1.0"/><circle cx="481.1" cy="835.1" r="1.4"/><circle cx="478.6" cy="833.7" r="0.9"/><circle cx="481.5" cy="836.1" r="1.4"/><circle cx="480.6" cy="834.7" r="1.1"/><circle cx="481.4" cy="836.2" r="1.2"/><circle cx="480.0" cy="835.4" r="1.2"/><circle cx="484.2" cy="837.9" r="0.8"/><circle cx="482.6" cy="839.5" r="0.9"/><circle cx="484.5" cy="839.0" r="0.8"/><circle cx="482.3" cy="840.3" r="1.2"/><circle cx="484.1" cy="842.1" r="1.0"/><circle cx="482.2" cy="841.2" r="0.9"/><circle cx="483.9" cy="843.5" r="0.9"/><circle cx="543.9" cy="823.6" r="0.8"/><circle cx="543.7" cy="824.9" r="1.4"/><circle cx="540.5" cy="824.3" r="1.3"/><circle cx="547.3" cy="826.5" r="1.1"/><circle cx="544.2" cy="827.5" r="1.1"/><circle cx="547.5" cy="827.4" r="1.3"/><circle cx="546.9" cy="828.4" r="0.9"/><circle cx="546.5" cy="827.7" r="1.3"/><circle cx="546.0" cy="826.1" r="1.3"/><circle cx="551.0" cy="826.6" r="0.7"/><circle cx="548.9" cy="829.2" r="1.4"/><circle cx="551.1" cy="828.2" r="1.1"/><circle cx="553.0" cy="828.2" r="0.9"/><circle cx="549.8" cy="830.8" r="1.3"/><circle cx="551.5" cy="828.6" r="0.8"/><circle cx="551.7" cy="826.9" r="1.1"/><circle cx="548.0" cy="828.1" r="1.2"/><circle cx="554.4" cy="829.3" r="1.0"/><circle cx="556.4" cy="826.2" r="0.8"/><circle cx="555.3" cy="264.6" r="0.8"/><circle cx="561.3" cy="269.7" r="1.2"/><circle cx="561.9" cy="268.7" r="1.4"/><circle cx="556.1" cy="267.4" r="1.4"/><circle cx="562.4" cy="270.9" r="1.3"/><circle cx="557.8" cy="268.0" r="1.2"/><circle cx="564.9" cy="268.8" r="0.7"/><circle cx="554.7" cy="265.8" r="0.7"/><circle cx="555.4" cy="265.8" r="1.2"/><circle cx="560.6" cy="268.7" r="1.4"/><circle cx="560.3" cy="267.9" r="1.0"/><circle cx="555.3" cy="265.4" r="1.4"/><circle cx="559.6" cy="265.0" r="0.7"/><circle cx="573.1" cy="275.2" r="0.8"/><circle cx="573.5" cy="271.8" r="0.9"/><circle cx="572.0" cy="272.8" r="0.9"/><circle cx="569.1" cy="271.1" r="1.0"/><circle cx="571.3" cy="272.9" r="0.7"/><circle cx="569.7" cy="275.0" r="0.8"/><circle cx="567.1" cy="270.4" r="1.3"/><circle cx="565.4" cy="270.6" r="1.1"/><circle cx="567.4" cy="274.2" r="1.0"/><circle cx="571.0" cy="270.9" r="1.1"/><circle cx="565.6" cy="272.1" r="0.9"/><circle cx="580.6" cy="279.4" r="0.8"/><circle cx="578.5" cy="279.0" r="0.7"/><circle cx="576.7" cy="275.2" r="1.3"/><circle cx="578.9" cy="279.1" r="0.9"/><circle cx="577.3" cy="275.8" r="1.1"/><circle cx="574.7" cy="275.9" r="0.8"/><circle cx="578.9" cy="280.5" r="0.9"/><circle cx="582.2" cy="278.2" r="0.7"/><circle cx="581.4" cy="276.2" r="0.7"/><circle cx="575.3" cy="274.0" r="0.9"/><circle cx="580.2" cy="280.7" r="0.8"/><circle cx="582.1" cy="284.1" r="0.9"/><circle cx="580.6" cy="281.0" r="0.9"/><circle cx="581.9" cy="286.6" r="1.3"/><circle cx="581.6" cy="284.9" r="1.2"/><circle cx="579.7" cy="285.2" r="0.8"/><circle cx="582.4" cy="286.1" r="1.2"/><circle cx="581.0" cy="285.4" r="1.0"/><circle cx="582.1" cy="286.0" r="1.1"/><circle cx="581.5" cy="284.5" r="0.8"/><circle cx="580.4" cy="286.8" r="1.4"/><circle cx="583.0" cy="291.3" r="1.4"/><circle cx="579.7" cy="288.4" r="1.0"/><circle cx="578.1" cy="290.3" r="1.1"/><circle cx="579.3" cy="294.4" r="0.9"/><circle cx="582.4" cy="293.8" r="1.3"/><circle cx="578.5" cy="291.6" r="1.3"/><circle cx="580.2" cy="293.5" r="1.0"/><circle cx="584.4" cy="334.3" r="0.9"/><circle cx="579.8" cy="339.1" r="1.2"/><circle cx="579.3" cy="337.3" r="0.7"/><circle cx="585.9" cy="337.0" r="1.0"/><circle cx="576.6" cy="336.4" r="0.7"/><circle cx="577.7" cy="339.9" r="0.9"/><circle cx="581.2" cy="334.9" r="1.4"/><circle cx="586.1" cy="334.8" r="0.7"/><circle cx="576.1" cy="335.5" r="0.8"/><circle cx="585.2" cy="335.2" r="1.2"/><circle cx="586.1" cy="333.6" r="1.3"/><circle cx="580.7" cy="342.8" r="0.9"/><circle cx="579.8" cy="341.4" r="1.1"/><circle cx="583.1" cy="340.3" r="0.7"/><circle cx="587.7" cy="340.8" r="1.4"/><circle cx="579.5" cy="344.0" r="0.9"/><circle cx="582.0" cy="345.0" r="1.0"/><circle cx="577.0" cy="341.4" r="0.9"/><circle cx="580.9" cy="341.1" r="1.4"/><circle cx="576.4" cy="341.0" r="1.2"/><circle cx="588.4" cy="343.1" r="1.1"/><circle cx="582.9" cy="350.2" r="0.7"/><circle cx="582.7" cy="346.9" r="1.0"/><circle cx="583.5" cy="348.4" r="1.4"/><circle cx="588.0" cy="345.2" r="0.7"/><circle cx="590.0" cy="348.8" r="0.9"/><circle cx="579.3" cy="351.9" r="1.4"/><circle cx="586.7" cy="344.2" r="1.1"/><circle cx="584.4" cy="346.2" r="1.2"/><circle cx="585.9" cy="344.9" r="0.7"/><circle cx="580.0" cy="346.7" r="1.4"/><circle cx="582.8" cy="358.2" r="1.2"/><circle cx="592.4" cy="356.0" r="0.7"/><circle cx="580.7" cy="353.8" r="1.3"/><circle cx="583.8" cy="352.0" r="0.8"/><circle cx="590.2" cy="355.3" r="1.0"/><circle cx="585.6" cy="358.1" r="1.2"/><circle cx="580.8" cy="352.5" r="1.3"/><circle cx="586.8" cy="355.4" r="1.3"/><circle cx="585.8" cy="353.0" r="0.8"/><circle cx="581.9" cy="356.1" r="1.2"/><circle cx="585.5" cy="355.1" r="1.1"/><circle cx="584.1" cy="355.4" r="1.4"/><circle cx="584.8" cy="357.6" r="0.7"/><circle cx="593.2" cy="353.9" r="1.0"/><circle cx="600.5" cy="352.3" r="0.9"/><circle cx="597.1" cy="349.1" r="1.2"/><circle cx="599.8" cy="353.5" r="0.9"/><circle cx="597.4" cy="351.4" r="0.9"/><circle cx="599.1" cy="354.9" r="1.4"/><circle cx="592.2" cy="354.8" r="0.7"/><circle cx="592.6" cy="352.6" r="1.0"/><circle cx="596.2" cy="352.3" r="0.8"/><circle cx="591.7" cy="351.7" r="1.3"/><circle cx="597.4" cy="350.2" r="0.9"/><circle cx="594.8" cy="358.8" r="1.2"/><circle cx="590.8" cy="355.0" r="1.0"/><circle cx="594.1" cy="350.5" r="1.4"/><circle cx="608.1" cy="349.4" r="0.8"/><circle cx="599.9" cy="351.0" r="0.7"/><circle cx="602.3" cy="353.2" r="1.3"/><circle cx="607.9" cy="344.4" r="0.8"/><circle cx="606.1" cy="344.6" r="1.3"/><circle cx="606.8" cy="346.4" r="0.7"/><circle cx="606.5" cy="348.0" r="1.3"/><circle cx="601.3" cy="347.5" r="1.3"/><circle cx="601.5" cy="351.8" r="0.7"/><circle cx="602.7" cy="351.7" r="1.2"/><circle cx="599.9" cy="346.6" r="1.2"/><circle cx="600.4" cy="353.3" r="1.4"/><circle cx="604.9" cy="349.8" r="1.4"/><circle cx="605.2" cy="350.7" r="1.0"/><circle cx="604.5" cy="348.0" r="0.9"/><circle cx="601.0" cy="348.5" r="1.2"/><circle cx="604.9" cy="351.5" r="0.8"/><circle cx="617.4" cy="346.0" r="1.0"/><circle cx="619.1" cy="343.8" r="1.2"/><circle cx="610.6" cy="346.9" r="1.0"/><circle cx="616.6" cy="346.1" r="1.1"/><circle cx="612.0" cy="350.0" r="1.1"/><circle cx="609.9" cy="343.0" r="1.2"/><circle cx="615.1" cy="342.4" r="1.0"/><circle cx="616.8" cy="347.3" r="0.7"/><circle cx="609.7" cy="347.7" r="1.1"/><circle cx="613.9" cy="346.4" r="1.3"/><circle cx="615.2" cy="347.0" r="0.7"/><circle cx="618.1" cy="341.9" r="0.8"/><circle cx="611.2" cy="345.4" r="1.2"/><circle cx="618.4" cy="342.5" r="1.2"/><circle cx="612.0" cy="341.6" r="0.8"/><circle cx="609.8" cy="344.9" r="1.1"/></g>
</g>
<path d="M681.0,541.5 L672.0,548.0 L663.5,554.8 L657.7,561.2 L651.9,565.8 L645.0,571.5 L638.1,577.9 L630.0,583.7 L621.9,589.4 L614.4,594.6 L608.0,600.0 L600.0,605.5 L590.0,613.0 L582.0,621.0 L575.7,630.0 L563.7,640.8 L551.7,651.5 L542.2,661.1 L533.8,668.3 L524.2,675.4 L515.9,681.4 L508.7,687.4 L505.7,692.2 L505.1,701.7 L506.0,708.0 L508.0,714.0 L511.1,720.9 L507.5,731.6 L502.7,743.6 L497.9,754.4 L494.3,761.5 L495.5,764.0 L497.0,766.0 L501.5,762.7 L506.3,754.4 L511.1,743.6 L515.9,731.6 L519.5,720.9 L520.0,715.0 L526.0,708.0 L536.0,700.0 L548.0,692.0 L560.0,685.0 L570.0,678.0 L580.0,670.0 L589.0,662.0 L597.0,655.0 L604.0,648.0 L611.0,640.0 L618.0,632.0 L626.0,624.0 L635.0,615.0 L643.0,608.0 L651.0,600.0 L657.7,590.6 L663.5,583.1 L668.1,575.0 L670.4,568.1 L673.3,561.2 L676.2,554.2 L679.6,547.3 L681.9,543.3 Z" fill="#7f7f7f" stroke="#808080" stroke-width="1.1" stroke-linejoin="round"/>
<path d="M681.1,541.7 L677.2,544.7 L673.4,547.7 L669.7,550.9 L666.1,554.1 L662.7,557.7 L659.5,561.4 L656.0,564.7 L652.3,567.9 L648.6,571.2 L645.0,574.5 L641.4,577.9 L637.7,581.1 L633.8,584.1 L629.8,587.0 L625.9,589.9 L621.9,592.8 L617.8,595.6 L614.0,598.7 L610.3,601.9 L606.3,604.8 L602.3,607.7 L598.4,610.7 L594.5,613.7 L590.8,617.0 L587.3,620.5 L584.0,624.1 L581.1,628.1 L578.2,632.1 L574.6,635.4 L570.9,638.7 L567.3,642.0 L563.6,645.3 L559.9,648.6 L556.2,651.8 L552.6,655.2 L549.1,658.7 L545.6,662.1 L541.9,665.3 L538.1,668.5 L534.2,671.5 L530.2,674.4 L526.2,677.3 L522.2,680.2 L518.2,683.1 L514.4,686.2 L510.7,689.4 L507.9,693.5 L507.2,698.2 L506.6,703.0" fill="none" stroke="#9a9a9a" stroke-width="0.8"/>
<path d="M681.2,542.0 L677.6,545.2 L674.1,548.5 L670.7,551.9 L667.4,555.4 L664.2,559.0 L661.3,562.9 L658.2,566.5 L654.7,569.9 L651.3,573.3 L647.7,576.7 L644.3,580.2 L640.7,583.6 L637.0,586.7 L633.1,589.8 L629.3,592.8 L625.3,595.7 L621.4,598.7 L617.6,601.8 L613.9,605.0 L610.0,608.0 L606.1,611.0 L602.2,614.1 L598.4,617.2 L594.9,620.5 L591.4,624.1 L588.1,627.7 L585.2,631.6 L582.2,635.5 L578.6,638.9 L574.9,642.2 L571.2,645.5 L567.6,648.7 L563.9,652.0 L560.2,655.3 L556.5,658.6 L553.0,662.0 L549.4,665.3 L545.6,668.5 L541.8,671.6 L537.8,674.5 L533.8,677.3 L529.8,680.1 L525.8,683.0 L521.7,685.8 L517.9,688.9 L514.2,692.1 L511.2,696.0 L510.0,700.5 L509.0,705.2" fill="none" stroke="#9a9a9a" stroke-width="0.8"/>
<path d="M681.4,542.3 L678.0,545.7 L674.8,549.2 L671.7,552.9 L668.7,556.6 L665.8,560.4 L663.2,564.5 L660.3,568.3 L657.1,571.9 L653.9,575.5 L650.5,579.0 L647.1,582.6 L643.7,586.0 L640.2,589.4 L636.4,592.5 L632.6,595.6 L628.8,598.7 L624.9,601.7 L621.1,604.8 L617.5,608.1 L613.7,611.2 L609.9,614.3 L606.1,617.5 L602.4,620.7 L598.9,624.1 L595.5,627.7 L592.2,631.3 L589.2,635.2 L586.1,639.0 L582.6,642.4 L578.9,645.6 L575.2,648.9 L571.5,652.2 L567.9,655.5 L564.2,658.7 L560.5,662.0 L556.8,665.3 L553.2,668.5 L549.4,671.6 L545.5,674.6 L541.5,677.4 L537.4,680.2 L533.3,683.0 L529.3,685.8 L525.3,688.6 L521.4,691.6 L517.6,694.8 L514.5,698.5 L512.9,702.9 L511.4,707.3" fill="none" stroke="#9a9a9a" stroke-width="0.8"/>
<path d="M681.5,542.5 L678.4,546.2 L675.5,550.0 L672.7,553.9 L670.0,557.8 L667.4,561.8 L665.0,566.0 L662.5,570.0 L659.5,573.8 L656.5,577.6 L653.2,581.2 L650.0,584.9 L646.7,588.5 L643.4,592.0 L639.8,595.3 L636.0,598.5 L632.3,601.6 L628.4,604.7 L624.7,607.9 L621.1,611.2 L617.4,614.4 L613.7,617.6 L610.0,620.9 L606.4,624.2 L603.0,627.7 L599.6,631.3 L596.3,634.9 L593.3,638.7 L590.1,642.5 L586.5,645.9 L582.9,649.1 L579.2,652.4 L575.5,655.6 L571.8,658.9 L568.1,662.1 L564.4,665.3 L560.7,668.6 L557.0,671.7 L553.1,674.7 L549.2,677.7 L545.1,680.4 L541.0,683.1 L536.9,685.8 L532.8,688.6 L528.8,691.4 L524.9,694.4 L521.1,697.5 L517.8,701.0 L515.7,705.2 L513.7,709.4" fill="none" stroke="#9a9a9a" stroke-width="0.8"/>
<path d="M681.7,542.8 L678.8,546.7 L676.2,550.7 L673.7,554.8 L671.3,559.0 L669.0,563.2 L666.8,567.5 L664.7,571.8 L661.9,575.8 L659.1,579.7 L656.0,583.5 L652.8,587.2 L649.7,591.0 L646.5,594.7 L643.1,598.1 L639.4,601.4 L635.8,604.6 L632.0,607.7 L628.3,610.9 L624.7,614.3 L621.1,617.6 L617.5,620.9 L613.9,624.3 L610.4,627.7 L607.0,631.2 L603.7,634.9 L600.5,638.5 L597.3,642.3 L594.0,645.9 L590.5,649.3 L586.8,652.6 L583.2,655.8 L579.5,659.1 L575.8,662.4 L572.1,665.6 L568.3,668.7 L564.6,671.9 L560.8,674.9 L556.8,677.9 L552.9,680.7 L548.7,683.3 L544.6,685.9 L540.4,688.6 L536.4,691.4 L532.3,694.1 L528.4,697.1 L524.6,700.2 L521.1,703.5 L518.6,707.5 L516.1,711.5" fill="none" stroke="#9a9a9a" stroke-width="0.8"/>
<path d="M681.8,543.1 L679.2,547.2 L676.9,551.5 L674.7,555.8 L672.6,560.2 L670.5,564.6 L668.6,569.1 L666.8,573.6 L664.3,577.7 L661.8,581.9 L658.7,585.7 L655.6,589.5 L652.7,593.4 L649.7,597.3 L646.4,600.8 L642.8,604.2 L639.2,607.6 L635.5,610.7 L631.9,614.0 L628.4,617.4 L624.8,620.8 L621.3,624.2 L617.8,627.7 L614.4,631.1 L611.1,634.8 L607.8,638.5 L604.6,642.1 L601.4,645.9 L598.0,649.4 L594.5,652.8 L590.8,656.1 L587.1,659.3 L583.5,662.6 L579.8,665.8 L576.1,669.0 L572.3,672.1 L568.5,675.2 L564.6,678.1 L560.6,681.0 L556.5,683.8 L552.3,686.3 L548.1,688.8 L544.0,691.4 L539.9,694.2 L535.9,696.9 L531.9,699.8 L528.1,702.9 L524.4,706.1 L521.4,709.8 L518.5,713.7" fill="none" stroke="#9a9a9a" stroke-width="0.8"/>
<path d="M680.8,540.4 L678.4,542.3 L676.1,544.2 L673.7,546.1 L671.3,548.0 L668.9,549.9 L666.6,551.8 L664.2,553.7 L661.8,555.6 L659.4,557.5 L657.1,559.4 L654.7,561.3 L652.3,563.1 L649.8,564.9 L647.4,566.7 L644.9,568.4 L642.4,570.1 L639.8,571.8 L637.3,573.4 L634.7,575.0 L632.1,576.6 L629.6,578.3 L627.1,580.0 L624.6,581.8 L622.2,583.6 L619.9,585.6 L617.6,587.6 L615.4,589.7 L613.3,591.9 L611.2,594.1 L609.2,596.3 L607.1,598.5 L604.8,600.6 L602.5,602.5 L600.3,604.5 L598.1,606.7 L596.1,608.9 L593.9,611.0 L591.5,612.9 L589.1,614.6 L586.6,616.5 L584.3,618.4 L582.1,620.5 L580.0,622.6 L577.8,624.7 L575.5,626.7 L573.1,628.5 L570.7,630.4 L568.4,632.3 L566.1,634.4 L563.8,636.4 L561.6,638.5 L559.4,640.5 L557.2,642.6 L555.0,644.7 L552.8,646.9 L550.7,649.0 L548.5,651.1 L546.3,653.2 L544.1,655.3 L541.8,657.3 L539.5,659.3 L537.2,661.3 L534.8,663.2 L532.4,664.9 L529.9,666.7 L527.4,668.4 L524.9,670.2 L522.4,671.9 L519.9,673.6 L517.4,675.2 L514.8,676.9 L512.3,678.6 L509.7,680.2 L507.0,681.6 L504.3,683.0 L501.6,684.3 L498.9,685.7 L496.2,687.1 L493.5,688.4 L490.7,689.7 L487.9,690.8 L485.0,691.5 L482.0,692.0" fill="none" stroke="#808080" stroke-width="1.3" stroke-linejoin="round"/>
<path d="M663.5,554.2 L661.4,556.4 L659.2,558.6 L657.1,560.8 L654.8,562.9 L652.4,564.8 L649.9,566.5 L647.4,568.3 L644.9,570.1 L642.5,572.0 L640.1,573.8 L637.6,575.7 L635.1,577.5 L632.6,579.2 L630.0,580.9 L627.4,582.4 L624.7,583.8 L622.4,585.3 L620.7,587.4 L619.1,589.6 L616.9,591.4 L614.3,592.9 L611.7,594.5 L609.2,596.2 L606.7,598.1 L604.3,600.0 L601.9,601.9 L599.5,603.7 L597.0,605.6 L594.6,607.5 L592.2,609.4 L589.8,611.3 L587.4,613.2 L585.0,615.1 L582.7,617.1 L580.4,619.2 L578.1,621.2 L575.8,623.3 L573.5,625.3 L571.2,627.4 L569.0,629.4 L566.7,631.5 L564.5,633.6 L562.3,635.8 L560.1,637.9 L557.9,640.1 L555.7,642.3 L553.6,644.4 L551.4,646.6 L549.2,648.8 L547.0,650.9 L544.8,653.1 L542.6,655.2 L540.3,657.3 L538.1,659.3 L535.8,661.4 L533.5,663.4 L531.0,665.2 L528.5,667.0 L526.0,668.7 L523.4,670.4 L520.9,672.1 L518.4,673.9 L515.9,675.7 L513.4,677.5 L510.9,679.2 L508.3,681.0 L505.8,682.7 L503.2,684.4 L500.6,686.0 L498.0,687.6 L495.4,689.1 L492.6,690.5 L489.8,691.8 L487.0,693.0" fill="none" stroke="#808080" stroke-width="1.3" stroke-linejoin="round"/>
<path d="M660.0,560.0 L657.6,562.0 L655.3,563.9 L652.9,565.9 L650.6,567.8 L648.2,569.8 L645.7,571.6 L643.2,573.4 L640.7,575.2 L638.2,577.0 L635.7,578.7 L633.2,580.5 L630.7,582.2 L628.1,583.9 L625.6,585.6 L623.1,587.4 L620.6,589.2 L618.2,591.1 L615.8,593.0 L613.4,594.9 L611.0,596.9 L608.6,598.8 L606.3,600.8 L603.9,602.7 L601.6,604.7 L599.2,606.7 L596.8,608.6 L594.5,610.6 L592.1,612.6 L589.8,614.6 L587.5,616.6 L585.3,618.7 L583.1,620.9 L580.9,623.0 L578.7,625.2 L576.5,627.2 L574.1,629.2 L571.8,631.2 L569.4,633.2 L567.1,635.1 L564.8,637.2 L562.5,639.2 L560.2,641.3 L558.0,643.4 L555.7,645.4 L553.4,647.4 L551.1,649.4 L548.7,651.4 L546.4,653.4 L544.0,655.3 L541.6,657.3 L539.3,659.3 L536.9,661.2 L534.6,663.2 L532.2,665.1 L529.8,667.1 L527.4,668.9 L524.9,670.8 L522.5,672.6 L520.0,674.5 L517.6,676.4 L515.2,678.3 L512.8,680.2 L510.4,682.1 L508.0,684.0" fill="none" stroke="#808080" stroke-width="1.3" stroke-linejoin="round"/>
<path d="M612.0,634.0 L610.3,636.6 L608.7,639.2 L607.0,641.8 L605.3,644.4 L603.6,646.9 L601.9,649.5 L600.6,652.1 L599.8,655.0 L599.4,658.1 L599.0,661.1 L598.4,664.1 L597.3,666.9 L595.8,669.5 L593.9,671.9 L591.7,673.8 L589.2,675.5 L586.5,677.1 L583.9,678.6 L581.2,680.3 L578.7,682.0 L576.3,683.9 L574.0,686.0 L572.1,688.3 L570.3,690.8 L568.5,693.3 L566.6,695.7 L564.6,698.1 L562.5,700.3 L560.2,702.4 L557.9,704.4 L555.5,706.3 L553.1,708.2 L550.5,709.8 L547.9,711.5 L545.3,713.1 L542.7,714.8 L540.3,716.6 L537.9,718.6 L535.6,720.7 L533.4,722.8 L531.4,725.1 L529.5,727.5 L527.8,730.0 L526.3,732.7 L525.1,735.5 L523.8,738.3 L522.5,741.1 L521.1,743.9 L519.8,746.7 L518.4,749.4 L517.0,752.2 L515.6,754.9 L514.0,757.5 L512.3,760.1 L510.5,762.6 L508.7,765.1" fill="none" stroke="#808000" stroke-width="1.3" stroke-linejoin="round"/>
<path d="M616.0,630.0 L614.2,632.5 L612.4,634.9 L610.6,637.5 L609.0,640.1 L607.3,642.6 L605.6,645.2 L603.7,647.6 L601.8,649.9 L599.7,652.2 L597.6,654.4 L595.4,656.6 L593.1,658.6 L590.8,660.7 L588.6,662.7 L586.3,664.8 L584.2,667.0 L582.0,669.2 L579.9,671.4 L577.8,673.6 L575.7,675.9 L573.7,678.2 L571.6,680.5 L569.5,682.7 L567.4,684.9 L565.2,687.1 L563.0,689.2 L560.6,691.2 L558.3,693.1 L555.8,695.0 L553.4,696.8 L550.9,698.7 L548.4,700.5 L545.9,702.2 L543.4,704.0 L541.0,705.8 L538.6,707.8 L536.4,709.9 L534.2,712.1 L532.1,714.3 L530.0,716.5 L528.1,718.9 L526.3,721.4 L524.4,723.8 L522.7,726.3 L521.0,728.9 L519.4,731.5 L517.8,734.2 L516.3,736.8 L514.9,739.6 L513.5,742.3 L512.2,745.0 L510.8,747.8 L509.4,750.5 L508.1,753.3 L506.7,756.0 L505.3,758.8 L503.9,761.5" fill="none" stroke="#808000" stroke-width="1.3" stroke-linejoin="round"/>
<path d="M608.0,640.0 L605.8,642.2 L603.6,644.4 L601.4,646.6 L599.2,648.8 L597.0,650.9 L594.8,653.1 L592.5,655.2 L590.2,657.2 L587.9,659.3 L585.7,661.4 L583.4,663.6 L581.2,665.8 L579.0,668.0 L576.9,670.2 L574.7,672.4 L572.6,674.6 L570.4,676.9 L568.3,679.1 L566.2,681.3 L563.9,683.5 L561.5,685.4 L559.0,687.1 L556.4,688.9 L553.8,690.6 L551.3,692.3 L548.7,694.0 L546.1,695.8 L543.6,697.5 L541.0,699.3 L538.5,701.0 L536.0,702.9 L533.6,704.8 L531.1,706.7 L528.7,708.7 L526.4,710.7 L524.2,712.9 L522.2,715.2 L520.2,717.6 L518.4,720.1 L516.8,722.7 L515.4,725.5 L514.1,728.2 L512.7,731.0 L511.5,733.9 L510.2,736.7 L508.9,739.5 L507.5,742.3 L506.2,745.1 L504.7,747.8 L503.2,750.5 L501.6,753.2 L500.0,755.8 L498.4,758.4 L496.9,761.2 L495.5,763.9" fill="none" stroke="#808000" stroke-width="1.3" stroke-linejoin="round"/>
<path d="M612.0,638.0 L609.6,640.0 L607.3,642.0 L604.9,643.9 L602.5,645.9 L600.1,647.9 L597.8,649.9 L595.4,651.9 L593.0,653.8 L590.6,655.8 L588.2,657.7 L585.8,659.6 L583.3,661.5 L580.8,663.4 L578.4,665.2 L575.9,667.1 L573.5,669.1 L571.2,671.0 L568.8,673.0 L566.4,675.0 L564.0,676.9 L561.5,678.8 L559.1,680.7 L556.6,682.5 L554.1,684.4 L551.7,686.3 L549.2,688.1 L546.7,690.0 L544.2,691.8 L541.8,693.7 L539.3,695.6 L536.9,697.5 L534.5,699.4 L532.1,701.4 L529.7,703.3 L527.4,705.3 L525.0,707.4 L522.8,709.5 L520.8,711.8 L518.9,714.2 L517.0,716.7 L515.3,719.2 L513.6,721.8 L512.0,724.5 L510.4,727.2 L509.0,729.9 L507.6,732.6 L506.2,735.4 L504.8,738.2 L503.4,740.9 L502.1,743.7 L500.7,746.5 L499.3,749.2 L497.9,752.0 L496.5,754.8 L495.2,757.5 L493.8,760.3" fill="none" stroke="#808000" stroke-width="1.3" stroke-linejoin="round"/>
<path d="M620.0,630.0 L617.9,632.3 L615.8,634.5 L613.7,636.8 L611.6,639.0 L609.5,641.3 L607.4,643.5 L605.1,645.6 L602.9,647.7 L600.6,649.8 L598.3,651.9 L596.1,653.9 L593.8,656.0 L591.5,658.1 L589.3,660.2 L587.0,662.2 L584.7,664.3 L582.4,666.3 L580.0,668.3 L577.7,670.3 L575.3,672.2 L572.9,674.2 L570.5,676.1 L568.0,678.0 L565.6,679.8 L563.1,681.7 L560.7,683.5 L558.2,685.4 L555.7,687.2 L553.3,689.1 L550.8,690.9 L548.3,692.7 L545.9,694.6 L543.4,696.4 L540.9,698.3 L538.5,700.1 L536.0,702.0 L533.6,703.9 L531.2,705.8 L528.8,707.8 L526.6,709.8 L524.5,712.1 L522.5,714.5 L520.7,716.9 L518.9,719.4 L517.3,722.1 L515.8,724.7 L514.4,727.4 L512.9,730.2 L511.5,732.9 L510.2,735.7 L508.8,738.4 L507.4,741.2 L506.0,743.9 L504.6,746.7 L503.2,749.4 L501.7,752.1 L500.2,754.8 L498.8,757.5 L497.4,760.2 L496.0,763.0" fill="none" stroke="#808000" stroke-width="1.3" stroke-linejoin="round"/>
<path d="M600.0,650.0 L599.1,653.0 L598.2,655.9 L597.1,658.7 L595.5,661.3 L593.7,663.7 L591.6,666.0 L589.5,668.2 L587.2,670.2 L584.8,672.2 L582.4,674.1 L579.9,676.0 L577.5,678.0 L575.1,679.9 L572.7,681.8 L570.4,683.8 L568.1,685.9 L565.9,688.1 L563.7,690.3 L561.5,692.4 L559.3,694.5 L556.9,696.5 L554.6,698.5 L552.2,700.5 L549.8,702.5 L547.4,704.4 L545.0,706.4 L542.6,708.3 L540.3,710.3 L538.0,712.3 L536.0,714.6 L534.0,717.0 L532.1,719.4 L530.3,721.9 L528.8,724.6 L527.3,727.3 L526.0,730.1 L524.6,732.8 L523.2,735.6 L521.8,738.4 L520.4,741.1 L519.1,743.9 L517.7,746.6 L516.3,749.4 L514.8,752.1 L513.3,754.8 L511.6,757.4 L510.0,760.0" fill="none" stroke="#808000" stroke-width="1.3" stroke-linejoin="round"/>
<path d="M598.0,649.0 L598.2,652.2 L598.5,655.3 L598.6,658.5 L598.5,661.6 L597.7,664.5 L596.5,667.4 L594.8,670.0 L592.7,672.2 L590.2,674.1 L587.6,675.8 L585.0,677.6 L582.4,679.5 L579.9,681.4 L577.4,683.3 L574.7,685.1 L572.0,686.7 L569.2,688.2 L566.5,689.8 L563.8,691.6 L561.2,693.4 L558.6,695.2 L556.0,697.0" fill="none" stroke="#808000" stroke-width="1.3" stroke-linejoin="round"/>
<path d="M650.0,584.0 L646.0,590.0" fill="none" stroke="#808000" stroke-width="1.3" stroke-linejoin="round"/>
<path d="M637.0,580.0 L640.0,576.0" fill="none" stroke="#808000" stroke-width="1.3" stroke-linejoin="round"/>
<path d="M681.9,543.3 L679.4,545.0 L676.9,546.8 L674.6,548.8 L672.5,550.9 L670.5,553.3 L668.7,555.7 L666.9,558.1 L665.1,560.6 L663.3,563.1 L661.5,565.5 L659.6,567.9 L657.5,570.2 L655.4,572.4 L653.3,574.5 L651.0,576.6 L648.7,578.6 L646.4,580.6 L644.0,582.4 L641.5,584.2 L639.0,585.9 L636.4,587.6 L633.8,589.1 L631.1,590.6 L628.5,592.2 L625.9,593.8 L623.4,595.5 L620.9,597.3 L618.5,599.1 L616.0,600.9 L613.6,602.8 L611.2,604.7 L608.8,606.5 L606.4,608.4 L604.1,610.4 L601.8,612.4 L599.6,614.5 L597.5,616.7 L595.7,619.1 L593.9,621.6 L592.1,624.1 L590.2,626.5 L588.2,628.7 L586.1,630.9 L584.0,633.1 L581.8,635.2 L579.6,637.4 L577.5,639.5 L575.2,641.6 L573.0,643.7 L570.7,645.7 L568.4,647.7 L566.1,649.7 L563.8,651.7 L561.6,653.8 L559.4,655.9 L557.2,658.1 L555.0,660.2 L552.9,662.4 L550.7,664.5 L548.6,666.7 L546.4,668.9 L544.3,671.0 L542.1,673.2 L539.9,675.3 L537.6,677.3 L535.3,679.3 L532.9,681.2 L530.5,683.2 L528.1,685.0 L525.7,686.9 L523.3,688.7 L520.8,690.5 L518.3,692.3 L515.9,694.1 L513.4,696.0 L511.0,697.9 L508.7,699.8 L506.3,701.7" fill="none" stroke="#800080" stroke-width="4.2" stroke-linejoin="round" stroke-linecap="square"/>
<path d="M681.4,541.0 L678.7,542.5 L676.1,544.0 L673.6,545.7 L671.3,547.6 L669.2,549.8 L667.2,552.1 L665.4,554.5 L663.6,557.0 L661.8,559.5 L660.0,561.9 L658.3,564.4 L656.6,566.9 L654.9,569.5 L653.1,572.0 L651.4,574.5 L649.7,577.0 L648.0,579.5 L646.2,582.0 L644.5,584.6 L642.9,587.1 L641.3,589.7 L639.7,592.3 L638.2,594.9 L636.6,597.6 L635.0,600.2 L633.4,602.7 L631.7,605.3 L630.1,607.9 L628.4,610.4 L626.8,613.0 L625.1,615.5 L623.6,618.1 L622.0,620.7 L620.3,623.3 L618.5,625.7 L616.6,628.1 L614.6,630.4 L612.6,632.6 L610.5,634.9 L608.5,637.2 L606.4,639.4 L604.3,641.6 L602.2,643.8 L600.1,646.0 L597.9,648.1 L595.7,650.3 L593.6,652.4 L591.4,654.6 L589.2,656.6 L586.9,658.7 L584.6,660.7 L582.3,662.7 L580.1,664.7 L577.8,666.7 L575.5,668.7 L573.2,670.7 L570.9,672.7 L568.5,674.6 L566.1,676.5 L563.6,678.3 L561.2,680.1 L558.6,681.7 L556.1,683.4 L553.6,685.1 L551.1,686.9 L548.7,688.8 L546.2,690.6 L543.8,692.4 L541.3,694.2 L538.8,695.9 L536.3,697.6 L533.7,699.3 L531.2,701.0 L528.7,702.7 L526.2,704.5 L523.8,706.3 L521.4,708.2 L519.2,710.3 L517.0,712.4 L515.0,714.7 L513.2,717.1 L511.5,719.6" fill="none" stroke="#000" stroke-width="4.2" stroke-linejoin="round" stroke-linecap="square"/>
<path d="M370.57,805.07 A6.40,6.40 0 1,0 377.29,803.59" fill="none" stroke="#000" stroke-width="3.10"/><path d="M376.20,809.30 L376.20,800.00 L384.90,800.00 L384.90,803.20 L379.10,803.20 L379.10,809.30 Z" fill="#000"/>
<path d="M414.47,821.27 A6.40,6.40 0 1,0 421.19,819.79" fill="none" stroke="#000" stroke-width="3.10"/><path d="M420.10,825.50 L420.10,816.20 L428.80,816.20 L428.80,819.40 L423.00,819.40 L423.00,825.50 Z" fill="#000"/>
<path d="M507.37,843.77 A6.40,6.40 0 1,0 514.09,842.29" fill="none" stroke="#000" stroke-width="3.10"/><path d="M513.00,848.00 L513.00,838.70 L521.70,838.70 L521.70,841.90 L515.90,841.90 L515.90,848.00 Z" fill="#000"/>
<path d="M618.87,865.37 A6.40,6.40 0 1,0 625.59,863.89" fill="none" stroke="#000" stroke-width="3.10"/><path d="M624.50,869.60 L624.50,860.30 L633.20,860.30 L633.20,863.50 L627.40,863.50 L627.40,869.60 Z" fill="#000"/>
</g>
<rect x="84.40" y="89.40" width="1524.90" height="962.10" fill="none" stroke="#000" stroke-width="1.39"/>
<text x="69.1" y="1057.1" font-size="20.83" font-weight="bold" text-anchor="end" >0°</text>
<text x="69.1" y="865.5" font-size="20.83" font-weight="bold" text-anchor="end" >10°N</text>
<text x="69.1" y="667.9" font-size="20.83" font-weight="bold" text-anchor="end" >20°N</text>
<text x="69.1" y="457.2" font-size="20.83" font-weight="bold" text-anchor="end" >30°N</text>
<text x="69.1" y="223.9" font-size="20.83" font-weight="bold" text-anchor="end" >40°N</text>
<text x="85.5" y="1083.0" font-size="20.83" font-weight="bold" text-anchor="middle" >100°E</text>
<text x="465.9" y="1083.0" font-size="20.83" font-weight="bold" text-anchor="middle" >120°E</text>
<text x="847.1" y="1083.0" font-size="20.83" font-weight="bold" text-anchor="middle" >140°E</text>
<text x="1228.4" y="1083.0" font-size="20.83" font-weight="bold" text-anchor="middle" >160°E</text>
<text x="1607.1" y="1083.0" font-size="20.83" font-weight="bold" text-anchor="middle" >180°</text>
<rect x="93.46" y="97.46" width="338.04" height="169.84000000000003" rx="3.5" fill="#fff" stroke="#000" stroke-width="1.3"/>
<line x1="99.3" y1="110.4" x2="133.3" y2="110.4" stroke="#808080" stroke-width="1.39" stroke-linecap="square"/>
<text x="145.2" y="115.9" font-size="16.67" font-weight="normal" text-anchor="start" >No Interception</text>
<line x1="99.3" y1="134.4" x2="133.3" y2="134.4" stroke="#ff4500" stroke-width="1.39" stroke-linecap="square"/>
<text x="145.2" y="139.7" font-size="16.67" font-weight="normal" text-anchor="start" >Interception from Named cyclone</text>
<line x1="99.3" y1="157.5" x2="133.3" y2="157.5" stroke="#808000" stroke-width="1.39" stroke-linecap="square"/>
<text x="145.2" y="163.2" font-size="16.67" font-weight="normal" text-anchor="start" >Interception from Trochoid</text>
<line x1="99.3" y1="180.4" x2="133.3" y2="180.4" stroke="#008000" stroke-width="1.39" stroke-linecap="square"/>
<text x="145.2" y="186.0" font-size="16.67" font-weight="normal" text-anchor="start" >Interception from both</text>
<line x1="99.3" y1="203.9" x2="133.3" y2="203.9" stroke="#800080" stroke-width="4.0" stroke-linecap="square"/>
<text x="145.2" y="210.1" font-size="16.67" font-weight="normal" text-anchor="start" >HRES</text>
<line x1="99.3" y1="226.9" x2="133.3" y2="226.9" stroke="#000000" stroke-width="4.0" stroke-linecap="square"/>
<text x="145.2" y="233.3" font-size="16.67" font-weight="normal" text-anchor="start" >Analysis | 44h duration</text>
<path d="M113.42,250.82 A4.35,4.35 0 1,0 117.99,249.81" fill="none" stroke="#000" stroke-width="2.11"/><path d="M117.25,253.70 L117.25,247.37 L123.16,247.37 L123.16,249.55 L119.22,249.55 L119.22,253.70 Z" fill="#000"/>
<text x="145.2" y="257.0" font-size="16.67" font-weight="normal" text-anchor="start" >TC obs. for analysis duration</text>
<rect x="1662.6" y="910.65" width="19.80" height="28.85" fill="#e3eef9"/>
<rect x="1662.6" y="881.79" width="19.80" height="29.85" fill="#dceaf6"/>
<rect x="1662.6" y="852.94" width="19.80" height="29.85" fill="#d5e5f4"/>
<rect x="1662.6" y="824.08" width="19.80" height="29.85" fill="#cee0f2"/>
<rect x="1662.6" y="795.23" width="19.80" height="29.85" fill="#c7dcef"/>
<rect x="1662.6" y="766.38" width="19.80" height="29.85" fill="#bdd7ec"/>
<rect x="1662.6" y="737.52" width="19.80" height="29.85" fill="#b2d2e8"/>
<rect x="1662.6" y="708.67" width="19.80" height="29.85" fill="#a5cde3"/>
<rect x="1662.6" y="679.82" width="19.80" height="29.85" fill="#99c7e0"/>
<rect x="1662.6" y="650.96" width="19.80" height="29.85" fill="#8abfdd"/>
<rect x="1662.6" y="622.11" width="19.80" height="29.85" fill="#7cb7da"/>
<rect x="1662.6" y="593.25" width="19.80" height="29.85" fill="#6dafd7"/>
<rect x="1662.6" y="564.40" width="19.80" height="29.85" fill="#60a7d2"/>
<rect x="1662.6" y="535.55" width="19.80" height="29.85" fill="#549fcd"/>
<rect x="1662.6" y="506.69" width="19.80" height="29.85" fill="#4997c9"/>
<rect x="1662.6" y="477.84" width="19.80" height="29.85" fill="#3e8ec4"/>
<rect x="1662.6" y="448.98" width="19.80" height="29.85" fill="#3484bf"/>
<rect x="1662.6" y="420.13" width="19.80" height="29.85" fill="#2b7bba"/>
<rect x="1662.6" y="391.28" width="19.80" height="29.85" fill="#2171b5"/>
<rect x="1662.6" y="362.42" width="19.80" height="29.85" fill="#1a68ae"/>
<rect x="1662.6" y="333.57" width="19.80" height="29.85" fill="#135fa7"/>
<rect x="1662.6" y="304.72" width="19.80" height="29.85" fill="#0b559f"/>
<rect x="1662.6" y="275.86" width="19.80" height="29.85" fill="#084c95"/>
<rect x="1662.6" y="247.01" width="19.80" height="29.85" fill="#084387"/>
<rect x="1662.6" y="218.15" width="19.80" height="29.85" fill="#083979"/>
<rect x="1662.6" y="189.30" width="19.80" height="29.85" fill="#08306b"/>
<rect x="1662.6" y="189.3" width="19.80" height="750.20" fill="none" stroke="#000" stroke-width="1.1"/>
<line x1="1682.4" y1="939.50" x2="1687.30" y2="939.50" stroke="#000" stroke-width="1.1"/>
<text x="1691.4" y="945.5" font-size="13.9" font-weight="normal" text-anchor="start" >0</text>
<line x1="1682.4" y1="795.23" x2="1687.30" y2="795.23" stroke="#000" stroke-width="1.1"/>
<text x="1691.4" y="801.2" font-size="13.9" font-weight="normal" text-anchor="start" >10</text>
<line x1="1682.4" y1="650.96" x2="1687.30" y2="650.96" stroke="#000" stroke-width="1.1"/>
<text x="1691.4" y="657.0" font-size="13.9" font-weight="normal" text-anchor="start" >20</text>
<line x1="1682.4" y1="506.69" x2="1687.30" y2="506.69" stroke="#000" stroke-width="1.1"/>
<text x="1691.4" y="512.7" font-size="13.9" font-weight="normal" text-anchor="start" >30</text>
<line x1="1682.4" y1="362.42" x2="1687.30" y2="362.42" stroke="#000" stroke-width="1.1"/>
<text x="1691.4" y="368.4" font-size="13.9" font-weight="normal" text-anchor="start" >40</text>
<line x1="1682.4" y1="218.15" x2="1687.30" y2="218.15" stroke="#000" stroke-width="1.1"/>
<text x="1691.4" y="224.2" font-size="13.9" font-weight="normal" text-anchor="start" >50</text>
<text transform="translate(1734.1,624) rotate(-90)" font-size="19.44" font-weight="bold" text-anchor="middle">Named cyclones forecast - Number of EPS within 120km</text>
<rect x="22.40" y="1137.5" width="42.00" height="40.55" fill="#9e0142"/>
<rect x="63.40" y="1137.5" width="42.00" height="40.55" fill="#9e0142"/>
<rect x="104.41" y="1137.5" width="42.00" height="40.55" fill="#9e0142"/>
<rect x="145.41" y="1137.5" width="42.00" height="40.55" fill="#b41947"/>
<text x="165.9" y="1162.2" font-size="13.9" font-weight="bold" text-anchor="middle" >4</text>
<rect x="186.41" y="1137.5" width="42.00" height="40.55" fill="#b41947"/>
<text x="206.9" y="1162.2" font-size="13.9" font-weight="bold" text-anchor="middle" >4</text>
<rect x="227.41" y="1137.5" width="42.00" height="40.55" fill="#c9314c"/>
<text x="247.9" y="1162.2" font-size="13.9" font-weight="bold" text-anchor="middle" >8</text>
<rect x="268.41" y="1137.5" width="42.00" height="40.55" fill="#d43d4f"/>
<text x="288.9" y="1162.2" font-size="13.9" font-weight="bold" text-anchor="middle" >10</text>
<rect x="309.42" y="1137.5" width="42.00" height="40.55" fill="#e1504b"/>
<text x="329.9" y="1162.2" font-size="13.9" font-weight="bold" text-anchor="middle" >14</text>
<rect x="350.42" y="1137.5" width="42.00" height="40.55" fill="#ee6445"/>
<text x="370.9" y="1162.2" font-size="13.9" font-weight="bold" text-anchor="middle" >18</text>
<rect x="391.42" y="1137.5" width="42.00" height="40.55" fill="#f46d43"/>
<text x="411.9" y="1162.2" font-size="13.9" font-weight="bold" text-anchor="middle" >20</text>
<rect x="432.42" y="1137.5" width="42.00" height="40.55" fill="#f46d43"/>
<text x="452.9" y="1162.2" font-size="13.9" font-weight="bold" text-anchor="middle" >20</text>
<rect x="473.43" y="1137.5" width="42.00" height="40.55" fill="#f46d43"/>
<text x="493.9" y="1162.2" font-size="13.9" font-weight="bold" text-anchor="middle" >20</text>
<rect x="514.43" y="1137.5" width="42.00" height="40.55" fill="#f8864f"/>
<text x="534.9" y="1162.2" font-size="13.9" font-weight="bold" text-anchor="middle" >24</text>
<rect x="555.43" y="1137.5" width="42.00" height="40.55" fill="#f8864f"/>
<text x="575.9" y="1162.2" font-size="13.9" font-weight="bold" text-anchor="middle" >24</text>
<rect x="596.43" y="1137.5" width="42.00" height="40.55" fill="#f98e52"/>
<text x="616.9" y="1162.2" font-size="13.9" font-weight="bold" text-anchor="middle" >25</text>
<rect x="637.44" y="1137.5" width="42.00" height="40.55" fill="#f98e52"/>
<text x="657.9" y="1162.2" font-size="13.9" font-weight="bold" text-anchor="middle" >25</text>
<rect x="678.44" y="1137.5" width="42.00" height="40.55" fill="#f67a49"/>
<text x="698.9" y="1162.2" font-size="13.9" font-weight="bold" text-anchor="middle" >22</text>
<rect x="719.44" y="1137.5" width="42.00" height="40.55" fill="#f67a49"/>
<text x="739.9" y="1162.2" font-size="13.9" font-weight="bold" text-anchor="middle" >22</text>
<rect x="760.44" y="1137.5" width="42.00" height="40.55" fill="#f67a49"/>
<text x="780.9" y="1162.2" font-size="13.9" font-weight="bold" text-anchor="middle" >22</text>
<rect x="801.45" y="1137.5" width="42.00" height="40.55" fill="#f8864f"/>
<text x="821.9" y="1162.2" font-size="13.9" font-weight="bold" text-anchor="middle" >24</text>
<rect x="842.45" y="1137.5" width="42.00" height="40.55" fill="#f67a49"/>
<text x="863.0" y="1162.2" font-size="13.9" font-weight="bold" text-anchor="middle" >22</text>
<rect x="883.45" y="1137.5" width="42.00" height="40.55" fill="#ee6445"/>
<text x="904.0" y="1162.2" font-size="13.9" font-weight="bold" text-anchor="middle" >18</text>
<rect x="924.45" y="1137.5" width="42.00" height="40.55" fill="#da464d"/>
<text x="945.0" y="1162.2" font-size="13.9" font-weight="bold" text-anchor="middle" >12</text>
<rect x="965.46" y="1137.5" width="42.00" height="40.55" fill="#d43d4f"/>
<text x="986.0" y="1162.2" font-size="13.9" font-weight="bold" text-anchor="middle" >10</text>
<rect x="1006.46" y="1137.5" width="42.00" height="40.55" fill="#d43d4f"/>
<text x="1027.0" y="1162.2" font-size="13.9" font-weight="bold" text-anchor="middle" >10</text>
<rect x="1047.46" y="1137.5" width="42.00" height="40.55" fill="#c9314c"/>
<text x="1068.0" y="1162.2" font-size="13.9" font-weight="bold" text-anchor="middle" >8</text>
<rect x="1088.47" y="1137.5" width="42.00" height="40.55" fill="#be254a"/>
<text x="1109.0" y="1162.2" font-size="13.9" font-weight="bold" text-anchor="middle" >6</text>
<rect x="1129.47" y="1137.5" width="42.00" height="40.55" fill="#be254a"/>
<text x="1150.0" y="1162.2" font-size="13.9" font-weight="bold" text-anchor="middle" >6</text>
<rect x="1170.47" y="1137.5" width="42.00" height="40.55" fill="#b41947"/>
<text x="1191.0" y="1162.2" font-size="13.9" font-weight="bold" text-anchor="middle" >4</text>
<rect x="1211.47" y="1137.5" width="42.00" height="40.55" fill="#9e0142"/>
<rect x="1252.47" y="1137.5" width="42.00" height="40.55" fill="#9e0142"/>
<rect x="1293.48" y="1137.5" width="42.00" height="40.55" fill="#9e0142"/>
<rect x="1334.48" y="1137.5" width="42.00" height="40.55" fill="#9e0142"/>
<rect x="1375.48" y="1137.5" width="42.00" height="40.55" fill="#9e0142"/>
<rect x="1416.49" y="1137.5" width="42.00" height="40.55" fill="#9e0142"/>
<rect x="1457.49" y="1137.5" width="42.00" height="40.55" fill="#9e0142"/>
<rect x="1498.49" y="1137.5" width="42.00" height="40.55" fill="#9e0142"/>
<rect x="1539.49" y="1137.5" width="42.00" height="40.55" fill="#9e0142"/>
<rect x="1580.49" y="1137.5" width="42.00" height="40.55" fill="#9e0142"/>
<rect x="1621.50" y="1137.5" width="41.00" height="40.55" fill="#9e0142"/>
<rect x="22.4" y="1137.5" width="1640.10" height="40.55" fill="none" stroke="#000" stroke-width="1.1"/>
<line x1="22.40" y1="1178.05" x2="22.40" y2="1183.05" stroke="#000" stroke-width="1.1"/>
<text x="22.4" y="1200.0" font-size="16.67" font-weight="bold" text-anchor="middle" >0h</text>
<line x1="63.40" y1="1178.05" x2="63.40" y2="1183.05" stroke="#000" stroke-width="1.1"/>
<line x1="104.41" y1="1178.05" x2="104.41" y2="1183.05" stroke="#000" stroke-width="1.1"/>
<line x1="145.41" y1="1178.05" x2="145.41" y2="1183.05" stroke="#000" stroke-width="1.1"/>
<line x1="186.41" y1="1178.05" x2="186.41" y2="1183.05" stroke="#000" stroke-width="1.1"/>
<text x="186.4" y="1200.0" font-size="16.67" font-weight="bold" text-anchor="middle" >12h</text>
<line x1="227.41" y1="1178.05" x2="227.41" y2="1183.05" stroke="#000" stroke-width="1.1"/>
<line x1="268.41" y1="1178.05" x2="268.41" y2="1183.05" stroke="#000" stroke-width="1.1"/>
<line x1="309.42" y1="1178.05" x2="309.42" y2="1183.05" stroke="#000" stroke-width="1.1"/>
<line x1="350.42" y1="1178.05" x2="350.42" y2="1183.05" stroke="#000" stroke-width="1.1"/>
<text x="350.4" y="1200.0" font-size="16.67" font-weight="bold" text-anchor="middle" >24h</text>
<line x1="391.42" y1="1178.05" x2="391.42" y2="1183.05" stroke="#000" stroke-width="1.1"/>
<line x1="432.42" y1="1178.05" x2="432.42" y2="1183.05" stroke="#000" stroke-width="1.1"/>
<line x1="473.43" y1="1178.05" x2="473.43" y2="1183.05" stroke="#000" stroke-width="1.1"/>
<line x1="514.43" y1="1178.05" x2="514.43" y2="1183.05" stroke="#000" stroke-width="1.1"/>
<text x="514.4" y="1200.0" font-size="16.67" font-weight="bold" text-anchor="middle" >36h</text>
<line x1="555.43" y1="1178.05" x2="555.43" y2="1183.05" stroke="#000" stroke-width="1.1"/>
<line x1="596.43" y1="1178.05" x2="596.43" y2="1183.05" stroke="#000" stroke-width="1.1"/>
<line x1="637.44" y1="1178.05" x2="637.44" y2="1183.05" stroke="#000" stroke-width="1.1"/>
<line x1="678.44" y1="1178.05" x2="678.44" y2="1183.05" stroke="#000" stroke-width="1.1"/>
<text x="678.4" y="1200.0" font-size="16.67" font-weight="bold" text-anchor="middle" >48h</text>
<line x1="719.44" y1="1178.05" x2="719.44" y2="1183.05" stroke="#000" stroke-width="1.1"/>
<line x1="760.44" y1="1178.05" x2="760.44" y2="1183.05" stroke="#000" stroke-width="1.1"/>
<line x1="801.45" y1="1178.05" x2="801.45" y2="1183.05" stroke="#000" stroke-width="1.1"/>
<line x1="842.45" y1="1178.05" x2="842.45" y2="1183.05" stroke="#000" stroke-width="1.1"/>
<text x="842.4" y="1200.0" font-size="16.67" font-weight="bold" text-anchor="middle" >60h</text>
<line x1="883.45" y1="1178.05" x2="883.45" y2="1183.05" stroke="#000" stroke-width="1.1"/>
<line x1="924.45" y1="1178.05" x2="924.45" y2="1183.05" stroke="#000" stroke-width="1.1"/>
<line x1="965.46" y1="1178.05" x2="965.46" y2="1183.05" stroke="#000" stroke-width="1.1"/>
<line x1="1006.46" y1="1178.05" x2="1006.46" y2="1183.05" stroke="#000" stroke-width="1.1"/>
<text x="1006.5" y="1200.0" font-size="16.67" font-weight="bold" text-anchor="middle" >72h</text>
<line x1="1047.46" y1="1178.05" x2="1047.46" y2="1183.05" stroke="#000" stroke-width="1.1"/>
<line x1="1088.47" y1="1178.05" x2="1088.47" y2="1183.05" stroke="#000" stroke-width="1.1"/>
<line x1="1129.47" y1="1178.05" x2="1129.47" y2="1183.05" stroke="#000" stroke-width="1.1"/>
<line x1="1170.47" y1="1178.05" x2="1170.47" y2="1183.05" stroke="#000" stroke-width="1.1"/>
<text x="1170.5" y="1200.0" font-size="16.67" font-weight="bold" text-anchor="middle" >84h</text>
<line x1="1211.47" y1="1178.05" x2="1211.47" y2="1183.05" stroke="#000" stroke-width="1.1"/>
<line x1="1252.47" y1="1178.05" x2="1252.47" y2="1183.05" stroke="#000" stroke-width="1.1"/>
<line x1="1293.48" y1="1178.05" x2="1293.48" y2="1183.05" stroke="#000" stroke-width="1.1"/>
<line x1="1334.48" y1="1178.05" x2="1334.48" y2="1183.05" stroke="#000" stroke-width="1.1"/>
<text x="1334.5" y="1200.0" font-size="16.67" font-weight="bold" text-anchor="middle" >96h</text>
<line x1="1375.48" y1="1178.05" x2="1375.48" y2="1183.05" stroke="#000" stroke-width="1.1"/>
<line x1="1416.49" y1="1178.05" x2="1416.49" y2="1183.05" stroke="#000" stroke-width="1.1"/>
<line x1="1457.49" y1="1178.05" x2="1457.49" y2="1183.05" stroke="#000" stroke-width="1.1"/>
<line x1="1498.49" y1="1178.05" x2="1498.49" y2="1183.05" stroke="#000" stroke-width="1.1"/>
<text x="1498.5" y="1200.0" font-size="16.67" font-weight="bold" text-anchor="middle" >108h</text>
<line x1="1539.49" y1="1178.05" x2="1539.49" y2="1183.05" stroke="#000" stroke-width="1.1"/>
<line x1="1580.49" y1="1178.05" x2="1580.49" y2="1183.05" stroke="#000" stroke-width="1.1"/>
<line x1="1621.50" y1="1178.05" x2="1621.50" y2="1183.05" stroke="#000" stroke-width="1.1"/>
<line x1="1662.50" y1="1178.05" x2="1662.50" y2="1183.05" stroke="#000" stroke-width="1.1"/>
<text x="1662.5" y="1200.0" font-size="16.67" font-weight="bold" text-anchor="middle" >120h</text>
<line x1="17.5" y1="1158.5" x2="22.4" y2="1158.5" stroke="#000" stroke-width="1.1"/>
<text x="861.0" y="1121.0" font-size="16.67" font-weight="bold" text-anchor="middle" >Percentage of flying ballons within a TC as a function of flight time</text></svg></body></html>
